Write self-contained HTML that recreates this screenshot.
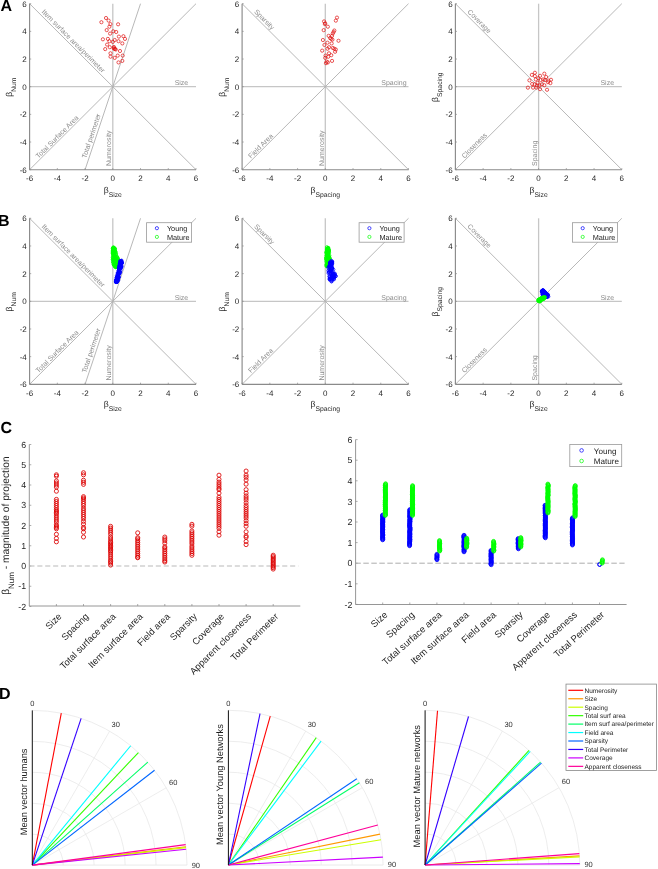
<!DOCTYPE html>
<html><head><meta charset="utf-8"><style>
html,body{margin:0;padding:0;background:#fff;overflow:hidden;width:658px;height:869px;}
svg{display:block;will-change:transform;text-rendering:geometricPrecision;font-family:"Liberation Sans", sans-serif;}
</style></head><body>
<svg width="658" height="869" viewBox="0 0 658 869">
<rect width="658" height="869" fill="#fff"/>
<line x1="29.60" y1="86.70" x2="196.00" y2="86.70" stroke="#c6c6c6" stroke-width="1.3"/>
<line x1="112.80" y1="169.70" x2="112.80" y2="3.70" stroke="#c6c6c6" stroke-width="1.3"/>
<line x1="29.60" y1="169.70" x2="196.00" y2="3.70" stroke="#b0b0b0" stroke-width="0.9"/>
<line x1="29.60" y1="3.70" x2="196.00" y2="169.70" stroke="#b0b0b0" stroke-width="0.9"/>
<line x1="85.07" y1="169.70" x2="140.53" y2="3.70" stroke="#b0b0b0" stroke-width="0.9"/>
<line x1="29.60" y1="3.70" x2="29.60" y2="169.70" stroke="#8a8a8a" stroke-width="1.15"/>
<line x1="29.60" y1="169.70" x2="196.00" y2="169.70" stroke="#8a8a8a" stroke-width="1.15"/>
<line x1="29.60" y1="169.70" x2="29.60" y2="168.10" stroke="#8a8a8a" stroke-width="0.7"/>
<line x1="29.60" y1="169.70" x2="31.20" y2="169.70" stroke="#8a8a8a" stroke-width="0.7"/>
<text x="29.60" y="180.90" font-size="8.0" fill="#262626" text-anchor="middle">-6</text>
<text x="26.80" y="172.60" font-size="8.0" fill="#262626" text-anchor="end">-6</text>
<line x1="57.33" y1="169.70" x2="57.33" y2="168.10" stroke="#8a8a8a" stroke-width="0.7"/>
<line x1="29.60" y1="142.03" x2="31.20" y2="142.03" stroke="#8a8a8a" stroke-width="0.7"/>
<text x="57.33" y="180.90" font-size="8.0" fill="#262626" text-anchor="middle">-4</text>
<text x="26.80" y="144.93" font-size="8.0" fill="#262626" text-anchor="end">-4</text>
<line x1="85.07" y1="169.70" x2="85.07" y2="168.10" stroke="#8a8a8a" stroke-width="0.7"/>
<line x1="29.60" y1="114.37" x2="31.20" y2="114.37" stroke="#8a8a8a" stroke-width="0.7"/>
<text x="85.07" y="180.90" font-size="8.0" fill="#262626" text-anchor="middle">-2</text>
<text x="26.80" y="117.27" font-size="8.0" fill="#262626" text-anchor="end">-2</text>
<line x1="112.80" y1="169.70" x2="112.80" y2="168.10" stroke="#8a8a8a" stroke-width="0.7"/>
<line x1="29.60" y1="86.70" x2="31.20" y2="86.70" stroke="#8a8a8a" stroke-width="0.7"/>
<text x="112.80" y="180.90" font-size="8.0" fill="#262626" text-anchor="middle">0</text>
<text x="26.80" y="89.60" font-size="8.0" fill="#262626" text-anchor="end">0</text>
<line x1="140.53" y1="169.70" x2="140.53" y2="168.10" stroke="#8a8a8a" stroke-width="0.7"/>
<line x1="29.60" y1="59.03" x2="31.20" y2="59.03" stroke="#8a8a8a" stroke-width="0.7"/>
<text x="140.53" y="180.90" font-size="8.0" fill="#262626" text-anchor="middle">2</text>
<text x="26.80" y="61.93" font-size="8.0" fill="#262626" text-anchor="end">2</text>
<line x1="168.27" y1="169.70" x2="168.27" y2="168.10" stroke="#8a8a8a" stroke-width="0.7"/>
<line x1="29.60" y1="31.37" x2="31.20" y2="31.37" stroke="#8a8a8a" stroke-width="0.7"/>
<text x="168.27" y="180.90" font-size="8.0" fill="#262626" text-anchor="middle">4</text>
<text x="26.80" y="34.27" font-size="8.0" fill="#262626" text-anchor="end">4</text>
<line x1="196.00" y1="169.70" x2="196.00" y2="168.10" stroke="#8a8a8a" stroke-width="0.7"/>
<line x1="29.60" y1="3.70" x2="31.20" y2="3.70" stroke="#8a8a8a" stroke-width="0.7"/>
<text x="196.00" y="180.90" font-size="8.0" fill="#262626" text-anchor="middle">6</text>
<text x="26.80" y="6.60" font-size="8.0" fill="#262626" text-anchor="end">6</text>
<text x="112.80" y="192.80" font-size="8.6" fill="#262626" text-anchor="middle">β<tspan font-size="6.8" dy="4.0">Size</tspan></text>
<text transform="translate(12.00,87.15) rotate(-90)" font-size="8.6" fill="#262626" text-anchor="middle">β<tspan font-size="6.8" dy="4.3">Num</tspan></text>
<text x="41.25" y="12.28" font-size="7" fill="#8c8c8c" text-anchor="start" transform="rotate(45 41.25 12.28)">Item surface area/perimeter</text>
<text x="181.44" y="85.32" font-size="7" fill="#8c8c8c" text-anchor="middle">Size</text>
<text x="38.61" y="158.77" font-size="7" fill="#8c8c8c" text-anchor="start" transform="rotate(-45 38.61 158.77)">Total Surface Area</text>
<text x="86.18" y="158.63" font-size="7" fill="#8c8c8c" text-anchor="start" transform="rotate(-71.57 86.18 158.63)">Total perimeter</text>
<text x="111.14" y="165.97" font-size="7" fill="#8c8c8c" text-anchor="start" transform="rotate(-90 111.14 165.97)">Numerosity</text>
<line x1="242.10" y1="86.70" x2="408.50" y2="86.70" stroke="#c6c6c6" stroke-width="1.3"/>
<line x1="325.30" y1="169.70" x2="325.30" y2="3.70" stroke="#c6c6c6" stroke-width="1.3"/>
<line x1="242.10" y1="169.70" x2="408.50" y2="3.70" stroke="#b0b0b0" stroke-width="0.9"/>
<line x1="242.10" y1="3.70" x2="408.50" y2="169.70" stroke="#b0b0b0" stroke-width="0.9"/>
<line x1="242.10" y1="3.70" x2="242.10" y2="169.70" stroke="#8a8a8a" stroke-width="1.15"/>
<line x1="242.10" y1="169.70" x2="408.50" y2="169.70" stroke="#8a8a8a" stroke-width="1.15"/>
<line x1="242.10" y1="169.70" x2="242.10" y2="168.10" stroke="#8a8a8a" stroke-width="0.7"/>
<line x1="242.10" y1="169.70" x2="243.70" y2="169.70" stroke="#8a8a8a" stroke-width="0.7"/>
<text x="242.10" y="180.90" font-size="8.0" fill="#262626" text-anchor="middle">-6</text>
<text x="239.30" y="172.60" font-size="8.0" fill="#262626" text-anchor="end">-6</text>
<line x1="269.83" y1="169.70" x2="269.83" y2="168.10" stroke="#8a8a8a" stroke-width="0.7"/>
<line x1="242.10" y1="142.03" x2="243.70" y2="142.03" stroke="#8a8a8a" stroke-width="0.7"/>
<text x="269.83" y="180.90" font-size="8.0" fill="#262626" text-anchor="middle">-4</text>
<text x="239.30" y="144.93" font-size="8.0" fill="#262626" text-anchor="end">-4</text>
<line x1="297.57" y1="169.70" x2="297.57" y2="168.10" stroke="#8a8a8a" stroke-width="0.7"/>
<line x1="242.10" y1="114.37" x2="243.70" y2="114.37" stroke="#8a8a8a" stroke-width="0.7"/>
<text x="297.57" y="180.90" font-size="8.0" fill="#262626" text-anchor="middle">-2</text>
<text x="239.30" y="117.27" font-size="8.0" fill="#262626" text-anchor="end">-2</text>
<line x1="325.30" y1="169.70" x2="325.30" y2="168.10" stroke="#8a8a8a" stroke-width="0.7"/>
<line x1="242.10" y1="86.70" x2="243.70" y2="86.70" stroke="#8a8a8a" stroke-width="0.7"/>
<text x="325.30" y="180.90" font-size="8.0" fill="#262626" text-anchor="middle">0</text>
<text x="239.30" y="89.60" font-size="8.0" fill="#262626" text-anchor="end">0</text>
<line x1="353.03" y1="169.70" x2="353.03" y2="168.10" stroke="#8a8a8a" stroke-width="0.7"/>
<line x1="242.10" y1="59.03" x2="243.70" y2="59.03" stroke="#8a8a8a" stroke-width="0.7"/>
<text x="353.03" y="180.90" font-size="8.0" fill="#262626" text-anchor="middle">2</text>
<text x="239.30" y="61.93" font-size="8.0" fill="#262626" text-anchor="end">2</text>
<line x1="380.77" y1="169.70" x2="380.77" y2="168.10" stroke="#8a8a8a" stroke-width="0.7"/>
<line x1="242.10" y1="31.37" x2="243.70" y2="31.37" stroke="#8a8a8a" stroke-width="0.7"/>
<text x="380.77" y="180.90" font-size="8.0" fill="#262626" text-anchor="middle">4</text>
<text x="239.30" y="34.27" font-size="8.0" fill="#262626" text-anchor="end">4</text>
<line x1="408.50" y1="169.70" x2="408.50" y2="168.10" stroke="#8a8a8a" stroke-width="0.7"/>
<line x1="242.10" y1="3.70" x2="243.70" y2="3.70" stroke="#8a8a8a" stroke-width="0.7"/>
<text x="408.50" y="180.90" font-size="8.0" fill="#262626" text-anchor="middle">6</text>
<text x="239.30" y="6.60" font-size="8.0" fill="#262626" text-anchor="end">6</text>
<text x="325.30" y="192.80" font-size="8.6" fill="#262626" text-anchor="middle">β<tspan font-size="6.8" dy="4.0">Spacing</tspan></text>
<text transform="translate(224.50,87.15) rotate(-90)" font-size="8.6" fill="#262626" text-anchor="middle">β<tspan font-size="6.8" dy="4.3">Num</tspan></text>
<text x="253.75" y="12.28" font-size="7" fill="#8c8c8c" text-anchor="start" transform="rotate(45 253.75 12.28)">Sparsity</text>
<text x="393.94" y="85.32" font-size="7" fill="#8c8c8c" text-anchor="middle">Spacing</text>
<text x="251.11" y="158.77" font-size="7" fill="#8c8c8c" text-anchor="start" transform="rotate(-45 251.11 158.77)">Field Area</text>
<text x="323.64" y="165.97" font-size="7" fill="#8c8c8c" text-anchor="start" transform="rotate(-90 323.64 165.97)">Numerosity</text>
<line x1="455.40" y1="86.70" x2="621.80" y2="86.70" stroke="#c6c6c6" stroke-width="1.3"/>
<line x1="538.60" y1="169.70" x2="538.60" y2="3.70" stroke="#c6c6c6" stroke-width="1.3"/>
<line x1="455.40" y1="169.70" x2="621.80" y2="3.70" stroke="#b0b0b0" stroke-width="0.9"/>
<line x1="455.40" y1="3.70" x2="621.80" y2="169.70" stroke="#b0b0b0" stroke-width="0.9"/>
<line x1="455.40" y1="3.70" x2="455.40" y2="169.70" stroke="#8a8a8a" stroke-width="1.15"/>
<line x1="455.40" y1="169.70" x2="621.80" y2="169.70" stroke="#8a8a8a" stroke-width="1.15"/>
<line x1="455.40" y1="169.70" x2="455.40" y2="168.10" stroke="#8a8a8a" stroke-width="0.7"/>
<line x1="455.40" y1="169.70" x2="457.00" y2="169.70" stroke="#8a8a8a" stroke-width="0.7"/>
<text x="455.40" y="180.90" font-size="8.0" fill="#262626" text-anchor="middle">-6</text>
<text x="452.60" y="172.60" font-size="8.0" fill="#262626" text-anchor="end">-6</text>
<line x1="483.13" y1="169.70" x2="483.13" y2="168.10" stroke="#8a8a8a" stroke-width="0.7"/>
<line x1="455.40" y1="142.03" x2="457.00" y2="142.03" stroke="#8a8a8a" stroke-width="0.7"/>
<text x="483.13" y="180.90" font-size="8.0" fill="#262626" text-anchor="middle">-4</text>
<text x="452.60" y="144.93" font-size="8.0" fill="#262626" text-anchor="end">-4</text>
<line x1="510.87" y1="169.70" x2="510.87" y2="168.10" stroke="#8a8a8a" stroke-width="0.7"/>
<line x1="455.40" y1="114.37" x2="457.00" y2="114.37" stroke="#8a8a8a" stroke-width="0.7"/>
<text x="510.87" y="180.90" font-size="8.0" fill="#262626" text-anchor="middle">-2</text>
<text x="452.60" y="117.27" font-size="8.0" fill="#262626" text-anchor="end">-2</text>
<line x1="538.60" y1="169.70" x2="538.60" y2="168.10" stroke="#8a8a8a" stroke-width="0.7"/>
<line x1="455.40" y1="86.70" x2="457.00" y2="86.70" stroke="#8a8a8a" stroke-width="0.7"/>
<text x="538.60" y="180.90" font-size="8.0" fill="#262626" text-anchor="middle">0</text>
<text x="452.60" y="89.60" font-size="8.0" fill="#262626" text-anchor="end">0</text>
<line x1="566.33" y1="169.70" x2="566.33" y2="168.10" stroke="#8a8a8a" stroke-width="0.7"/>
<line x1="455.40" y1="59.03" x2="457.00" y2="59.03" stroke="#8a8a8a" stroke-width="0.7"/>
<text x="566.33" y="180.90" font-size="8.0" fill="#262626" text-anchor="middle">2</text>
<text x="452.60" y="61.93" font-size="8.0" fill="#262626" text-anchor="end">2</text>
<line x1="594.07" y1="169.70" x2="594.07" y2="168.10" stroke="#8a8a8a" stroke-width="0.7"/>
<line x1="455.40" y1="31.37" x2="457.00" y2="31.37" stroke="#8a8a8a" stroke-width="0.7"/>
<text x="594.07" y="180.90" font-size="8.0" fill="#262626" text-anchor="middle">4</text>
<text x="452.60" y="34.27" font-size="8.0" fill="#262626" text-anchor="end">4</text>
<line x1="621.80" y1="169.70" x2="621.80" y2="168.10" stroke="#8a8a8a" stroke-width="0.7"/>
<line x1="455.40" y1="3.70" x2="457.00" y2="3.70" stroke="#8a8a8a" stroke-width="0.7"/>
<text x="621.80" y="180.90" font-size="8.0" fill="#262626" text-anchor="middle">6</text>
<text x="452.60" y="6.60" font-size="8.0" fill="#262626" text-anchor="end">6</text>
<text x="538.60" y="192.80" font-size="8.6" fill="#262626" text-anchor="middle">β<tspan font-size="6.8" dy="4.0">Size</tspan></text>
<text transform="translate(437.80,87.15) rotate(-90)" font-size="8.6" fill="#262626" text-anchor="middle">β<tspan font-size="6.8" dy="4.3">Spacing</tspan></text>
<text x="467.05" y="12.28" font-size="7" fill="#8c8c8c" text-anchor="start" transform="rotate(45 467.05 12.28)">Coverage</text>
<text x="607.24" y="85.32" font-size="7" fill="#8c8c8c" text-anchor="middle">Size</text>
<text x="464.41" y="158.77" font-size="7" fill="#8c8c8c" text-anchor="start" transform="rotate(-45 464.41 158.77)">Closeness</text>
<text x="536.94" y="165.97" font-size="7" fill="#8c8c8c" text-anchor="start" transform="rotate(-90 536.94 165.97)">Spacing</text>
<line x1="29.60" y1="301.30" x2="196.00" y2="301.30" stroke="#c6c6c6" stroke-width="1.3"/>
<line x1="112.80" y1="384.30" x2="112.80" y2="218.30" stroke="#c6c6c6" stroke-width="1.3"/>
<line x1="29.60" y1="384.30" x2="196.00" y2="218.30" stroke="#b0b0b0" stroke-width="0.9"/>
<line x1="29.60" y1="218.30" x2="196.00" y2="384.30" stroke="#b0b0b0" stroke-width="0.9"/>
<line x1="85.07" y1="384.30" x2="140.53" y2="218.30" stroke="#b0b0b0" stroke-width="0.9"/>
<line x1="29.60" y1="218.30" x2="29.60" y2="384.30" stroke="#8a8a8a" stroke-width="1.15"/>
<line x1="29.60" y1="384.30" x2="196.00" y2="384.30" stroke="#8a8a8a" stroke-width="1.15"/>
<line x1="29.60" y1="384.30" x2="29.60" y2="382.70" stroke="#8a8a8a" stroke-width="0.7"/>
<line x1="29.60" y1="384.30" x2="31.20" y2="384.30" stroke="#8a8a8a" stroke-width="0.7"/>
<text x="29.60" y="395.50" font-size="8.0" fill="#262626" text-anchor="middle">-6</text>
<text x="26.80" y="387.20" font-size="8.0" fill="#262626" text-anchor="end">-6</text>
<line x1="57.33" y1="384.30" x2="57.33" y2="382.70" stroke="#8a8a8a" stroke-width="0.7"/>
<line x1="29.60" y1="356.63" x2="31.20" y2="356.63" stroke="#8a8a8a" stroke-width="0.7"/>
<text x="57.33" y="395.50" font-size="8.0" fill="#262626" text-anchor="middle">-4</text>
<text x="26.80" y="359.53" font-size="8.0" fill="#262626" text-anchor="end">-4</text>
<line x1="85.07" y1="384.30" x2="85.07" y2="382.70" stroke="#8a8a8a" stroke-width="0.7"/>
<line x1="29.60" y1="328.97" x2="31.20" y2="328.97" stroke="#8a8a8a" stroke-width="0.7"/>
<text x="85.07" y="395.50" font-size="8.0" fill="#262626" text-anchor="middle">-2</text>
<text x="26.80" y="331.87" font-size="8.0" fill="#262626" text-anchor="end">-2</text>
<line x1="112.80" y1="384.30" x2="112.80" y2="382.70" stroke="#8a8a8a" stroke-width="0.7"/>
<line x1="29.60" y1="301.30" x2="31.20" y2="301.30" stroke="#8a8a8a" stroke-width="0.7"/>
<text x="112.80" y="395.50" font-size="8.0" fill="#262626" text-anchor="middle">0</text>
<text x="26.80" y="304.20" font-size="8.0" fill="#262626" text-anchor="end">0</text>
<line x1="140.53" y1="384.30" x2="140.53" y2="382.70" stroke="#8a8a8a" stroke-width="0.7"/>
<line x1="29.60" y1="273.63" x2="31.20" y2="273.63" stroke="#8a8a8a" stroke-width="0.7"/>
<text x="140.53" y="395.50" font-size="8.0" fill="#262626" text-anchor="middle">2</text>
<text x="26.80" y="276.53" font-size="8.0" fill="#262626" text-anchor="end">2</text>
<line x1="168.27" y1="384.30" x2="168.27" y2="382.70" stroke="#8a8a8a" stroke-width="0.7"/>
<line x1="29.60" y1="245.97" x2="31.20" y2="245.97" stroke="#8a8a8a" stroke-width="0.7"/>
<text x="168.27" y="395.50" font-size="8.0" fill="#262626" text-anchor="middle">4</text>
<text x="26.80" y="248.87" font-size="8.0" fill="#262626" text-anchor="end">4</text>
<line x1="196.00" y1="384.30" x2="196.00" y2="382.70" stroke="#8a8a8a" stroke-width="0.7"/>
<line x1="29.60" y1="218.30" x2="31.20" y2="218.30" stroke="#8a8a8a" stroke-width="0.7"/>
<text x="196.00" y="395.50" font-size="8.0" fill="#262626" text-anchor="middle">6</text>
<text x="26.80" y="221.20" font-size="8.0" fill="#262626" text-anchor="end">6</text>
<text x="112.80" y="407.40" font-size="8.6" fill="#262626" text-anchor="middle">β<tspan font-size="6.8" dy="4.0">Size</tspan></text>
<text transform="translate(12.00,301.75) rotate(-90)" font-size="8.6" fill="#262626" text-anchor="middle">β<tspan font-size="6.8" dy="4.3">Num</tspan></text>
<text x="41.25" y="226.88" font-size="7" fill="#8c8c8c" text-anchor="start" transform="rotate(45 41.25 226.88)">Item surface area/perimeter</text>
<text x="181.44" y="299.92" font-size="7" fill="#8c8c8c" text-anchor="middle">Size</text>
<text x="38.61" y="373.37" font-size="7" fill="#8c8c8c" text-anchor="start" transform="rotate(-45 38.61 373.37)">Total Surface Area</text>
<text x="86.18" y="373.23" font-size="7" fill="#8c8c8c" text-anchor="start" transform="rotate(-71.57 86.18 373.23)">Total perimeter</text>
<text x="111.14" y="380.57" font-size="7" fill="#8c8c8c" text-anchor="start" transform="rotate(-90 111.14 380.57)">Numerosity</text>
<line x1="242.10" y1="301.30" x2="408.50" y2="301.30" stroke="#c6c6c6" stroke-width="1.3"/>
<line x1="325.30" y1="384.30" x2="325.30" y2="218.30" stroke="#c6c6c6" stroke-width="1.3"/>
<line x1="242.10" y1="384.30" x2="408.50" y2="218.30" stroke="#b0b0b0" stroke-width="0.9"/>
<line x1="242.10" y1="218.30" x2="408.50" y2="384.30" stroke="#b0b0b0" stroke-width="0.9"/>
<line x1="242.10" y1="218.30" x2="242.10" y2="384.30" stroke="#8a8a8a" stroke-width="1.15"/>
<line x1="242.10" y1="384.30" x2="408.50" y2="384.30" stroke="#8a8a8a" stroke-width="1.15"/>
<line x1="242.10" y1="384.30" x2="242.10" y2="382.70" stroke="#8a8a8a" stroke-width="0.7"/>
<line x1="242.10" y1="384.30" x2="243.70" y2="384.30" stroke="#8a8a8a" stroke-width="0.7"/>
<text x="242.10" y="395.50" font-size="8.0" fill="#262626" text-anchor="middle">-6</text>
<text x="239.30" y="387.20" font-size="8.0" fill="#262626" text-anchor="end">-6</text>
<line x1="269.83" y1="384.30" x2="269.83" y2="382.70" stroke="#8a8a8a" stroke-width="0.7"/>
<line x1="242.10" y1="356.63" x2="243.70" y2="356.63" stroke="#8a8a8a" stroke-width="0.7"/>
<text x="269.83" y="395.50" font-size="8.0" fill="#262626" text-anchor="middle">-4</text>
<text x="239.30" y="359.53" font-size="8.0" fill="#262626" text-anchor="end">-4</text>
<line x1="297.57" y1="384.30" x2="297.57" y2="382.70" stroke="#8a8a8a" stroke-width="0.7"/>
<line x1="242.10" y1="328.97" x2="243.70" y2="328.97" stroke="#8a8a8a" stroke-width="0.7"/>
<text x="297.57" y="395.50" font-size="8.0" fill="#262626" text-anchor="middle">-2</text>
<text x="239.30" y="331.87" font-size="8.0" fill="#262626" text-anchor="end">-2</text>
<line x1="325.30" y1="384.30" x2="325.30" y2="382.70" stroke="#8a8a8a" stroke-width="0.7"/>
<line x1="242.10" y1="301.30" x2="243.70" y2="301.30" stroke="#8a8a8a" stroke-width="0.7"/>
<text x="325.30" y="395.50" font-size="8.0" fill="#262626" text-anchor="middle">0</text>
<text x="239.30" y="304.20" font-size="8.0" fill="#262626" text-anchor="end">0</text>
<line x1="353.03" y1="384.30" x2="353.03" y2="382.70" stroke="#8a8a8a" stroke-width="0.7"/>
<line x1="242.10" y1="273.63" x2="243.70" y2="273.63" stroke="#8a8a8a" stroke-width="0.7"/>
<text x="353.03" y="395.50" font-size="8.0" fill="#262626" text-anchor="middle">2</text>
<text x="239.30" y="276.53" font-size="8.0" fill="#262626" text-anchor="end">2</text>
<line x1="380.77" y1="384.30" x2="380.77" y2="382.70" stroke="#8a8a8a" stroke-width="0.7"/>
<line x1="242.10" y1="245.97" x2="243.70" y2="245.97" stroke="#8a8a8a" stroke-width="0.7"/>
<text x="380.77" y="395.50" font-size="8.0" fill="#262626" text-anchor="middle">4</text>
<text x="239.30" y="248.87" font-size="8.0" fill="#262626" text-anchor="end">4</text>
<line x1="408.50" y1="384.30" x2="408.50" y2="382.70" stroke="#8a8a8a" stroke-width="0.7"/>
<line x1="242.10" y1="218.30" x2="243.70" y2="218.30" stroke="#8a8a8a" stroke-width="0.7"/>
<text x="408.50" y="395.50" font-size="8.0" fill="#262626" text-anchor="middle">6</text>
<text x="239.30" y="221.20" font-size="8.0" fill="#262626" text-anchor="end">6</text>
<text x="325.30" y="407.40" font-size="8.6" fill="#262626" text-anchor="middle">β<tspan font-size="6.8" dy="4.0">Spacing</tspan></text>
<text transform="translate(224.50,301.75) rotate(-90)" font-size="8.6" fill="#262626" text-anchor="middle">β<tspan font-size="6.8" dy="4.3">Num</tspan></text>
<text x="253.75" y="226.88" font-size="7" fill="#8c8c8c" text-anchor="start" transform="rotate(45 253.75 226.88)">Sparsity</text>
<text x="393.94" y="299.92" font-size="7" fill="#8c8c8c" text-anchor="middle">Spacing</text>
<text x="251.11" y="373.37" font-size="7" fill="#8c8c8c" text-anchor="start" transform="rotate(-45 251.11 373.37)">Field Area</text>
<text x="323.64" y="380.57" font-size="7" fill="#8c8c8c" text-anchor="start" transform="rotate(-90 323.64 380.57)">Numerosity</text>
<line x1="455.40" y1="301.30" x2="621.80" y2="301.30" stroke="#c6c6c6" stroke-width="1.3"/>
<line x1="538.60" y1="384.30" x2="538.60" y2="218.30" stroke="#c6c6c6" stroke-width="1.3"/>
<line x1="455.40" y1="384.30" x2="621.80" y2="218.30" stroke="#b0b0b0" stroke-width="0.9"/>
<line x1="455.40" y1="218.30" x2="621.80" y2="384.30" stroke="#b0b0b0" stroke-width="0.9"/>
<line x1="455.40" y1="218.30" x2="455.40" y2="384.30" stroke="#8a8a8a" stroke-width="1.15"/>
<line x1="455.40" y1="384.30" x2="621.80" y2="384.30" stroke="#8a8a8a" stroke-width="1.15"/>
<line x1="455.40" y1="384.30" x2="455.40" y2="382.70" stroke="#8a8a8a" stroke-width="0.7"/>
<line x1="455.40" y1="384.30" x2="457.00" y2="384.30" stroke="#8a8a8a" stroke-width="0.7"/>
<text x="455.40" y="395.50" font-size="8.0" fill="#262626" text-anchor="middle">-6</text>
<text x="452.60" y="387.20" font-size="8.0" fill="#262626" text-anchor="end">-6</text>
<line x1="483.13" y1="384.30" x2="483.13" y2="382.70" stroke="#8a8a8a" stroke-width="0.7"/>
<line x1="455.40" y1="356.63" x2="457.00" y2="356.63" stroke="#8a8a8a" stroke-width="0.7"/>
<text x="483.13" y="395.50" font-size="8.0" fill="#262626" text-anchor="middle">-4</text>
<text x="452.60" y="359.53" font-size="8.0" fill="#262626" text-anchor="end">-4</text>
<line x1="510.87" y1="384.30" x2="510.87" y2="382.70" stroke="#8a8a8a" stroke-width="0.7"/>
<line x1="455.40" y1="328.97" x2="457.00" y2="328.97" stroke="#8a8a8a" stroke-width="0.7"/>
<text x="510.87" y="395.50" font-size="8.0" fill="#262626" text-anchor="middle">-2</text>
<text x="452.60" y="331.87" font-size="8.0" fill="#262626" text-anchor="end">-2</text>
<line x1="538.60" y1="384.30" x2="538.60" y2="382.70" stroke="#8a8a8a" stroke-width="0.7"/>
<line x1="455.40" y1="301.30" x2="457.00" y2="301.30" stroke="#8a8a8a" stroke-width="0.7"/>
<text x="538.60" y="395.50" font-size="8.0" fill="#262626" text-anchor="middle">0</text>
<text x="452.60" y="304.20" font-size="8.0" fill="#262626" text-anchor="end">0</text>
<line x1="566.33" y1="384.30" x2="566.33" y2="382.70" stroke="#8a8a8a" stroke-width="0.7"/>
<line x1="455.40" y1="273.63" x2="457.00" y2="273.63" stroke="#8a8a8a" stroke-width="0.7"/>
<text x="566.33" y="395.50" font-size="8.0" fill="#262626" text-anchor="middle">2</text>
<text x="452.60" y="276.53" font-size="8.0" fill="#262626" text-anchor="end">2</text>
<line x1="594.07" y1="384.30" x2="594.07" y2="382.70" stroke="#8a8a8a" stroke-width="0.7"/>
<line x1="455.40" y1="245.97" x2="457.00" y2="245.97" stroke="#8a8a8a" stroke-width="0.7"/>
<text x="594.07" y="395.50" font-size="8.0" fill="#262626" text-anchor="middle">4</text>
<text x="452.60" y="248.87" font-size="8.0" fill="#262626" text-anchor="end">4</text>
<line x1="621.80" y1="384.30" x2="621.80" y2="382.70" stroke="#8a8a8a" stroke-width="0.7"/>
<line x1="455.40" y1="218.30" x2="457.00" y2="218.30" stroke="#8a8a8a" stroke-width="0.7"/>
<text x="621.80" y="395.50" font-size="8.0" fill="#262626" text-anchor="middle">6</text>
<text x="452.60" y="221.20" font-size="8.0" fill="#262626" text-anchor="end">6</text>
<text x="538.60" y="407.40" font-size="8.6" fill="#262626" text-anchor="middle">β<tspan font-size="6.8" dy="4.0">Size</tspan></text>
<text transform="translate(437.80,301.75) rotate(-90)" font-size="8.6" fill="#262626" text-anchor="middle">β<tspan font-size="6.8" dy="4.3">Spacing</tspan></text>
<text x="467.05" y="226.88" font-size="7" fill="#8c8c8c" text-anchor="start" transform="rotate(45 467.05 226.88)">Coverage</text>
<text x="607.24" y="299.92" font-size="7" fill="#8c8c8c" text-anchor="middle">Size</text>
<text x="464.41" y="373.37" font-size="7" fill="#8c8c8c" text-anchor="start" transform="rotate(-45 464.41 373.37)">Closeness</text>
<text x="536.94" y="380.57" font-size="7" fill="#8c8c8c" text-anchor="start" transform="rotate(-90 536.94 380.57)">Spacing</text>
<circle cx="106.00" cy="18.00" r="1.6" fill="none" stroke="#e01010" stroke-width="0.7"/>
<circle cx="101.40" cy="22.20" r="1.6" fill="none" stroke="#e01010" stroke-width="0.7"/>
<circle cx="108.60" cy="20.60" r="1.6" fill="none" stroke="#e01010" stroke-width="0.7"/>
<circle cx="110.40" cy="24.10" r="1.6" fill="none" stroke="#e01010" stroke-width="0.7"/>
<circle cx="118.10" cy="24.30" r="1.6" fill="none" stroke="#e01010" stroke-width="0.7"/>
<circle cx="109.40" cy="26.70" r="1.6" fill="none" stroke="#e01010" stroke-width="0.7"/>
<circle cx="106.70" cy="30.10" r="1.6" fill="none" stroke="#e01010" stroke-width="0.7"/>
<circle cx="110.10" cy="33.60" r="1.6" fill="none" stroke="#e01010" stroke-width="0.7"/>
<circle cx="113.20" cy="31.30" r="1.6" fill="none" stroke="#e01010" stroke-width="0.7"/>
<circle cx="116.20" cy="32.00" r="1.6" fill="none" stroke="#e01010" stroke-width="0.7"/>
<circle cx="118.90" cy="36.60" r="1.6" fill="none" stroke="#e01010" stroke-width="0.7"/>
<circle cx="123.40" cy="36.20" r="1.6" fill="none" stroke="#e01010" stroke-width="0.7"/>
<circle cx="125.00" cy="38.90" r="1.6" fill="none" stroke="#e01010" stroke-width="0.7"/>
<circle cx="102.90" cy="39.30" r="1.6" fill="none" stroke="#e01010" stroke-width="0.7"/>
<circle cx="107.90" cy="38.90" r="1.6" fill="none" stroke="#e01010" stroke-width="0.7"/>
<circle cx="109.40" cy="41.20" r="1.6" fill="none" stroke="#e01010" stroke-width="0.7"/>
<circle cx="114.70" cy="40.00" r="1.6" fill="none" stroke="#e01010" stroke-width="0.7"/>
<circle cx="118.50" cy="41.20" r="1.6" fill="none" stroke="#e01010" stroke-width="0.7"/>
<circle cx="122.30" cy="43.40" r="1.6" fill="none" stroke="#e01010" stroke-width="0.7"/>
<circle cx="107.10" cy="44.60" r="1.6" fill="none" stroke="#e01010" stroke-width="0.7"/>
<circle cx="105.20" cy="49.10" r="1.6" fill="none" stroke="#e01010" stroke-width="0.7"/>
<circle cx="109.80" cy="47.20" r="1.6" fill="none" stroke="#e01010" stroke-width="0.7"/>
<circle cx="114.30" cy="48.80" r="1.6" fill="none" stroke="#e01010" stroke-width="0.7"/>
<circle cx="115.80" cy="49.50" r="1.6" fill="none" stroke="#e01010" stroke-width="0.7"/>
<circle cx="120.00" cy="51.00" r="1.6" fill="none" stroke="#e01010" stroke-width="0.7"/>
<circle cx="110.50" cy="53.30" r="1.6" fill="none" stroke="#e01010" stroke-width="0.7"/>
<circle cx="110.50" cy="56.70" r="1.6" fill="none" stroke="#e01010" stroke-width="0.7"/>
<circle cx="114.70" cy="57.90" r="1.6" fill="none" stroke="#e01010" stroke-width="0.7"/>
<circle cx="117.70" cy="55.60" r="1.6" fill="none" stroke="#e01010" stroke-width="0.7"/>
<circle cx="122.70" cy="55.60" r="1.6" fill="none" stroke="#e01010" stroke-width="0.7"/>
<circle cx="118.50" cy="62.40" r="1.6" fill="none" stroke="#e01010" stroke-width="0.7"/>
<circle cx="122.30" cy="60.90" r="1.6" fill="none" stroke="#e01010" stroke-width="0.7"/>
<circle cx="113.60" cy="48.00" r="1.6" fill="none" stroke="#e01010" stroke-width="0.7"/>
<circle cx="112.80" cy="41.90" r="1.6" fill="none" stroke="#e01010" stroke-width="0.7"/>
<circle cx="114.00" cy="47.00" r="1.6" fill="none" stroke="#e01010" stroke-width="0.7"/>
<circle cx="115.00" cy="49.00" r="1.6" fill="none" stroke="#e01010" stroke-width="0.7"/>
<circle cx="336.98" cy="17.60" r="1.6" fill="none" stroke="#e01010" stroke-width="0.7"/>
<circle cx="335.84" cy="20.64" r="1.6" fill="none" stroke="#e01010" stroke-width="0.7"/>
<circle cx="324.06" cy="21.40" r="1.6" fill="none" stroke="#e01010" stroke-width="0.7"/>
<circle cx="325.20" cy="23.30" r="1.6" fill="none" stroke="#e01010" stroke-width="0.7"/>
<circle cx="324.82" cy="24.06" r="1.6" fill="none" stroke="#e01010" stroke-width="0.7"/>
<circle cx="327.86" cy="26.72" r="1.6" fill="none" stroke="#e01010" stroke-width="0.7"/>
<circle cx="323.68" cy="30.14" r="1.6" fill="none" stroke="#e01010" stroke-width="0.7"/>
<circle cx="334.32" cy="30.52" r="1.6" fill="none" stroke="#e01010" stroke-width="0.7"/>
<circle cx="333.56" cy="32.04" r="1.6" fill="none" stroke="#e01010" stroke-width="0.7"/>
<circle cx="332.80" cy="33.56" r="1.6" fill="none" stroke="#e01010" stroke-width="0.7"/>
<circle cx="328.62" cy="35.84" r="1.6" fill="none" stroke="#e01010" stroke-width="0.7"/>
<circle cx="332.04" cy="35.84" r="1.6" fill="none" stroke="#e01010" stroke-width="0.7"/>
<circle cx="330.14" cy="38.12" r="1.6" fill="none" stroke="#e01010" stroke-width="0.7"/>
<circle cx="331.28" cy="38.88" r="1.6" fill="none" stroke="#e01010" stroke-width="0.7"/>
<circle cx="332.42" cy="39.64" r="1.6" fill="none" stroke="#e01010" stroke-width="0.7"/>
<circle cx="322.92" cy="40.02" r="1.6" fill="none" stroke="#e01010" stroke-width="0.7"/>
<circle cx="338.50" cy="40.78" r="1.6" fill="none" stroke="#e01010" stroke-width="0.7"/>
<circle cx="327.48" cy="42.67" r="1.6" fill="none" stroke="#e01010" stroke-width="0.7"/>
<circle cx="331.66" cy="43.43" r="1.6" fill="none" stroke="#e01010" stroke-width="0.7"/>
<circle cx="324.44" cy="44.95" r="1.6" fill="none" stroke="#e01010" stroke-width="0.7"/>
<circle cx="329.00" cy="47.23" r="1.6" fill="none" stroke="#e01010" stroke-width="0.7"/>
<circle cx="327.48" cy="48.75" r="1.6" fill="none" stroke="#e01010" stroke-width="0.7"/>
<circle cx="332.80" cy="47.99" r="1.6" fill="none" stroke="#e01010" stroke-width="0.7"/>
<circle cx="334.32" cy="48.75" r="1.6" fill="none" stroke="#e01010" stroke-width="0.7"/>
<circle cx="335.84" cy="49.51" r="1.6" fill="none" stroke="#e01010" stroke-width="0.7"/>
<circle cx="322.16" cy="50.65" r="1.6" fill="none" stroke="#e01010" stroke-width="0.7"/>
<circle cx="335.08" cy="51.79" r="1.6" fill="none" stroke="#e01010" stroke-width="0.7"/>
<circle cx="329.00" cy="53.31" r="1.6" fill="none" stroke="#e01010" stroke-width="0.7"/>
<circle cx="331.28" cy="55.21" r="1.6" fill="none" stroke="#e01010" stroke-width="0.7"/>
<circle cx="325.58" cy="55.59" r="1.6" fill="none" stroke="#e01010" stroke-width="0.7"/>
<circle cx="325.20" cy="57.87" r="1.6" fill="none" stroke="#e01010" stroke-width="0.7"/>
<circle cx="328.24" cy="56.73" r="1.6" fill="none" stroke="#e01010" stroke-width="0.7"/>
<circle cx="332.04" cy="60.91" r="1.6" fill="none" stroke="#e01010" stroke-width="0.7"/>
<circle cx="326.72" cy="61.67" r="1.6" fill="none" stroke="#e01010" stroke-width="0.7"/>
<circle cx="325.96" cy="63.19" r="1.6" fill="none" stroke="#e01010" stroke-width="0.7"/>
<circle cx="327.86" cy="62.43" r="1.6" fill="none" stroke="#e01010" stroke-width="0.7"/>
<circle cx="531.85" cy="74.89" r="1.6" fill="none" stroke="#e01010" stroke-width="0.7"/>
<circle cx="534.89" cy="72.77" r="1.6" fill="none" stroke="#e01010" stroke-width="0.7"/>
<circle cx="544.32" cy="73.68" r="1.6" fill="none" stroke="#e01010" stroke-width="0.7"/>
<circle cx="534.89" cy="76.11" r="1.6" fill="none" stroke="#e01010" stroke-width="0.7"/>
<circle cx="529.42" cy="80.36" r="1.6" fill="none" stroke="#e01010" stroke-width="0.7"/>
<circle cx="535.81" cy="79.45" r="1.6" fill="none" stroke="#e01010" stroke-width="0.7"/>
<circle cx="540.06" cy="75.81" r="1.6" fill="none" stroke="#e01010" stroke-width="0.7"/>
<circle cx="546.14" cy="77.02" r="1.6" fill="none" stroke="#e01010" stroke-width="0.7"/>
<circle cx="548.57" cy="80.67" r="1.6" fill="none" stroke="#e01010" stroke-width="0.7"/>
<circle cx="551.00" cy="79.76" r="1.6" fill="none" stroke="#e01010" stroke-width="0.7"/>
<circle cx="532.16" cy="84.01" r="1.6" fill="none" stroke="#e01010" stroke-width="0.7"/>
<circle cx="534.59" cy="84.32" r="1.6" fill="none" stroke="#e01010" stroke-width="0.7"/>
<circle cx="537.63" cy="82.80" r="1.6" fill="none" stroke="#e01010" stroke-width="0.7"/>
<circle cx="540.67" cy="80.06" r="1.6" fill="none" stroke="#e01010" stroke-width="0.7"/>
<circle cx="543.10" cy="79.45" r="1.6" fill="none" stroke="#e01010" stroke-width="0.7"/>
<circle cx="544.92" cy="80.06" r="1.6" fill="none" stroke="#e01010" stroke-width="0.7"/>
<circle cx="541.88" cy="84.32" r="1.6" fill="none" stroke="#e01010" stroke-width="0.7"/>
<circle cx="544.32" cy="85.23" r="1.6" fill="none" stroke="#e01010" stroke-width="0.7"/>
<circle cx="527.90" cy="87.66" r="1.6" fill="none" stroke="#e01010" stroke-width="0.7"/>
<circle cx="533.07" cy="87.66" r="1.6" fill="none" stroke="#e01010" stroke-width="0.7"/>
<circle cx="536.41" cy="87.66" r="1.6" fill="none" stroke="#e01010" stroke-width="0.7"/>
<circle cx="540.06" cy="89.18" r="1.6" fill="none" stroke="#e01010" stroke-width="0.7"/>
<circle cx="547.05" cy="89.79" r="1.6" fill="none" stroke="#e01010" stroke-width="0.7"/>
<circle cx="550.40" cy="83.10" r="1.6" fill="none" stroke="#e01010" stroke-width="0.7"/>
<circle cx="538.24" cy="78.24" r="1.6" fill="none" stroke="#e01010" stroke-width="0.7"/>
<circle cx="547.96" cy="82.19" r="1.6" fill="none" stroke="#e01010" stroke-width="0.7"/>
<circle cx="539.45" cy="85.53" r="1.6" fill="none" stroke="#e01010" stroke-width="0.7"/>
<circle cx="537.02" cy="85.53" r="1.6" fill="none" stroke="#e01010" stroke-width="0.7"/>
<circle cx="113.23" cy="254.95" r="1.5" fill="none" stroke="#00ff00" stroke-width="0.75"/>
<circle cx="114.06" cy="248.93" r="1.5" fill="none" stroke="#00ff00" stroke-width="0.75"/>
<circle cx="113.96" cy="248.22" r="1.5" fill="none" stroke="#00ff00" stroke-width="0.75"/>
<circle cx="112.95" cy="256.92" r="1.5" fill="none" stroke="#00ff00" stroke-width="0.75"/>
<circle cx="116.73" cy="256.74" r="1.5" fill="none" stroke="#00ff00" stroke-width="0.75"/>
<circle cx="114.77" cy="252.95" r="1.5" fill="none" stroke="#00ff00" stroke-width="0.75"/>
<circle cx="114.90" cy="260.81" r="1.5" fill="none" stroke="#00ff00" stroke-width="0.75"/>
<circle cx="114.74" cy="248.27" r="1.5" fill="none" stroke="#00ff00" stroke-width="0.75"/>
<circle cx="113.03" cy="250.44" r="1.5" fill="none" stroke="#00ff00" stroke-width="0.75"/>
<circle cx="114.06" cy="264.16" r="1.5" fill="none" stroke="#00ff00" stroke-width="0.75"/>
<circle cx="114.84" cy="261.28" r="1.5" fill="none" stroke="#00ff00" stroke-width="0.75"/>
<circle cx="112.89" cy="248.53" r="1.5" fill="none" stroke="#00ff00" stroke-width="0.75"/>
<circle cx="115.17" cy="261.66" r="1.5" fill="none" stroke="#00ff00" stroke-width="0.75"/>
<circle cx="115.22" cy="260.13" r="1.5" fill="none" stroke="#00ff00" stroke-width="0.75"/>
<circle cx="116.40" cy="263.40" r="1.5" fill="none" stroke="#00ff00" stroke-width="0.75"/>
<circle cx="115.60" cy="260.64" r="1.5" fill="none" stroke="#00ff00" stroke-width="0.75"/>
<circle cx="114.51" cy="263.25" r="1.5" fill="none" stroke="#00ff00" stroke-width="0.75"/>
<circle cx="113.86" cy="250.41" r="1.5" fill="none" stroke="#00ff00" stroke-width="0.75"/>
<circle cx="114.13" cy="250.29" r="1.5" fill="none" stroke="#00ff00" stroke-width="0.75"/>
<circle cx="116.91" cy="261.78" r="1.5" fill="none" stroke="#00ff00" stroke-width="0.75"/>
<circle cx="114.61" cy="265.24" r="1.5" fill="none" stroke="#00ff00" stroke-width="0.75"/>
<circle cx="115.90" cy="260.46" r="1.5" fill="none" stroke="#00ff00" stroke-width="0.75"/>
<circle cx="117.19" cy="264.41" r="1.5" fill="none" stroke="#00ff00" stroke-width="0.75"/>
<circle cx="113.24" cy="261.87" r="1.5" fill="none" stroke="#00ff00" stroke-width="0.75"/>
<circle cx="118.10" cy="261.74" r="1.5" fill="none" stroke="#00ff00" stroke-width="0.75"/>
<circle cx="114.10" cy="254.03" r="1.5" fill="none" stroke="#00ff00" stroke-width="0.75"/>
<circle cx="113.77" cy="247.60" r="1.5" fill="none" stroke="#00ff00" stroke-width="0.75"/>
<circle cx="112.87" cy="250.40" r="1.5" fill="none" stroke="#00ff00" stroke-width="0.75"/>
<circle cx="113.40" cy="250.21" r="1.5" fill="none" stroke="#00ff00" stroke-width="0.75"/>
<circle cx="113.74" cy="264.88" r="1.5" fill="none" stroke="#00ff00" stroke-width="0.75"/>
<circle cx="117.54" cy="260.17" r="1.5" fill="none" stroke="#00ff00" stroke-width="0.75"/>
<circle cx="114.48" cy="264.72" r="1.5" fill="none" stroke="#00ff00" stroke-width="0.75"/>
<circle cx="116.55" cy="256.16" r="1.5" fill="none" stroke="#00ff00" stroke-width="0.75"/>
<circle cx="113.20" cy="250.50" r="1.5" fill="none" stroke="#00ff00" stroke-width="0.75"/>
<circle cx="114.31" cy="252.74" r="1.5" fill="none" stroke="#00ff00" stroke-width="0.75"/>
<circle cx="112.62" cy="253.21" r="1.5" fill="none" stroke="#00ff00" stroke-width="0.75"/>
<circle cx="115.18" cy="256.41" r="1.5" fill="none" stroke="#00ff00" stroke-width="0.75"/>
<circle cx="115.63" cy="262.19" r="1.5" fill="none" stroke="#00ff00" stroke-width="0.75"/>
<circle cx="113.23" cy="262.30" r="1.5" fill="none" stroke="#00ff00" stroke-width="0.75"/>
<circle cx="117.28" cy="263.84" r="1.5" fill="none" stroke="#00ff00" stroke-width="0.75"/>
<circle cx="114.49" cy="255.94" r="1.5" fill="none" stroke="#00ff00" stroke-width="0.75"/>
<circle cx="113.20" cy="260.63" r="1.5" fill="none" stroke="#00ff00" stroke-width="0.75"/>
<circle cx="113.17" cy="251.90" r="1.5" fill="none" stroke="#00ff00" stroke-width="0.75"/>
<circle cx="112.76" cy="248.24" r="1.5" fill="none" stroke="#00ff00" stroke-width="0.75"/>
<circle cx="113.68" cy="249.16" r="1.5" fill="none" stroke="#00ff00" stroke-width="0.75"/>
<circle cx="115.72" cy="264.57" r="1.5" fill="none" stroke="#00ff00" stroke-width="0.75"/>
<circle cx="113.86" cy="252.89" r="1.5" fill="none" stroke="#00ff00" stroke-width="0.75"/>
<circle cx="115.07" cy="250.79" r="1.5" fill="none" stroke="#00ff00" stroke-width="0.75"/>
<circle cx="115.18" cy="257.69" r="1.5" fill="none" stroke="#00ff00" stroke-width="0.75"/>
<circle cx="113.63" cy="249.47" r="1.5" fill="none" stroke="#00ff00" stroke-width="0.75"/>
<circle cx="114.00" cy="263.69" r="1.5" fill="none" stroke="#00ff00" stroke-width="0.75"/>
<circle cx="115.20" cy="265.79" r="1.5" fill="none" stroke="#00ff00" stroke-width="0.75"/>
<circle cx="112.83" cy="259.72" r="1.5" fill="none" stroke="#00ff00" stroke-width="0.75"/>
<circle cx="116.00" cy="266.89" r="1.5" fill="none" stroke="#00ff00" stroke-width="0.75"/>
<circle cx="113.95" cy="252.87" r="1.5" fill="none" stroke="#00ff00" stroke-width="0.75"/>
<circle cx="115.70" cy="263.69" r="1.5" fill="none" stroke="#00ff00" stroke-width="0.75"/>
<circle cx="113.55" cy="255.29" r="1.5" fill="none" stroke="#00ff00" stroke-width="0.75"/>
<circle cx="115.94" cy="267.13" r="1.5" fill="none" stroke="#00ff00" stroke-width="0.75"/>
<circle cx="116.46" cy="263.77" r="1.5" fill="none" stroke="#00ff00" stroke-width="0.75"/>
<circle cx="114.61" cy="258.72" r="1.5" fill="none" stroke="#00ff00" stroke-width="0.75"/>
<circle cx="113.39" cy="247.83" r="1.5" fill="none" stroke="#00ff00" stroke-width="0.75"/>
<circle cx="117.90" cy="262.02" r="1.5" fill="none" stroke="#00ff00" stroke-width="0.75"/>
<circle cx="116.64" cy="266.54" r="1.5" fill="none" stroke="#00ff00" stroke-width="0.75"/>
<circle cx="113.60" cy="255.42" r="1.5" fill="none" stroke="#00ff00" stroke-width="0.75"/>
<circle cx="113.31" cy="251.98" r="1.5" fill="none" stroke="#00ff00" stroke-width="0.75"/>
<circle cx="116.41" cy="265.38" r="1.5" fill="none" stroke="#00ff00" stroke-width="0.75"/>
<circle cx="117.09" cy="260.95" r="1.5" fill="none" stroke="#00ff00" stroke-width="0.75"/>
<circle cx="117.67" cy="261.91" r="1.5" fill="none" stroke="#00ff00" stroke-width="0.75"/>
<circle cx="115.49" cy="262.62" r="1.5" fill="none" stroke="#00ff00" stroke-width="0.75"/>
<circle cx="114.74" cy="263.99" r="1.5" fill="none" stroke="#00ff00" stroke-width="0.75"/>
<circle cx="114.79" cy="266.43" r="1.5" fill="none" stroke="#00ff00" stroke-width="0.75"/>
<circle cx="115.79" cy="265.75" r="1.5" fill="none" stroke="#00ff00" stroke-width="0.75"/>
<circle cx="113.12" cy="250.78" r="1.5" fill="none" stroke="#00ff00" stroke-width="0.75"/>
<circle cx="113.90" cy="264.30" r="1.5" fill="none" stroke="#00ff00" stroke-width="0.75"/>
<circle cx="115.46" cy="266.51" r="1.5" fill="none" stroke="#00ff00" stroke-width="0.75"/>
<circle cx="113.42" cy="259.20" r="1.5" fill="none" stroke="#00ff00" stroke-width="0.75"/>
<circle cx="115.47" cy="266.57" r="1.5" fill="none" stroke="#00ff00" stroke-width="0.75"/>
<circle cx="114.95" cy="266.38" r="1.5" fill="none" stroke="#00ff00" stroke-width="0.75"/>
<circle cx="114.20" cy="263.92" r="1.5" fill="none" stroke="#00ff00" stroke-width="0.75"/>
<circle cx="113.55" cy="254.13" r="1.5" fill="none" stroke="#00ff00" stroke-width="0.75"/>
<circle cx="114.14" cy="252.78" r="1.5" fill="none" stroke="#00ff00" stroke-width="0.75"/>
<circle cx="114.73" cy="265.51" r="1.5" fill="none" stroke="#00ff00" stroke-width="0.75"/>
<circle cx="117.65" cy="260.24" r="1.5" fill="none" stroke="#00ff00" stroke-width="0.75"/>
<circle cx="115.20" cy="265.72" r="1.5" fill="none" stroke="#00ff00" stroke-width="0.75"/>
<circle cx="112.75" cy="259.30" r="1.5" fill="none" stroke="#00ff00" stroke-width="0.75"/>
<circle cx="112.67" cy="251.89" r="1.5" fill="none" stroke="#00ff00" stroke-width="0.75"/>
<circle cx="114.13" cy="251.56" r="1.5" fill="none" stroke="#00ff00" stroke-width="0.75"/>
<circle cx="114.49" cy="259.93" r="1.5" fill="none" stroke="#00ff00" stroke-width="0.75"/>
<circle cx="117.00" cy="259.41" r="1.5" fill="none" stroke="#00ff00" stroke-width="0.75"/>
<circle cx="114.08" cy="259.70" r="1.5" fill="none" stroke="#00ff00" stroke-width="0.75"/>
<circle cx="115.58" cy="263.43" r="1.5" fill="none" stroke="#00ff00" stroke-width="0.75"/>
<circle cx="117.60" cy="263.09" r="1.5" fill="none" stroke="#00ff00" stroke-width="0.75"/>
<circle cx="115.52" cy="260.82" r="1.5" fill="none" stroke="#00ff00" stroke-width="0.75"/>
<circle cx="115.31" cy="262.12" r="1.5" fill="none" stroke="#00ff00" stroke-width="0.75"/>
<circle cx="117.71" cy="258.71" r="1.5" fill="none" stroke="#00ff00" stroke-width="0.75"/>
<circle cx="116.93" cy="264.74" r="1.5" fill="none" stroke="#00ff00" stroke-width="0.75"/>
<circle cx="117.87" cy="260.36" r="1.5" fill="none" stroke="#00ff00" stroke-width="0.75"/>
<circle cx="113.04" cy="250.45" r="1.5" fill="none" stroke="#00ff00" stroke-width="0.75"/>
<circle cx="113.33" cy="248.58" r="1.5" fill="none" stroke="#00ff00" stroke-width="0.75"/>
<circle cx="117.01" cy="262.19" r="1.5" fill="none" stroke="#00ff00" stroke-width="0.75"/>
<circle cx="114.82" cy="251.09" r="1.5" fill="none" stroke="#00ff00" stroke-width="0.75"/>
<circle cx="115.26" cy="251.21" r="1.5" fill="none" stroke="#00ff00" stroke-width="0.75"/>
<circle cx="115.87" cy="252.21" r="1.5" fill="none" stroke="#00ff00" stroke-width="0.75"/>
<circle cx="118.04" cy="259.09" r="1.5" fill="none" stroke="#00ff00" stroke-width="0.75"/>
<circle cx="113.98" cy="251.07" r="1.5" fill="none" stroke="#00ff00" stroke-width="0.75"/>
<circle cx="113.44" cy="254.92" r="1.5" fill="none" stroke="#00ff00" stroke-width="0.75"/>
<circle cx="113.14" cy="262.62" r="1.5" fill="none" stroke="#00ff00" stroke-width="0.75"/>
<circle cx="112.69" cy="257.37" r="1.5" fill="none" stroke="#00ff00" stroke-width="0.75"/>
<circle cx="115.56" cy="260.46" r="1.5" fill="none" stroke="#00ff00" stroke-width="0.75"/>
<circle cx="115.77" cy="267.33" r="1.5" fill="none" stroke="#00ff00" stroke-width="0.75"/>
<circle cx="113.43" cy="249.25" r="1.5" fill="none" stroke="#00ff00" stroke-width="0.75"/>
<circle cx="114.45" cy="263.02" r="1.5" fill="none" stroke="#00ff00" stroke-width="0.75"/>
<circle cx="117.14" cy="257.52" r="1.5" fill="none" stroke="#00ff00" stroke-width="0.75"/>
<circle cx="113.15" cy="253.71" r="1.5" fill="none" stroke="#00ff00" stroke-width="0.75"/>
<circle cx="116.54" cy="259.64" r="1.5" fill="none" stroke="#00ff00" stroke-width="0.75"/>
<circle cx="114.38" cy="248.68" r="1.5" fill="none" stroke="#00ff00" stroke-width="0.75"/>
<circle cx="115.05" cy="249.25" r="1.5" fill="none" stroke="#00ff00" stroke-width="0.75"/>
<circle cx="113.62" cy="264.25" r="1.5" fill="none" stroke="#00ff00" stroke-width="0.75"/>
<circle cx="114.84" cy="248.91" r="1.5" fill="none" stroke="#00ff00" stroke-width="0.75"/>
<circle cx="114.99" cy="255.65" r="1.5" fill="none" stroke="#00ff00" stroke-width="0.75"/>
<circle cx="113.08" cy="253.46" r="1.5" fill="none" stroke="#00ff00" stroke-width="0.75"/>
<circle cx="113.00" cy="252.34" r="1.5" fill="none" stroke="#00ff00" stroke-width="0.75"/>
<circle cx="113.23" cy="248.38" r="1.5" fill="none" stroke="#00ff00" stroke-width="0.75"/>
<circle cx="115.67" cy="254.07" r="1.5" fill="none" stroke="#00ff00" stroke-width="0.75"/>
<circle cx="113.60" cy="258.82" r="1.5" fill="none" stroke="#00ff00" stroke-width="0.75"/>
<circle cx="113.32" cy="247.32" r="1.5" fill="none" stroke="#00ff00" stroke-width="0.75"/>
<circle cx="115.84" cy="262.36" r="1.5" fill="none" stroke="#00ff00" stroke-width="0.75"/>
<circle cx="117.65" cy="257.92" r="1.5" fill="none" stroke="#00ff00" stroke-width="0.75"/>
<circle cx="115.14" cy="264.10" r="1.5" fill="none" stroke="#00ff00" stroke-width="0.75"/>
<circle cx="114.96" cy="264.36" r="1.5" fill="none" stroke="#00ff00" stroke-width="0.75"/>
<circle cx="118.03" cy="261.82" r="1.5" fill="none" stroke="#00ff00" stroke-width="0.75"/>
<circle cx="116.26" cy="264.48" r="1.5" fill="none" stroke="#00ff00" stroke-width="0.75"/>
<circle cx="114.28" cy="256.18" r="1.5" fill="none" stroke="#00ff00" stroke-width="0.75"/>
<circle cx="112.90" cy="250.65" r="1.5" fill="none" stroke="#00ff00" stroke-width="0.75"/>
<circle cx="113.19" cy="252.64" r="1.5" fill="none" stroke="#00ff00" stroke-width="0.75"/>
<circle cx="116.88" cy="264.66" r="1.5" fill="none" stroke="#00ff00" stroke-width="0.75"/>
<circle cx="113.53" cy="253.52" r="1.5" fill="none" stroke="#00ff00" stroke-width="0.75"/>
<circle cx="113.43" cy="257.96" r="1.5" fill="none" stroke="#00ff00" stroke-width="0.75"/>
<circle cx="116.16" cy="253.88" r="1.5" fill="none" stroke="#00ff00" stroke-width="0.75"/>
<circle cx="114.04" cy="260.31" r="1.5" fill="none" stroke="#00ff00" stroke-width="0.75"/>
<circle cx="119.72" cy="267.07" r="1.5" fill="none" stroke="#0000ff" stroke-width="0.75"/>
<circle cx="119.54" cy="269.69" r="1.5" fill="none" stroke="#0000ff" stroke-width="0.75"/>
<circle cx="120.73" cy="264.33" r="1.5" fill="none" stroke="#0000ff" stroke-width="0.75"/>
<circle cx="119.34" cy="266.28" r="1.5" fill="none" stroke="#0000ff" stroke-width="0.75"/>
<circle cx="120.25" cy="261.18" r="1.5" fill="none" stroke="#0000ff" stroke-width="0.75"/>
<circle cx="120.80" cy="265.66" r="1.5" fill="none" stroke="#0000ff" stroke-width="0.75"/>
<circle cx="117.38" cy="280.26" r="1.5" fill="none" stroke="#0000ff" stroke-width="0.75"/>
<circle cx="116.44" cy="280.82" r="1.5" fill="none" stroke="#0000ff" stroke-width="0.75"/>
<circle cx="115.90" cy="282.15" r="1.5" fill="none" stroke="#0000ff" stroke-width="0.75"/>
<circle cx="116.63" cy="277.41" r="1.5" fill="none" stroke="#0000ff" stroke-width="0.75"/>
<circle cx="116.82" cy="281.42" r="1.5" fill="none" stroke="#0000ff" stroke-width="0.75"/>
<circle cx="116.07" cy="280.53" r="1.5" fill="none" stroke="#0000ff" stroke-width="0.75"/>
<circle cx="119.64" cy="273.49" r="1.5" fill="none" stroke="#0000ff" stroke-width="0.75"/>
<circle cx="116.96" cy="281.08" r="1.5" fill="none" stroke="#0000ff" stroke-width="0.75"/>
<circle cx="117.96" cy="277.80" r="1.5" fill="none" stroke="#0000ff" stroke-width="0.75"/>
<circle cx="120.57" cy="261.02" r="1.5" fill="none" stroke="#0000ff" stroke-width="0.75"/>
<circle cx="121.97" cy="262.88" r="1.5" fill="none" stroke="#0000ff" stroke-width="0.75"/>
<circle cx="118.20" cy="276.79" r="1.5" fill="none" stroke="#0000ff" stroke-width="0.75"/>
<circle cx="117.58" cy="273.06" r="1.5" fill="none" stroke="#0000ff" stroke-width="0.75"/>
<circle cx="117.02" cy="279.99" r="1.5" fill="none" stroke="#0000ff" stroke-width="0.75"/>
<circle cx="116.58" cy="277.74" r="1.5" fill="none" stroke="#0000ff" stroke-width="0.75"/>
<circle cx="119.38" cy="265.78" r="1.5" fill="none" stroke="#0000ff" stroke-width="0.75"/>
<circle cx="116.44" cy="279.71" r="1.5" fill="none" stroke="#0000ff" stroke-width="0.75"/>
<circle cx="116.36" cy="281.66" r="1.5" fill="none" stroke="#0000ff" stroke-width="0.75"/>
<circle cx="119.42" cy="272.73" r="1.5" fill="none" stroke="#0000ff" stroke-width="0.75"/>
<circle cx="118.32" cy="275.77" r="1.5" fill="none" stroke="#0000ff" stroke-width="0.75"/>
<circle cx="120.33" cy="264.04" r="1.5" fill="none" stroke="#0000ff" stroke-width="0.75"/>
<circle cx="120.31" cy="266.94" r="1.5" fill="none" stroke="#0000ff" stroke-width="0.75"/>
<circle cx="120.77" cy="262.04" r="1.5" fill="none" stroke="#0000ff" stroke-width="0.75"/>
<circle cx="117.85" cy="278.13" r="1.5" fill="none" stroke="#0000ff" stroke-width="0.75"/>
<circle cx="118.59" cy="273.42" r="1.5" fill="none" stroke="#0000ff" stroke-width="0.75"/>
<circle cx="122.06" cy="262.75" r="1.5" fill="none" stroke="#0000ff" stroke-width="0.75"/>
<circle cx="116.93" cy="281.25" r="1.5" fill="none" stroke="#0000ff" stroke-width="0.75"/>
<circle cx="119.91" cy="272.41" r="1.5" fill="none" stroke="#0000ff" stroke-width="0.75"/>
<circle cx="118.54" cy="271.24" r="1.5" fill="none" stroke="#0000ff" stroke-width="0.75"/>
<circle cx="116.03" cy="281.66" r="1.5" fill="none" stroke="#0000ff" stroke-width="0.75"/>
<circle cx="121.04" cy="264.16" r="1.5" fill="none" stroke="#0000ff" stroke-width="0.75"/>
<circle cx="121.82" cy="263.43" r="1.5" fill="none" stroke="#0000ff" stroke-width="0.75"/>
<circle cx="116.97" cy="280.77" r="1.5" fill="none" stroke="#0000ff" stroke-width="0.75"/>
<circle cx="116.56" cy="280.61" r="1.5" fill="none" stroke="#0000ff" stroke-width="0.75"/>
<circle cx="121.56" cy="260.52" r="1.5" fill="none" stroke="#0000ff" stroke-width="0.75"/>
<circle cx="119.21" cy="267.27" r="1.5" fill="none" stroke="#0000ff" stroke-width="0.75"/>
<circle cx="120.94" cy="267.25" r="1.5" fill="none" stroke="#0000ff" stroke-width="0.75"/>
<circle cx="117.81" cy="279.55" r="1.5" fill="none" stroke="#0000ff" stroke-width="0.75"/>
<circle cx="116.84" cy="281.89" r="1.5" fill="none" stroke="#0000ff" stroke-width="0.75"/>
<circle cx="119.90" cy="266.99" r="1.5" fill="none" stroke="#0000ff" stroke-width="0.75"/>
<circle cx="116.41" cy="281.82" r="1.5" fill="none" stroke="#0000ff" stroke-width="0.75"/>
<circle cx="118.70" cy="270.44" r="1.5" fill="none" stroke="#0000ff" stroke-width="0.75"/>
<circle cx="121.98" cy="262.48" r="1.5" fill="none" stroke="#0000ff" stroke-width="0.75"/>
<circle cx="116.10" cy="281.20" r="1.5" fill="none" stroke="#0000ff" stroke-width="0.75"/>
<circle cx="117.92" cy="273.15" r="1.5" fill="none" stroke="#0000ff" stroke-width="0.75"/>
<circle cx="116.96" cy="282.02" r="1.5" fill="none" stroke="#0000ff" stroke-width="0.75"/>
<circle cx="118.89" cy="277.19" r="1.5" fill="none" stroke="#0000ff" stroke-width="0.75"/>
<circle cx="119.01" cy="273.84" r="1.5" fill="none" stroke="#0000ff" stroke-width="0.75"/>
<circle cx="117.01" cy="279.81" r="1.5" fill="none" stroke="#0000ff" stroke-width="0.75"/>
<circle cx="117.23" cy="276.50" r="1.5" fill="none" stroke="#0000ff" stroke-width="0.75"/>
<circle cx="115.93" cy="281.38" r="1.5" fill="none" stroke="#0000ff" stroke-width="0.75"/>
<circle cx="119.34" cy="268.91" r="1.5" fill="none" stroke="#0000ff" stroke-width="0.75"/>
<circle cx="116.05" cy="282.00" r="1.5" fill="none" stroke="#0000ff" stroke-width="0.75"/>
<circle cx="120.30" cy="267.30" r="1.5" fill="none" stroke="#0000ff" stroke-width="0.75"/>
<circle cx="120.01" cy="263.83" r="1.5" fill="none" stroke="#0000ff" stroke-width="0.75"/>
<circle cx="116.56" cy="280.91" r="1.5" fill="none" stroke="#0000ff" stroke-width="0.75"/>
<circle cx="117.38" cy="281.19" r="1.5" fill="none" stroke="#0000ff" stroke-width="0.75"/>
<circle cx="120.21" cy="263.08" r="1.5" fill="none" stroke="#0000ff" stroke-width="0.75"/>
<circle cx="118.81" cy="268.26" r="1.5" fill="none" stroke="#0000ff" stroke-width="0.75"/>
<circle cx="120.62" cy="266.70" r="1.5" fill="none" stroke="#0000ff" stroke-width="0.75"/>
<circle cx="116.79" cy="279.89" r="1.5" fill="none" stroke="#0000ff" stroke-width="0.75"/>
<circle cx="118.31" cy="273.48" r="1.5" fill="none" stroke="#0000ff" stroke-width="0.75"/>
<circle cx="120.78" cy="262.43" r="1.5" fill="none" stroke="#0000ff" stroke-width="0.75"/>
<circle cx="121.05" cy="263.42" r="1.5" fill="none" stroke="#0000ff" stroke-width="0.75"/>
<circle cx="116.16" cy="280.63" r="1.5" fill="none" stroke="#0000ff" stroke-width="0.75"/>
<circle cx="120.25" cy="265.90" r="1.5" fill="none" stroke="#0000ff" stroke-width="0.75"/>
<circle cx="116.92" cy="282.08" r="1.5" fill="none" stroke="#0000ff" stroke-width="0.75"/>
<circle cx="120.37" cy="261.23" r="1.5" fill="none" stroke="#0000ff" stroke-width="0.75"/>
<circle cx="116.55" cy="281.27" r="1.5" fill="none" stroke="#0000ff" stroke-width="0.75"/>
<circle cx="121.34" cy="261.02" r="1.5" fill="none" stroke="#0000ff" stroke-width="0.75"/>
<circle cx="117.51" cy="281.17" r="1.5" fill="none" stroke="#0000ff" stroke-width="0.75"/>
<circle cx="119.49" cy="265.55" r="1.5" fill="none" stroke="#0000ff" stroke-width="0.75"/>
<circle cx="119.11" cy="274.16" r="1.5" fill="none" stroke="#0000ff" stroke-width="0.75"/>
<circle cx="117.56" cy="279.53" r="1.5" fill="none" stroke="#0000ff" stroke-width="0.75"/>
<circle cx="119.22" cy="271.25" r="1.5" fill="none" stroke="#0000ff" stroke-width="0.75"/>
<circle cx="116.31" cy="280.76" r="1.5" fill="none" stroke="#0000ff" stroke-width="0.75"/>
<circle cx="117.27" cy="276.63" r="1.5" fill="none" stroke="#0000ff" stroke-width="0.75"/>
<circle cx="120.84" cy="266.29" r="1.5" fill="none" stroke="#0000ff" stroke-width="0.75"/>
<circle cx="120.04" cy="263.00" r="1.5" fill="none" stroke="#0000ff" stroke-width="0.75"/>
<circle cx="117.92" cy="274.99" r="1.5" fill="none" stroke="#0000ff" stroke-width="0.75"/>
<circle cx="116.84" cy="275.59" r="1.5" fill="none" stroke="#0000ff" stroke-width="0.75"/>
<circle cx="120.26" cy="272.07" r="1.5" fill="none" stroke="#0000ff" stroke-width="0.75"/>
<circle cx="116.58" cy="280.75" r="1.5" fill="none" stroke="#0000ff" stroke-width="0.75"/>
<circle cx="121.71" cy="266.18" r="1.5" fill="none" stroke="#0000ff" stroke-width="0.75"/>
<circle cx="118.87" cy="267.61" r="1.5" fill="none" stroke="#0000ff" stroke-width="0.75"/>
<circle cx="117.35" cy="277.59" r="1.5" fill="none" stroke="#0000ff" stroke-width="0.75"/>
<circle cx="118.64" cy="277.36" r="1.5" fill="none" stroke="#0000ff" stroke-width="0.75"/>
<circle cx="121.06" cy="261.15" r="1.5" fill="none" stroke="#0000ff" stroke-width="0.75"/>
<circle cx="116.74" cy="278.47" r="1.5" fill="none" stroke="#0000ff" stroke-width="0.75"/>
<circle cx="117.09" cy="279.34" r="1.5" fill="none" stroke="#0000ff" stroke-width="0.75"/>
<circle cx="116.13" cy="282.14" r="1.5" fill="none" stroke="#0000ff" stroke-width="0.75"/>
<circle cx="119.86" cy="265.89" r="1.5" fill="none" stroke="#0000ff" stroke-width="0.75"/>
<circle cx="121.37" cy="267.25" r="1.5" fill="none" stroke="#0000ff" stroke-width="0.75"/>
<circle cx="120.07" cy="264.52" r="1.5" fill="none" stroke="#0000ff" stroke-width="0.75"/>
<circle cx="118.72" cy="277.20" r="1.5" fill="none" stroke="#0000ff" stroke-width="0.75"/>
<circle cx="118.78" cy="270.59" r="1.5" fill="none" stroke="#0000ff" stroke-width="0.75"/>
<circle cx="119.85" cy="263.09" r="1.5" fill="none" stroke="#0000ff" stroke-width="0.75"/>
<circle cx="120.56" cy="270.47" r="1.5" fill="none" stroke="#0000ff" stroke-width="0.75"/>
<circle cx="118.33" cy="280.03" r="1.5" fill="none" stroke="#0000ff" stroke-width="0.75"/>
<circle cx="119.14" cy="268.74" r="1.5" fill="none" stroke="#0000ff" stroke-width="0.75"/>
<circle cx="115.90" cy="280.09" r="1.5" fill="none" stroke="#0000ff" stroke-width="0.75"/>
<circle cx="119.30" cy="269.40" r="1.5" fill="none" stroke="#0000ff" stroke-width="0.75"/>
<circle cx="119.59" cy="263.96" r="1.5" fill="none" stroke="#0000ff" stroke-width="0.75"/>
<circle cx="120.99" cy="268.39" r="1.5" fill="none" stroke="#0000ff" stroke-width="0.75"/>
<circle cx="116.00" cy="281.54" r="1.5" fill="none" stroke="#0000ff" stroke-width="0.75"/>
<circle cx="117.46" cy="280.49" r="1.5" fill="none" stroke="#0000ff" stroke-width="0.75"/>
<circle cx="121.32" cy="261.43" r="1.5" fill="none" stroke="#0000ff" stroke-width="0.75"/>
<circle cx="116.04" cy="281.19" r="1.5" fill="none" stroke="#0000ff" stroke-width="0.75"/>
<circle cx="115.79" cy="281.07" r="1.5" fill="none" stroke="#0000ff" stroke-width="0.75"/>
<circle cx="117.39" cy="279.94" r="1.5" fill="none" stroke="#0000ff" stroke-width="0.75"/>
<circle cx="120.38" cy="261.77" r="1.5" fill="none" stroke="#0000ff" stroke-width="0.75"/>
<circle cx="121.10" cy="266.67" r="1.5" fill="none" stroke="#0000ff" stroke-width="0.75"/>
<circle cx="119.30" cy="269.04" r="1.5" fill="none" stroke="#0000ff" stroke-width="0.75"/>
<circle cx="117.36" cy="276.54" r="1.5" fill="none" stroke="#0000ff" stroke-width="0.75"/>
<circle cx="327.17" cy="254.00" r="1.5" fill="none" stroke="#00ff00" stroke-width="0.75"/>
<circle cx="329.39" cy="264.23" r="1.5" fill="none" stroke="#00ff00" stroke-width="0.75"/>
<circle cx="326.59" cy="266.00" r="1.5" fill="none" stroke="#00ff00" stroke-width="0.75"/>
<circle cx="329.68" cy="258.95" r="1.5" fill="none" stroke="#00ff00" stroke-width="0.75"/>
<circle cx="327.02" cy="256.19" r="1.5" fill="none" stroke="#00ff00" stroke-width="0.75"/>
<circle cx="329.60" cy="258.46" r="1.5" fill="none" stroke="#00ff00" stroke-width="0.75"/>
<circle cx="328.66" cy="265.02" r="1.5" fill="none" stroke="#00ff00" stroke-width="0.75"/>
<circle cx="328.31" cy="264.07" r="1.5" fill="none" stroke="#00ff00" stroke-width="0.75"/>
<circle cx="327.45" cy="255.01" r="1.5" fill="none" stroke="#00ff00" stroke-width="0.75"/>
<circle cx="327.08" cy="249.54" r="1.5" fill="none" stroke="#00ff00" stroke-width="0.75"/>
<circle cx="326.60" cy="252.38" r="1.5" fill="none" stroke="#00ff00" stroke-width="0.75"/>
<circle cx="327.25" cy="260.63" r="1.5" fill="none" stroke="#00ff00" stroke-width="0.75"/>
<circle cx="329.08" cy="265.32" r="1.5" fill="none" stroke="#00ff00" stroke-width="0.75"/>
<circle cx="326.87" cy="249.35" r="1.5" fill="none" stroke="#00ff00" stroke-width="0.75"/>
<circle cx="327.80" cy="262.88" r="1.5" fill="none" stroke="#00ff00" stroke-width="0.75"/>
<circle cx="328.34" cy="257.21" r="1.5" fill="none" stroke="#00ff00" stroke-width="0.75"/>
<circle cx="329.18" cy="264.16" r="1.5" fill="none" stroke="#00ff00" stroke-width="0.75"/>
<circle cx="328.52" cy="249.92" r="1.5" fill="none" stroke="#00ff00" stroke-width="0.75"/>
<circle cx="327.44" cy="260.62" r="1.5" fill="none" stroke="#00ff00" stroke-width="0.75"/>
<circle cx="327.15" cy="251.58" r="1.5" fill="none" stroke="#00ff00" stroke-width="0.75"/>
<circle cx="328.73" cy="250.97" r="1.5" fill="none" stroke="#00ff00" stroke-width="0.75"/>
<circle cx="327.56" cy="255.42" r="1.5" fill="none" stroke="#00ff00" stroke-width="0.75"/>
<circle cx="326.83" cy="259.52" r="1.5" fill="none" stroke="#00ff00" stroke-width="0.75"/>
<circle cx="329.74" cy="261.59" r="1.5" fill="none" stroke="#00ff00" stroke-width="0.75"/>
<circle cx="329.14" cy="258.80" r="1.5" fill="none" stroke="#00ff00" stroke-width="0.75"/>
<circle cx="326.60" cy="265.72" r="1.5" fill="none" stroke="#00ff00" stroke-width="0.75"/>
<circle cx="327.04" cy="250.69" r="1.5" fill="none" stroke="#00ff00" stroke-width="0.75"/>
<circle cx="329.57" cy="260.51" r="1.5" fill="none" stroke="#00ff00" stroke-width="0.75"/>
<circle cx="327.67" cy="265.11" r="1.5" fill="none" stroke="#00ff00" stroke-width="0.75"/>
<circle cx="329.40" cy="263.86" r="1.5" fill="none" stroke="#00ff00" stroke-width="0.75"/>
<circle cx="328.39" cy="260.58" r="1.5" fill="none" stroke="#00ff00" stroke-width="0.75"/>
<circle cx="326.65" cy="255.49" r="1.5" fill="none" stroke="#00ff00" stroke-width="0.75"/>
<circle cx="328.20" cy="253.30" r="1.5" fill="none" stroke="#00ff00" stroke-width="0.75"/>
<circle cx="326.51" cy="251.77" r="1.5" fill="none" stroke="#00ff00" stroke-width="0.75"/>
<circle cx="326.85" cy="262.34" r="1.5" fill="none" stroke="#00ff00" stroke-width="0.75"/>
<circle cx="328.65" cy="252.03" r="1.5" fill="none" stroke="#00ff00" stroke-width="0.75"/>
<circle cx="326.90" cy="248.77" r="1.5" fill="none" stroke="#00ff00" stroke-width="0.75"/>
<circle cx="328.46" cy="259.51" r="1.5" fill="none" stroke="#00ff00" stroke-width="0.75"/>
<circle cx="328.29" cy="250.99" r="1.5" fill="none" stroke="#00ff00" stroke-width="0.75"/>
<circle cx="327.30" cy="254.34" r="1.5" fill="none" stroke="#00ff00" stroke-width="0.75"/>
<circle cx="328.12" cy="254.33" r="1.5" fill="none" stroke="#00ff00" stroke-width="0.75"/>
<circle cx="329.24" cy="257.59" r="1.5" fill="none" stroke="#00ff00" stroke-width="0.75"/>
<circle cx="326.85" cy="256.00" r="1.5" fill="none" stroke="#00ff00" stroke-width="0.75"/>
<circle cx="326.49" cy="252.46" r="1.5" fill="none" stroke="#00ff00" stroke-width="0.75"/>
<circle cx="329.08" cy="257.06" r="1.5" fill="none" stroke="#00ff00" stroke-width="0.75"/>
<circle cx="327.68" cy="265.19" r="1.5" fill="none" stroke="#00ff00" stroke-width="0.75"/>
<circle cx="327.70" cy="248.00" r="1.5" fill="none" stroke="#00ff00" stroke-width="0.75"/>
<circle cx="326.71" cy="266.06" r="1.5" fill="none" stroke="#00ff00" stroke-width="0.75"/>
<circle cx="327.92" cy="255.48" r="1.5" fill="none" stroke="#00ff00" stroke-width="0.75"/>
<circle cx="327.97" cy="254.31" r="1.5" fill="none" stroke="#00ff00" stroke-width="0.75"/>
<circle cx="327.71" cy="250.26" r="1.5" fill="none" stroke="#00ff00" stroke-width="0.75"/>
<circle cx="326.99" cy="266.15" r="1.5" fill="none" stroke="#00ff00" stroke-width="0.75"/>
<circle cx="328.79" cy="266.30" r="1.5" fill="none" stroke="#00ff00" stroke-width="0.75"/>
<circle cx="328.47" cy="248.54" r="1.5" fill="none" stroke="#00ff00" stroke-width="0.75"/>
<circle cx="328.06" cy="266.24" r="1.5" fill="none" stroke="#00ff00" stroke-width="0.75"/>
<circle cx="328.51" cy="250.69" r="1.5" fill="none" stroke="#00ff00" stroke-width="0.75"/>
<circle cx="329.15" cy="257.10" r="1.5" fill="none" stroke="#00ff00" stroke-width="0.75"/>
<circle cx="327.08" cy="251.40" r="1.5" fill="none" stroke="#00ff00" stroke-width="0.75"/>
<circle cx="327.45" cy="258.91" r="1.5" fill="none" stroke="#00ff00" stroke-width="0.75"/>
<circle cx="328.57" cy="253.41" r="1.5" fill="none" stroke="#00ff00" stroke-width="0.75"/>
<circle cx="327.76" cy="248.71" r="1.5" fill="none" stroke="#00ff00" stroke-width="0.75"/>
<circle cx="328.26" cy="247.88" r="1.5" fill="none" stroke="#00ff00" stroke-width="0.75"/>
<circle cx="328.13" cy="261.14" r="1.5" fill="none" stroke="#00ff00" stroke-width="0.75"/>
<circle cx="327.64" cy="254.45" r="1.5" fill="none" stroke="#00ff00" stroke-width="0.75"/>
<circle cx="328.49" cy="257.15" r="1.5" fill="none" stroke="#00ff00" stroke-width="0.75"/>
<circle cx="326.11" cy="257.66" r="1.5" fill="none" stroke="#00ff00" stroke-width="0.75"/>
<circle cx="326.85" cy="259.06" r="1.5" fill="none" stroke="#00ff00" stroke-width="0.75"/>
<circle cx="327.82" cy="263.98" r="1.5" fill="none" stroke="#00ff00" stroke-width="0.75"/>
<circle cx="326.37" cy="257.91" r="1.5" fill="none" stroke="#00ff00" stroke-width="0.75"/>
<circle cx="326.38" cy="257.26" r="1.5" fill="none" stroke="#00ff00" stroke-width="0.75"/>
<circle cx="326.08" cy="259.37" r="1.5" fill="none" stroke="#00ff00" stroke-width="0.75"/>
<circle cx="328.18" cy="249.64" r="1.5" fill="none" stroke="#00ff00" stroke-width="0.75"/>
<circle cx="326.13" cy="259.23" r="1.5" fill="none" stroke="#00ff00" stroke-width="0.75"/>
<circle cx="329.48" cy="255.63" r="1.5" fill="none" stroke="#00ff00" stroke-width="0.75"/>
<circle cx="329.22" cy="265.56" r="1.5" fill="none" stroke="#00ff00" stroke-width="0.75"/>
<circle cx="326.97" cy="265.36" r="1.5" fill="none" stroke="#00ff00" stroke-width="0.75"/>
<circle cx="329.71" cy="259.30" r="1.5" fill="none" stroke="#00ff00" stroke-width="0.75"/>
<circle cx="328.53" cy="251.65" r="1.5" fill="none" stroke="#00ff00" stroke-width="0.75"/>
<circle cx="327.39" cy="249.25" r="1.5" fill="none" stroke="#00ff00" stroke-width="0.75"/>
<circle cx="328.78" cy="250.72" r="1.5" fill="none" stroke="#00ff00" stroke-width="0.75"/>
<circle cx="326.81" cy="264.79" r="1.5" fill="none" stroke="#00ff00" stroke-width="0.75"/>
<circle cx="327.01" cy="265.75" r="1.5" fill="none" stroke="#00ff00" stroke-width="0.75"/>
<circle cx="327.18" cy="258.56" r="1.5" fill="none" stroke="#00ff00" stroke-width="0.75"/>
<circle cx="326.93" cy="252.03" r="1.5" fill="none" stroke="#00ff00" stroke-width="0.75"/>
<circle cx="329.38" cy="262.20" r="1.5" fill="none" stroke="#00ff00" stroke-width="0.75"/>
<circle cx="326.71" cy="264.46" r="1.5" fill="none" stroke="#00ff00" stroke-width="0.75"/>
<circle cx="327.44" cy="262.17" r="1.5" fill="none" stroke="#00ff00" stroke-width="0.75"/>
<circle cx="328.23" cy="260.56" r="1.5" fill="none" stroke="#00ff00" stroke-width="0.75"/>
<circle cx="328.80" cy="249.96" r="1.5" fill="none" stroke="#00ff00" stroke-width="0.75"/>
<circle cx="328.96" cy="256.18" r="1.5" fill="none" stroke="#00ff00" stroke-width="0.75"/>
<circle cx="327.77" cy="266.72" r="1.5" fill="none" stroke="#00ff00" stroke-width="0.75"/>
<circle cx="327.79" cy="263.79" r="1.5" fill="none" stroke="#00ff00" stroke-width="0.75"/>
<circle cx="326.45" cy="264.26" r="1.5" fill="none" stroke="#00ff00" stroke-width="0.75"/>
<circle cx="328.32" cy="253.67" r="1.5" fill="none" stroke="#00ff00" stroke-width="0.75"/>
<circle cx="328.56" cy="260.49" r="1.5" fill="none" stroke="#00ff00" stroke-width="0.75"/>
<circle cx="326.85" cy="247.12" r="1.5" fill="none" stroke="#00ff00" stroke-width="0.75"/>
<circle cx="327.69" cy="261.34" r="1.5" fill="none" stroke="#00ff00" stroke-width="0.75"/>
<circle cx="326.82" cy="265.42" r="1.5" fill="none" stroke="#00ff00" stroke-width="0.75"/>
<circle cx="326.23" cy="261.47" r="1.5" fill="none" stroke="#00ff00" stroke-width="0.75"/>
<circle cx="326.55" cy="255.35" r="1.5" fill="none" stroke="#00ff00" stroke-width="0.75"/>
<circle cx="328.11" cy="252.54" r="1.5" fill="none" stroke="#00ff00" stroke-width="0.75"/>
<circle cx="328.19" cy="251.96" r="1.5" fill="none" stroke="#00ff00" stroke-width="0.75"/>
<circle cx="328.79" cy="250.16" r="1.5" fill="none" stroke="#00ff00" stroke-width="0.75"/>
<circle cx="326.79" cy="250.95" r="1.5" fill="none" stroke="#00ff00" stroke-width="0.75"/>
<circle cx="328.57" cy="265.34" r="1.5" fill="none" stroke="#00ff00" stroke-width="0.75"/>
<circle cx="326.41" cy="253.52" r="1.5" fill="none" stroke="#00ff00" stroke-width="0.75"/>
<circle cx="327.35" cy="260.42" r="1.5" fill="none" stroke="#00ff00" stroke-width="0.75"/>
<circle cx="329.55" cy="257.93" r="1.5" fill="none" stroke="#00ff00" stroke-width="0.75"/>
<circle cx="329.11" cy="252.42" r="1.5" fill="none" stroke="#00ff00" stroke-width="0.75"/>
<circle cx="327.54" cy="259.32" r="1.5" fill="none" stroke="#00ff00" stroke-width="0.75"/>
<circle cx="328.21" cy="248.20" r="1.5" fill="none" stroke="#00ff00" stroke-width="0.75"/>
<circle cx="329.63" cy="259.59" r="1.5" fill="none" stroke="#00ff00" stroke-width="0.75"/>
<circle cx="328.13" cy="251.90" r="1.5" fill="none" stroke="#00ff00" stroke-width="0.75"/>
<circle cx="329.10" cy="261.44" r="1.5" fill="none" stroke="#00ff00" stroke-width="0.75"/>
<circle cx="327.25" cy="253.88" r="1.5" fill="none" stroke="#00ff00" stroke-width="0.75"/>
<circle cx="328.52" cy="265.93" r="1.5" fill="none" stroke="#00ff00" stroke-width="0.75"/>
<circle cx="328.17" cy="247.93" r="1.5" fill="none" stroke="#00ff00" stroke-width="0.75"/>
<circle cx="328.83" cy="258.11" r="1.5" fill="none" stroke="#00ff00" stroke-width="0.75"/>
<circle cx="326.74" cy="252.15" r="1.5" fill="none" stroke="#00ff00" stroke-width="0.75"/>
<circle cx="327.35" cy="248.65" r="1.5" fill="none" stroke="#00ff00" stroke-width="0.75"/>
<circle cx="334.56" cy="275.41" r="1.5" fill="none" stroke="#0000ff" stroke-width="0.75"/>
<circle cx="330.97" cy="264.61" r="1.5" fill="none" stroke="#0000ff" stroke-width="0.75"/>
<circle cx="332.59" cy="276.99" r="1.5" fill="none" stroke="#0000ff" stroke-width="0.75"/>
<circle cx="334.84" cy="273.53" r="1.5" fill="none" stroke="#0000ff" stroke-width="0.75"/>
<circle cx="329.45" cy="278.81" r="1.5" fill="none" stroke="#0000ff" stroke-width="0.75"/>
<circle cx="331.61" cy="264.64" r="1.5" fill="none" stroke="#0000ff" stroke-width="0.75"/>
<circle cx="331.33" cy="276.86" r="1.5" fill="none" stroke="#0000ff" stroke-width="0.75"/>
<circle cx="329.67" cy="266.71" r="1.5" fill="none" stroke="#0000ff" stroke-width="0.75"/>
<circle cx="332.92" cy="273.79" r="1.5" fill="none" stroke="#0000ff" stroke-width="0.75"/>
<circle cx="331.47" cy="281.49" r="1.5" fill="none" stroke="#0000ff" stroke-width="0.75"/>
<circle cx="334.67" cy="275.15" r="1.5" fill="none" stroke="#0000ff" stroke-width="0.75"/>
<circle cx="332.89" cy="275.65" r="1.5" fill="none" stroke="#0000ff" stroke-width="0.75"/>
<circle cx="331.31" cy="263.26" r="1.5" fill="none" stroke="#0000ff" stroke-width="0.75"/>
<circle cx="330.16" cy="279.15" r="1.5" fill="none" stroke="#0000ff" stroke-width="0.75"/>
<circle cx="332.25" cy="262.11" r="1.5" fill="none" stroke="#0000ff" stroke-width="0.75"/>
<circle cx="330.13" cy="262.24" r="1.5" fill="none" stroke="#0000ff" stroke-width="0.75"/>
<circle cx="333.07" cy="275.34" r="1.5" fill="none" stroke="#0000ff" stroke-width="0.75"/>
<circle cx="329.40" cy="276.29" r="1.5" fill="none" stroke="#0000ff" stroke-width="0.75"/>
<circle cx="332.13" cy="267.45" r="1.5" fill="none" stroke="#0000ff" stroke-width="0.75"/>
<circle cx="329.74" cy="279.77" r="1.5" fill="none" stroke="#0000ff" stroke-width="0.75"/>
<circle cx="334.02" cy="279.32" r="1.5" fill="none" stroke="#0000ff" stroke-width="0.75"/>
<circle cx="329.87" cy="263.12" r="1.5" fill="none" stroke="#0000ff" stroke-width="0.75"/>
<circle cx="333.98" cy="278.62" r="1.5" fill="none" stroke="#0000ff" stroke-width="0.75"/>
<circle cx="333.07" cy="277.75" r="1.5" fill="none" stroke="#0000ff" stroke-width="0.75"/>
<circle cx="330.60" cy="262.51" r="1.5" fill="none" stroke="#0000ff" stroke-width="0.75"/>
<circle cx="330.47" cy="263.58" r="1.5" fill="none" stroke="#0000ff" stroke-width="0.75"/>
<circle cx="331.38" cy="260.83" r="1.5" fill="none" stroke="#0000ff" stroke-width="0.75"/>
<circle cx="331.40" cy="275.45" r="1.5" fill="none" stroke="#0000ff" stroke-width="0.75"/>
<circle cx="331.67" cy="281.20" r="1.5" fill="none" stroke="#0000ff" stroke-width="0.75"/>
<circle cx="328.47" cy="273.18" r="1.5" fill="none" stroke="#0000ff" stroke-width="0.75"/>
<circle cx="332.09" cy="268.67" r="1.5" fill="none" stroke="#0000ff" stroke-width="0.75"/>
<circle cx="332.50" cy="275.05" r="1.5" fill="none" stroke="#0000ff" stroke-width="0.75"/>
<circle cx="329.82" cy="279.13" r="1.5" fill="none" stroke="#0000ff" stroke-width="0.75"/>
<circle cx="329.84" cy="262.83" r="1.5" fill="none" stroke="#0000ff" stroke-width="0.75"/>
<circle cx="335.90" cy="276.15" r="1.5" fill="none" stroke="#0000ff" stroke-width="0.75"/>
<circle cx="330.56" cy="270.53" r="1.5" fill="none" stroke="#0000ff" stroke-width="0.75"/>
<circle cx="331.05" cy="263.20" r="1.5" fill="none" stroke="#0000ff" stroke-width="0.75"/>
<circle cx="330.80" cy="278.67" r="1.5" fill="none" stroke="#0000ff" stroke-width="0.75"/>
<circle cx="329.75" cy="265.36" r="1.5" fill="none" stroke="#0000ff" stroke-width="0.75"/>
<circle cx="328.27" cy="270.52" r="1.5" fill="none" stroke="#0000ff" stroke-width="0.75"/>
<circle cx="332.01" cy="262.17" r="1.5" fill="none" stroke="#0000ff" stroke-width="0.75"/>
<circle cx="333.29" cy="277.07" r="1.5" fill="none" stroke="#0000ff" stroke-width="0.75"/>
<circle cx="330.16" cy="268.46" r="1.5" fill="none" stroke="#0000ff" stroke-width="0.75"/>
<circle cx="332.19" cy="261.44" r="1.5" fill="none" stroke="#0000ff" stroke-width="0.75"/>
<circle cx="330.30" cy="264.17" r="1.5" fill="none" stroke="#0000ff" stroke-width="0.75"/>
<circle cx="329.88" cy="270.89" r="1.5" fill="none" stroke="#0000ff" stroke-width="0.75"/>
<circle cx="330.75" cy="264.11" r="1.5" fill="none" stroke="#0000ff" stroke-width="0.75"/>
<circle cx="334.39" cy="276.77" r="1.5" fill="none" stroke="#0000ff" stroke-width="0.75"/>
<circle cx="329.98" cy="266.29" r="1.5" fill="none" stroke="#0000ff" stroke-width="0.75"/>
<circle cx="333.14" cy="278.65" r="1.5" fill="none" stroke="#0000ff" stroke-width="0.75"/>
<circle cx="330.97" cy="263.50" r="1.5" fill="none" stroke="#0000ff" stroke-width="0.75"/>
<circle cx="328.85" cy="272.29" r="1.5" fill="none" stroke="#0000ff" stroke-width="0.75"/>
<circle cx="330.63" cy="278.83" r="1.5" fill="none" stroke="#0000ff" stroke-width="0.75"/>
<circle cx="331.53" cy="265.97" r="1.5" fill="none" stroke="#0000ff" stroke-width="0.75"/>
<circle cx="330.34" cy="262.66" r="1.5" fill="none" stroke="#0000ff" stroke-width="0.75"/>
<circle cx="330.83" cy="265.76" r="1.5" fill="none" stroke="#0000ff" stroke-width="0.75"/>
<circle cx="329.47" cy="266.78" r="1.5" fill="none" stroke="#0000ff" stroke-width="0.75"/>
<circle cx="329.60" cy="276.54" r="1.5" fill="none" stroke="#0000ff" stroke-width="0.75"/>
<circle cx="331.16" cy="262.80" r="1.5" fill="none" stroke="#0000ff" stroke-width="0.75"/>
<circle cx="333.93" cy="277.32" r="1.5" fill="none" stroke="#0000ff" stroke-width="0.75"/>
<circle cx="331.40" cy="263.07" r="1.5" fill="none" stroke="#0000ff" stroke-width="0.75"/>
<circle cx="330.66" cy="263.13" r="1.5" fill="none" stroke="#0000ff" stroke-width="0.75"/>
<circle cx="332.10" cy="268.17" r="1.5" fill="none" stroke="#0000ff" stroke-width="0.75"/>
<circle cx="331.40" cy="270.37" r="1.5" fill="none" stroke="#0000ff" stroke-width="0.75"/>
<circle cx="331.47" cy="262.67" r="1.5" fill="none" stroke="#0000ff" stroke-width="0.75"/>
<circle cx="335.45" cy="276.20" r="1.5" fill="none" stroke="#0000ff" stroke-width="0.75"/>
<circle cx="332.77" cy="272.11" r="1.5" fill="none" stroke="#0000ff" stroke-width="0.75"/>
<circle cx="331.56" cy="264.46" r="1.5" fill="none" stroke="#0000ff" stroke-width="0.75"/>
<circle cx="333.87" cy="277.40" r="1.5" fill="none" stroke="#0000ff" stroke-width="0.75"/>
<circle cx="333.01" cy="274.73" r="1.5" fill="none" stroke="#0000ff" stroke-width="0.75"/>
<circle cx="331.25" cy="265.35" r="1.5" fill="none" stroke="#0000ff" stroke-width="0.75"/>
<circle cx="332.10" cy="268.69" r="1.5" fill="none" stroke="#0000ff" stroke-width="0.75"/>
<circle cx="329.98" cy="273.47" r="1.5" fill="none" stroke="#0000ff" stroke-width="0.75"/>
<circle cx="331.30" cy="269.20" r="1.5" fill="none" stroke="#0000ff" stroke-width="0.75"/>
<circle cx="334.95" cy="274.30" r="1.5" fill="none" stroke="#0000ff" stroke-width="0.75"/>
<circle cx="333.71" cy="274.04" r="1.5" fill="none" stroke="#0000ff" stroke-width="0.75"/>
<circle cx="333.40" cy="269.60" r="1.5" fill="none" stroke="#0000ff" stroke-width="0.75"/>
<circle cx="328.84" cy="271.80" r="1.5" fill="none" stroke="#0000ff" stroke-width="0.75"/>
<circle cx="331.85" cy="279.83" r="1.5" fill="none" stroke="#0000ff" stroke-width="0.75"/>
<circle cx="331.46" cy="272.48" r="1.5" fill="none" stroke="#0000ff" stroke-width="0.75"/>
<circle cx="331.54" cy="271.09" r="1.5" fill="none" stroke="#0000ff" stroke-width="0.75"/>
<circle cx="330.23" cy="271.47" r="1.5" fill="none" stroke="#0000ff" stroke-width="0.75"/>
<circle cx="331.49" cy="263.61" r="1.5" fill="none" stroke="#0000ff" stroke-width="0.75"/>
<circle cx="329.89" cy="277.34" r="1.5" fill="none" stroke="#0000ff" stroke-width="0.75"/>
<circle cx="328.77" cy="266.60" r="1.5" fill="none" stroke="#0000ff" stroke-width="0.75"/>
<circle cx="328.31" cy="267.85" r="1.5" fill="none" stroke="#0000ff" stroke-width="0.75"/>
<circle cx="331.68" cy="268.28" r="1.5" fill="none" stroke="#0000ff" stroke-width="0.75"/>
<circle cx="329.86" cy="264.96" r="1.5" fill="none" stroke="#0000ff" stroke-width="0.75"/>
<circle cx="331.89" cy="279.96" r="1.5" fill="none" stroke="#0000ff" stroke-width="0.75"/>
<circle cx="331.68" cy="277.18" r="1.5" fill="none" stroke="#0000ff" stroke-width="0.75"/>
<circle cx="331.90" cy="262.98" r="1.5" fill="none" stroke="#0000ff" stroke-width="0.75"/>
<circle cx="331.47" cy="273.75" r="1.5" fill="none" stroke="#0000ff" stroke-width="0.75"/>
<circle cx="332.29" cy="263.79" r="1.5" fill="none" stroke="#0000ff" stroke-width="0.75"/>
<circle cx="333.84" cy="274.17" r="1.5" fill="none" stroke="#0000ff" stroke-width="0.75"/>
<circle cx="329.47" cy="269.68" r="1.5" fill="none" stroke="#0000ff" stroke-width="0.75"/>
<circle cx="544.04" cy="291.08" r="1.5" fill="none" stroke="#0000ff" stroke-width="0.75"/>
<circle cx="544.91" cy="295.96" r="1.5" fill="none" stroke="#0000ff" stroke-width="0.75"/>
<circle cx="543.40" cy="291.64" r="1.5" fill="none" stroke="#0000ff" stroke-width="0.75"/>
<circle cx="543.06" cy="290.25" r="1.5" fill="none" stroke="#0000ff" stroke-width="0.75"/>
<circle cx="542.94" cy="291.95" r="1.5" fill="none" stroke="#0000ff" stroke-width="0.75"/>
<circle cx="545.06" cy="293.40" r="1.5" fill="none" stroke="#0000ff" stroke-width="0.75"/>
<circle cx="545.92" cy="293.14" r="1.5" fill="none" stroke="#0000ff" stroke-width="0.75"/>
<circle cx="543.61" cy="291.33" r="1.5" fill="none" stroke="#0000ff" stroke-width="0.75"/>
<circle cx="543.95" cy="296.10" r="1.5" fill="none" stroke="#0000ff" stroke-width="0.75"/>
<circle cx="542.54" cy="294.16" r="1.5" fill="none" stroke="#0000ff" stroke-width="0.75"/>
<circle cx="547.02" cy="296.41" r="1.5" fill="none" stroke="#0000ff" stroke-width="0.75"/>
<circle cx="542.09" cy="290.79" r="1.5" fill="none" stroke="#0000ff" stroke-width="0.75"/>
<circle cx="545.01" cy="295.24" r="1.5" fill="none" stroke="#0000ff" stroke-width="0.75"/>
<circle cx="547.55" cy="296.03" r="1.5" fill="none" stroke="#0000ff" stroke-width="0.75"/>
<circle cx="546.68" cy="296.68" r="1.5" fill="none" stroke="#0000ff" stroke-width="0.75"/>
<circle cx="547.86" cy="295.36" r="1.5" fill="none" stroke="#0000ff" stroke-width="0.75"/>
<circle cx="544.51" cy="296.26" r="1.5" fill="none" stroke="#0000ff" stroke-width="0.75"/>
<circle cx="546.14" cy="293.91" r="1.5" fill="none" stroke="#0000ff" stroke-width="0.75"/>
<circle cx="546.41" cy="296.01" r="1.5" fill="none" stroke="#0000ff" stroke-width="0.75"/>
<circle cx="542.36" cy="291.90" r="1.5" fill="none" stroke="#0000ff" stroke-width="0.75"/>
<circle cx="542.77" cy="290.42" r="1.5" fill="none" stroke="#0000ff" stroke-width="0.75"/>
<circle cx="544.70" cy="293.73" r="1.5" fill="none" stroke="#0000ff" stroke-width="0.75"/>
<circle cx="543.71" cy="296.59" r="1.5" fill="none" stroke="#0000ff" stroke-width="0.75"/>
<circle cx="544.91" cy="293.71" r="1.5" fill="none" stroke="#0000ff" stroke-width="0.75"/>
<circle cx="545.40" cy="295.95" r="1.5" fill="none" stroke="#0000ff" stroke-width="0.75"/>
<circle cx="544.58" cy="296.93" r="1.5" fill="none" stroke="#0000ff" stroke-width="0.75"/>
<circle cx="542.62" cy="294.90" r="1.5" fill="none" stroke="#0000ff" stroke-width="0.75"/>
<circle cx="548.10" cy="294.89" r="1.5" fill="none" stroke="#0000ff" stroke-width="0.75"/>
<circle cx="546.49" cy="296.87" r="1.5" fill="none" stroke="#0000ff" stroke-width="0.75"/>
<circle cx="544.04" cy="296.65" r="1.5" fill="none" stroke="#0000ff" stroke-width="0.75"/>
<circle cx="544.39" cy="295.12" r="1.5" fill="none" stroke="#0000ff" stroke-width="0.75"/>
<circle cx="544.04" cy="292.78" r="1.5" fill="none" stroke="#0000ff" stroke-width="0.75"/>
<circle cx="544.26" cy="295.55" r="1.5" fill="none" stroke="#0000ff" stroke-width="0.75"/>
<circle cx="544.65" cy="293.56" r="1.5" fill="none" stroke="#0000ff" stroke-width="0.75"/>
<circle cx="545.06" cy="292.14" r="1.5" fill="none" stroke="#0000ff" stroke-width="0.75"/>
<circle cx="543.62" cy="293.79" r="1.5" fill="none" stroke="#0000ff" stroke-width="0.75"/>
<circle cx="547.07" cy="297.20" r="1.5" fill="none" stroke="#0000ff" stroke-width="0.75"/>
<circle cx="543.26" cy="292.24" r="1.5" fill="none" stroke="#0000ff" stroke-width="0.75"/>
<circle cx="545.88" cy="294.74" r="1.5" fill="none" stroke="#0000ff" stroke-width="0.75"/>
<circle cx="543.27" cy="291.20" r="1.5" fill="none" stroke="#0000ff" stroke-width="0.75"/>
<circle cx="542.58" cy="293.85" r="1.5" fill="none" stroke="#0000ff" stroke-width="0.75"/>
<circle cx="541.99" cy="291.04" r="1.5" fill="none" stroke="#0000ff" stroke-width="0.75"/>
<circle cx="546.13" cy="294.91" r="1.5" fill="none" stroke="#0000ff" stroke-width="0.75"/>
<circle cx="546.74" cy="296.60" r="1.5" fill="none" stroke="#0000ff" stroke-width="0.75"/>
<circle cx="546.45" cy="294.82" r="1.5" fill="none" stroke="#0000ff" stroke-width="0.75"/>
<circle cx="543.84" cy="295.29" r="1.5" fill="none" stroke="#0000ff" stroke-width="0.75"/>
<circle cx="545.81" cy="292.96" r="1.5" fill="none" stroke="#0000ff" stroke-width="0.75"/>
<circle cx="541.93" cy="291.92" r="1.5" fill="none" stroke="#0000ff" stroke-width="0.75"/>
<circle cx="546.95" cy="296.33" r="1.5" fill="none" stroke="#0000ff" stroke-width="0.75"/>
<circle cx="547.42" cy="296.01" r="1.5" fill="none" stroke="#0000ff" stroke-width="0.75"/>
<circle cx="542.98" cy="291.95" r="1.5" fill="none" stroke="#0000ff" stroke-width="0.75"/>
<circle cx="543.67" cy="292.58" r="1.5" fill="none" stroke="#0000ff" stroke-width="0.75"/>
<circle cx="544.34" cy="296.68" r="1.5" fill="none" stroke="#0000ff" stroke-width="0.75"/>
<circle cx="541.91" cy="291.11" r="1.5" fill="none" stroke="#0000ff" stroke-width="0.75"/>
<circle cx="547.37" cy="294.25" r="1.5" fill="none" stroke="#0000ff" stroke-width="0.75"/>
<circle cx="542.42" cy="290.70" r="1.5" fill="none" stroke="#0000ff" stroke-width="0.75"/>
<circle cx="548.42" cy="296.60" r="1.5" fill="none" stroke="#0000ff" stroke-width="0.75"/>
<circle cx="542.58" cy="293.27" r="1.5" fill="none" stroke="#0000ff" stroke-width="0.75"/>
<circle cx="542.35" cy="291.19" r="1.5" fill="none" stroke="#0000ff" stroke-width="0.75"/>
<circle cx="542.99" cy="290.07" r="1.5" fill="none" stroke="#0000ff" stroke-width="0.75"/>
<circle cx="544.67" cy="297.24" r="1.5" fill="none" stroke="#0000ff" stroke-width="0.75"/>
<circle cx="541.80" cy="291.54" r="1.5" fill="none" stroke="#0000ff" stroke-width="0.75"/>
<circle cx="544.42" cy="291.58" r="1.5" fill="none" stroke="#0000ff" stroke-width="0.75"/>
<circle cx="543.44" cy="291.06" r="1.5" fill="none" stroke="#0000ff" stroke-width="0.75"/>
<circle cx="547.18" cy="295.63" r="1.5" fill="none" stroke="#0000ff" stroke-width="0.75"/>
<circle cx="546.54" cy="294.67" r="1.5" fill="none" stroke="#0000ff" stroke-width="0.75"/>
<circle cx="545.21" cy="297.15" r="1.5" fill="none" stroke="#0000ff" stroke-width="0.75"/>
<circle cx="542.87" cy="294.72" r="1.5" fill="none" stroke="#0000ff" stroke-width="0.75"/>
<circle cx="547.30" cy="294.38" r="1.5" fill="none" stroke="#0000ff" stroke-width="0.75"/>
<circle cx="544.79" cy="291.97" r="1.5" fill="none" stroke="#0000ff" stroke-width="0.75"/>
<circle cx="543.38" cy="297.29" r="1.5" fill="none" stroke="#00ff00" stroke-width="0.75"/>
<circle cx="540.92" cy="299.40" r="1.5" fill="none" stroke="#00ff00" stroke-width="0.75"/>
<circle cx="541.24" cy="298.73" r="1.5" fill="none" stroke="#00ff00" stroke-width="0.75"/>
<circle cx="541.13" cy="299.65" r="1.5" fill="none" stroke="#00ff00" stroke-width="0.75"/>
<circle cx="540.59" cy="299.64" r="1.5" fill="none" stroke="#00ff00" stroke-width="0.75"/>
<circle cx="544.42" cy="297.65" r="1.5" fill="none" stroke="#00ff00" stroke-width="0.75"/>
<circle cx="538.95" cy="300.37" r="1.5" fill="none" stroke="#00ff00" stroke-width="0.75"/>
<circle cx="543.50" cy="298.09" r="1.5" fill="none" stroke="#00ff00" stroke-width="0.75"/>
<circle cx="543.50" cy="299.02" r="1.5" fill="none" stroke="#00ff00" stroke-width="0.75"/>
<circle cx="541.33" cy="298.55" r="1.5" fill="none" stroke="#00ff00" stroke-width="0.75"/>
<circle cx="543.30" cy="297.96" r="1.5" fill="none" stroke="#00ff00" stroke-width="0.75"/>
<circle cx="543.22" cy="299.00" r="1.5" fill="none" stroke="#00ff00" stroke-width="0.75"/>
<circle cx="538.74" cy="299.56" r="1.5" fill="none" stroke="#00ff00" stroke-width="0.75"/>
<circle cx="541.26" cy="299.66" r="1.5" fill="none" stroke="#00ff00" stroke-width="0.75"/>
<circle cx="542.58" cy="298.14" r="1.5" fill="none" stroke="#00ff00" stroke-width="0.75"/>
<circle cx="544.05" cy="298.05" r="1.5" fill="none" stroke="#00ff00" stroke-width="0.75"/>
<circle cx="541.18" cy="300.25" r="1.5" fill="none" stroke="#00ff00" stroke-width="0.75"/>
<circle cx="543.69" cy="298.16" r="1.5" fill="none" stroke="#00ff00" stroke-width="0.75"/>
<circle cx="539.19" cy="301.15" r="1.5" fill="none" stroke="#00ff00" stroke-width="0.75"/>
<circle cx="540.38" cy="300.76" r="1.5" fill="none" stroke="#00ff00" stroke-width="0.75"/>
<circle cx="540.23" cy="300.29" r="1.5" fill="none" stroke="#00ff00" stroke-width="0.75"/>
<circle cx="540.27" cy="298.83" r="1.5" fill="none" stroke="#00ff00" stroke-width="0.75"/>
<circle cx="543.60" cy="298.10" r="1.5" fill="none" stroke="#00ff00" stroke-width="0.75"/>
<circle cx="539.72" cy="301.11" r="1.5" fill="none" stroke="#00ff00" stroke-width="0.75"/>
<circle cx="540.14" cy="300.56" r="1.5" fill="none" stroke="#00ff00" stroke-width="0.75"/>
<circle cx="543.59" cy="297.72" r="1.5" fill="none" stroke="#00ff00" stroke-width="0.75"/>
<circle cx="540.89" cy="298.31" r="1.5" fill="none" stroke="#00ff00" stroke-width="0.75"/>
<circle cx="540.13" cy="300.17" r="1.5" fill="none" stroke="#00ff00" stroke-width="0.75"/>
<circle cx="541.44" cy="298.79" r="1.5" fill="none" stroke="#00ff00" stroke-width="0.75"/>
<circle cx="538.39" cy="301.08" r="1.5" fill="none" stroke="#00ff00" stroke-width="0.75"/>
<circle cx="539.46" cy="299.61" r="1.5" fill="none" stroke="#00ff00" stroke-width="0.75"/>
<circle cx="542.09" cy="298.15" r="1.5" fill="none" stroke="#00ff00" stroke-width="0.75"/>
<circle cx="540.62" cy="298.98" r="1.5" fill="none" stroke="#00ff00" stroke-width="0.75"/>
<circle cx="539.66" cy="301.48" r="1.5" fill="none" stroke="#00ff00" stroke-width="0.75"/>
<circle cx="541.54" cy="298.76" r="1.5" fill="none" stroke="#00ff00" stroke-width="0.75"/>
<circle cx="542.74" cy="298.60" r="1.5" fill="none" stroke="#00ff00" stroke-width="0.75"/>
<circle cx="543.74" cy="298.65" r="1.5" fill="none" stroke="#00ff00" stroke-width="0.75"/>
<circle cx="538.74" cy="299.62" r="1.5" fill="none" stroke="#00ff00" stroke-width="0.75"/>
<circle cx="538.60" cy="299.79" r="1.5" fill="none" stroke="#00ff00" stroke-width="0.75"/>
<circle cx="542.90" cy="298.74" r="1.5" fill="none" stroke="#00ff00" stroke-width="0.75"/>
<circle cx="544.66" cy="297.04" r="1.5" fill="none" stroke="#00ff00" stroke-width="0.75"/>
<circle cx="541.60" cy="298.19" r="1.5" fill="none" stroke="#00ff00" stroke-width="0.75"/>
<circle cx="543.53" cy="297.60" r="1.5" fill="none" stroke="#00ff00" stroke-width="0.75"/>
<circle cx="543.62" cy="298.70" r="1.5" fill="none" stroke="#00ff00" stroke-width="0.75"/>
<circle cx="540.66" cy="298.98" r="1.5" fill="none" stroke="#00ff00" stroke-width="0.75"/>
<circle cx="544.87" cy="297.17" r="1.5" fill="none" stroke="#00ff00" stroke-width="0.75"/>
<circle cx="538.38" cy="300.84" r="1.5" fill="none" stroke="#00ff00" stroke-width="0.75"/>
<circle cx="544.48" cy="298.10" r="1.5" fill="none" stroke="#00ff00" stroke-width="0.75"/>
<circle cx="539.39" cy="301.23" r="1.5" fill="none" stroke="#00ff00" stroke-width="0.75"/>
<circle cx="543.75" cy="297.94" r="1.5" fill="none" stroke="#00ff00" stroke-width="0.75"/>
<circle cx="540.01" cy="301.03" r="1.5" fill="none" stroke="#00ff00" stroke-width="0.75"/>
<circle cx="541.72" cy="298.48" r="1.5" fill="none" stroke="#00ff00" stroke-width="0.75"/>
<circle cx="541.73" cy="297.92" r="1.5" fill="none" stroke="#00ff00" stroke-width="0.75"/>
<circle cx="539.00" cy="299.94" r="1.5" fill="none" stroke="#00ff00" stroke-width="0.75"/>
<circle cx="538.93" cy="299.96" r="1.5" fill="none" stroke="#00ff00" stroke-width="0.75"/>
<circle cx="540.83" cy="298.63" r="1.5" fill="none" stroke="#00ff00" stroke-width="0.75"/>
<circle cx="538.54" cy="300.78" r="1.5" fill="none" stroke="#00ff00" stroke-width="0.75"/>
<circle cx="541.01" cy="300.58" r="1.5" fill="none" stroke="#00ff00" stroke-width="0.75"/>
<circle cx="542.80" cy="297.67" r="1.5" fill="none" stroke="#00ff00" stroke-width="0.75"/>
<circle cx="540.04" cy="301.15" r="1.5" fill="none" stroke="#00ff00" stroke-width="0.75"/>
<circle cx="541.94" cy="298.35" r="1.5" fill="none" stroke="#00ff00" stroke-width="0.75"/>
<circle cx="543.14" cy="298.08" r="1.5" fill="none" stroke="#00ff00" stroke-width="0.75"/>
<circle cx="538.78" cy="299.98" r="1.5" fill="none" stroke="#00ff00" stroke-width="0.75"/>
<circle cx="542.73" cy="297.83" r="1.5" fill="none" stroke="#00ff00" stroke-width="0.75"/>
<circle cx="542.94" cy="297.68" r="1.5" fill="none" stroke="#00ff00" stroke-width="0.75"/>
<circle cx="538.95" cy="300.86" r="1.5" fill="none" stroke="#00ff00" stroke-width="0.75"/>
<circle cx="539.44" cy="299.58" r="1.5" fill="none" stroke="#00ff00" stroke-width="0.75"/>
<circle cx="541.67" cy="299.21" r="1.5" fill="none" stroke="#00ff00" stroke-width="0.75"/>
<circle cx="543.32" cy="297.94" r="1.5" fill="none" stroke="#00ff00" stroke-width="0.75"/>
<circle cx="541.39" cy="298.37" r="1.5" fill="none" stroke="#00ff00" stroke-width="0.75"/>
<rect x="146.60" y="222.7" width="45" height="19.5" fill="#fff" stroke="#999" stroke-width="0.8"/>
<circle cx="156.90" cy="228.20" r="1.6" fill="none" stroke="#0000ff" stroke-width="0.7"/>
<circle cx="156.90" cy="236.90" r="1.6" fill="none" stroke="#00ff00" stroke-width="0.7"/>
<text x="166.90" y="230.90" font-size="7.3" fill="#222" text-anchor="start">Young</text>
<text x="166.90" y="239.60" font-size="7.3" fill="#222" text-anchor="start">Mature</text>
<rect x="359.10" y="222.7" width="45" height="19.5" fill="#fff" stroke="#999" stroke-width="0.8"/>
<circle cx="369.40" cy="228.20" r="1.6" fill="none" stroke="#0000ff" stroke-width="0.7"/>
<circle cx="369.40" cy="236.90" r="1.6" fill="none" stroke="#00ff00" stroke-width="0.7"/>
<text x="379.40" y="230.90" font-size="7.3" fill="#222" text-anchor="start">Young</text>
<text x="379.40" y="239.60" font-size="7.3" fill="#222" text-anchor="start">Mature</text>
<rect x="572.40" y="222.7" width="45" height="19.5" fill="#fff" stroke="#999" stroke-width="0.8"/>
<circle cx="582.70" cy="228.20" r="1.6" fill="none" stroke="#0000ff" stroke-width="0.7"/>
<circle cx="582.70" cy="236.90" r="1.6" fill="none" stroke="#00ff00" stroke-width="0.7"/>
<text x="592.70" y="230.90" font-size="7.3" fill="#222" text-anchor="start">Young</text>
<text x="592.70" y="239.60" font-size="7.3" fill="#222" text-anchor="start">Mature</text>
<text x="0.60" y="11.30" font-size="16" fill="#000" text-anchor="start" font-weight="bold">A</text>
<text x="-1.90" y="226.30" font-size="16" fill="#000" text-anchor="start" font-weight="bold">B</text>
<text x="0.40" y="433.10" font-size="16" fill="#000" text-anchor="start" font-weight="bold">C</text>
<text x="-0.95" y="699.20" font-size="16" fill="#000" text-anchor="start" font-weight="bold">D</text>
<line x1="29.30" y1="444.50" x2="29.30" y2="606.00" stroke="#8a8a8a" stroke-width="0.9"/>
<line x1="29.30" y1="606.00" x2="300.30" y2="606.00" stroke="#8a8a8a" stroke-width="0.9"/>
<line x1="29.30" y1="606.50" x2="31.30" y2="606.50" stroke="#8a8a8a" stroke-width="0.7"/>
<text x="26.10" y="609.70" font-size="8.8" fill="#262626" text-anchor="end">-2</text>
<line x1="29.30" y1="586.25" x2="31.30" y2="586.25" stroke="#8a8a8a" stroke-width="0.7"/>
<text x="26.10" y="589.45" font-size="8.8" fill="#262626" text-anchor="end">-1</text>
<line x1="29.30" y1="566.00" x2="31.30" y2="566.00" stroke="#8a8a8a" stroke-width="0.7"/>
<text x="26.10" y="569.20" font-size="8.8" fill="#262626" text-anchor="end">0</text>
<line x1="29.30" y1="545.75" x2="31.30" y2="545.75" stroke="#8a8a8a" stroke-width="0.7"/>
<text x="26.10" y="548.95" font-size="8.8" fill="#262626" text-anchor="end">1</text>
<line x1="29.30" y1="525.50" x2="31.30" y2="525.50" stroke="#8a8a8a" stroke-width="0.7"/>
<text x="26.10" y="528.70" font-size="8.8" fill="#262626" text-anchor="end">2</text>
<line x1="29.30" y1="505.25" x2="31.30" y2="505.25" stroke="#8a8a8a" stroke-width="0.7"/>
<text x="26.10" y="508.45" font-size="8.8" fill="#262626" text-anchor="end">3</text>
<line x1="29.30" y1="485.00" x2="31.30" y2="485.00" stroke="#8a8a8a" stroke-width="0.7"/>
<text x="26.10" y="488.20" font-size="8.8" fill="#262626" text-anchor="end">4</text>
<line x1="29.30" y1="464.75" x2="31.30" y2="464.75" stroke="#8a8a8a" stroke-width="0.7"/>
<text x="26.10" y="467.95" font-size="8.8" fill="#262626" text-anchor="end">5</text>
<line x1="29.30" y1="444.50" x2="31.30" y2="444.50" stroke="#8a8a8a" stroke-width="0.7"/>
<text x="26.10" y="447.70" font-size="8.8" fill="#262626" text-anchor="end">6</text>
<line x1="56.40" y1="606.00" x2="56.40" y2="604.00" stroke="#8a8a8a" stroke-width="0.7"/>
<text x="62.20" y="617.00" font-size="9.4" fill="#262626" text-anchor="end" transform="rotate(-45 62.20 617.00)">Size</text>
<line x1="83.50" y1="606.00" x2="83.50" y2="604.00" stroke="#8a8a8a" stroke-width="0.7"/>
<text x="89.30" y="617.00" font-size="9.4" fill="#262626" text-anchor="end" transform="rotate(-45 89.30 617.00)">Spacing</text>
<line x1="110.60" y1="606.00" x2="110.60" y2="604.00" stroke="#8a8a8a" stroke-width="0.7"/>
<text x="116.40" y="617.00" font-size="9.4" fill="#262626" text-anchor="end" transform="rotate(-45 116.40 617.00)">Total surface area</text>
<line x1="137.70" y1="606.00" x2="137.70" y2="604.00" stroke="#8a8a8a" stroke-width="0.7"/>
<text x="143.50" y="617.00" font-size="9.4" fill="#262626" text-anchor="end" transform="rotate(-45 143.50 617.00)">Item surface area</text>
<line x1="164.80" y1="606.00" x2="164.80" y2="604.00" stroke="#8a8a8a" stroke-width="0.7"/>
<text x="170.60" y="617.00" font-size="9.4" fill="#262626" text-anchor="end" transform="rotate(-45 170.60 617.00)">Field area</text>
<line x1="191.90" y1="606.00" x2="191.90" y2="604.00" stroke="#8a8a8a" stroke-width="0.7"/>
<text x="197.70" y="617.00" font-size="9.4" fill="#262626" text-anchor="end" transform="rotate(-45 197.70 617.00)">Sparsity</text>
<line x1="219.00" y1="606.00" x2="219.00" y2="604.00" stroke="#8a8a8a" stroke-width="0.7"/>
<text x="224.80" y="617.00" font-size="9.4" fill="#262626" text-anchor="end" transform="rotate(-45 224.80 617.00)">Coverage</text>
<line x1="246.10" y1="606.00" x2="246.10" y2="604.00" stroke="#8a8a8a" stroke-width="0.7"/>
<text x="251.90" y="617.00" font-size="9.4" fill="#262626" text-anchor="end" transform="rotate(-45 251.90 617.00)">Apparent closeness</text>
<line x1="273.20" y1="606.00" x2="273.20" y2="604.00" stroke="#8a8a8a" stroke-width="0.7"/>
<text x="279.00" y="617.00" font-size="9.4" fill="#262626" text-anchor="end" transform="rotate(-45 279.00 617.00)">Total Perimeter</text>
<line x1="29.40" y1="566.00" x2="298.30" y2="566.00" stroke="#bababa" stroke-width="1.1" stroke-dasharray="5.1 2.8"/>
<text transform="translate(8.6,456.4) rotate(-90)" font-size="10.25" fill="#262626" text-anchor="end">β<tspan font-size="8.0" dy="5.0">Num</tspan><tspan dy="-5.0"> - magnitude of projection</tspan></text>
<circle cx="56.40" cy="474.79" r="2.05" fill="none" stroke="#dc0000" stroke-width="0.85"/>
<circle cx="56.40" cy="476.16" r="2.05" fill="none" stroke="#dc0000" stroke-width="0.85"/>
<circle cx="56.40" cy="480.94" r="2.05" fill="none" stroke="#dc0000" stroke-width="0.85"/>
<circle cx="56.40" cy="482.99" r="2.05" fill="none" stroke="#dc0000" stroke-width="0.85"/>
<circle cx="56.40" cy="485.05" r="2.05" fill="none" stroke="#dc0000" stroke-width="0.85"/>
<circle cx="56.40" cy="487.10" r="2.05" fill="none" stroke="#dc0000" stroke-width="0.85"/>
<circle cx="56.40" cy="491.20" r="2.05" fill="none" stroke="#dc0000" stroke-width="0.85"/>
<circle cx="56.40" cy="499.41" r="2.05" fill="none" stroke="#dc0000" stroke-width="0.85"/>
<circle cx="56.40" cy="501.46" r="2.05" fill="none" stroke="#dc0000" stroke-width="0.85"/>
<circle cx="56.40" cy="503.51" r="2.05" fill="none" stroke="#dc0000" stroke-width="0.85"/>
<circle cx="56.40" cy="505.56" r="2.05" fill="none" stroke="#dc0000" stroke-width="0.85"/>
<circle cx="56.40" cy="507.61" r="2.05" fill="none" stroke="#dc0000" stroke-width="0.85"/>
<circle cx="56.40" cy="509.67" r="2.05" fill="none" stroke="#dc0000" stroke-width="0.85"/>
<circle cx="56.40" cy="511.03" r="2.05" fill="none" stroke="#dc0000" stroke-width="0.85"/>
<circle cx="56.40" cy="512.40" r="2.05" fill="none" stroke="#dc0000" stroke-width="0.85"/>
<circle cx="56.40" cy="513.77" r="2.05" fill="none" stroke="#dc0000" stroke-width="0.85"/>
<circle cx="56.40" cy="515.82" r="2.05" fill="none" stroke="#dc0000" stroke-width="0.85"/>
<circle cx="56.40" cy="517.87" r="2.05" fill="none" stroke="#dc0000" stroke-width="0.85"/>
<circle cx="56.40" cy="519.92" r="2.05" fill="none" stroke="#dc0000" stroke-width="0.85"/>
<circle cx="56.40" cy="521.98" r="2.05" fill="none" stroke="#dc0000" stroke-width="0.85"/>
<circle cx="56.40" cy="524.71" r="2.05" fill="none" stroke="#dc0000" stroke-width="0.85"/>
<circle cx="56.40" cy="526.08" r="2.05" fill="none" stroke="#dc0000" stroke-width="0.85"/>
<circle cx="56.40" cy="527.45" r="2.05" fill="none" stroke="#dc0000" stroke-width="0.85"/>
<circle cx="56.40" cy="528.82" r="2.05" fill="none" stroke="#dc0000" stroke-width="0.85"/>
<circle cx="56.40" cy="534.29" r="2.05" fill="none" stroke="#dc0000" stroke-width="0.85"/>
<circle cx="56.40" cy="538.39" r="2.05" fill="none" stroke="#dc0000" stroke-width="0.85"/>
<circle cx="56.40" cy="541.81" r="2.05" fill="none" stroke="#dc0000" stroke-width="0.85"/>
<circle cx="83.50" cy="472.74" r="2.05" fill="none" stroke="#dc0000" stroke-width="0.85"/>
<circle cx="83.50" cy="474.79" r="2.05" fill="none" stroke="#dc0000" stroke-width="0.85"/>
<circle cx="83.50" cy="480.26" r="2.05" fill="none" stroke="#dc0000" stroke-width="0.85"/>
<circle cx="83.50" cy="482.31" r="2.05" fill="none" stroke="#dc0000" stroke-width="0.85"/>
<circle cx="83.50" cy="484.36" r="2.05" fill="none" stroke="#dc0000" stroke-width="0.85"/>
<circle cx="83.50" cy="496.67" r="2.05" fill="none" stroke="#dc0000" stroke-width="0.85"/>
<circle cx="83.50" cy="498.04" r="2.05" fill="none" stroke="#dc0000" stroke-width="0.85"/>
<circle cx="83.50" cy="499.41" r="2.05" fill="none" stroke="#dc0000" stroke-width="0.85"/>
<circle cx="83.50" cy="501.46" r="2.05" fill="none" stroke="#dc0000" stroke-width="0.85"/>
<circle cx="83.50" cy="503.51" r="2.05" fill="none" stroke="#dc0000" stroke-width="0.85"/>
<circle cx="83.50" cy="505.56" r="2.05" fill="none" stroke="#dc0000" stroke-width="0.85"/>
<circle cx="83.50" cy="508.30" r="2.05" fill="none" stroke="#dc0000" stroke-width="0.85"/>
<circle cx="83.50" cy="510.35" r="2.05" fill="none" stroke="#dc0000" stroke-width="0.85"/>
<circle cx="83.50" cy="512.40" r="2.05" fill="none" stroke="#dc0000" stroke-width="0.85"/>
<circle cx="83.50" cy="514.45" r="2.05" fill="none" stroke="#dc0000" stroke-width="0.85"/>
<circle cx="83.50" cy="516.51" r="2.05" fill="none" stroke="#dc0000" stroke-width="0.85"/>
<circle cx="83.50" cy="518.56" r="2.05" fill="none" stroke="#dc0000" stroke-width="0.85"/>
<circle cx="83.50" cy="521.29" r="2.05" fill="none" stroke="#dc0000" stroke-width="0.85"/>
<circle cx="83.50" cy="524.03" r="2.05" fill="none" stroke="#dc0000" stroke-width="0.85"/>
<circle cx="83.50" cy="527.45" r="2.05" fill="none" stroke="#dc0000" stroke-width="0.85"/>
<circle cx="83.50" cy="528.82" r="2.05" fill="none" stroke="#dc0000" stroke-width="0.85"/>
<circle cx="83.50" cy="532.23" r="2.05" fill="none" stroke="#dc0000" stroke-width="0.85"/>
<circle cx="83.50" cy="537.02" r="2.05" fill="none" stroke="#dc0000" stroke-width="0.85"/>
<circle cx="110.60" cy="526.35" r="2.05" fill="none" stroke="#dc0000" stroke-width="0.85"/>
<circle cx="110.60" cy="528.13" r="2.05" fill="none" stroke="#dc0000" stroke-width="0.85"/>
<circle cx="110.60" cy="530.18" r="2.05" fill="none" stroke="#dc0000" stroke-width="0.85"/>
<circle cx="110.60" cy="532.23" r="2.05" fill="none" stroke="#dc0000" stroke-width="0.85"/>
<circle cx="110.60" cy="534.29" r="2.05" fill="none" stroke="#dc0000" stroke-width="0.85"/>
<circle cx="110.60" cy="537.02" r="2.05" fill="none" stroke="#dc0000" stroke-width="0.85"/>
<circle cx="110.60" cy="539.07" r="2.05" fill="none" stroke="#dc0000" stroke-width="0.85"/>
<circle cx="110.60" cy="541.13" r="2.05" fill="none" stroke="#dc0000" stroke-width="0.85"/>
<circle cx="110.60" cy="542.49" r="2.05" fill="none" stroke="#dc0000" stroke-width="0.85"/>
<circle cx="110.60" cy="543.86" r="2.05" fill="none" stroke="#dc0000" stroke-width="0.85"/>
<circle cx="110.60" cy="545.23" r="2.05" fill="none" stroke="#dc0000" stroke-width="0.85"/>
<circle cx="110.60" cy="546.60" r="2.05" fill="none" stroke="#dc0000" stroke-width="0.85"/>
<circle cx="110.60" cy="547.96" r="2.05" fill="none" stroke="#dc0000" stroke-width="0.85"/>
<circle cx="110.60" cy="549.33" r="2.05" fill="none" stroke="#dc0000" stroke-width="0.85"/>
<circle cx="110.60" cy="550.70" r="2.05" fill="none" stroke="#dc0000" stroke-width="0.85"/>
<circle cx="110.60" cy="552.07" r="2.05" fill="none" stroke="#dc0000" stroke-width="0.85"/>
<circle cx="110.60" cy="554.12" r="2.05" fill="none" stroke="#dc0000" stroke-width="0.85"/>
<circle cx="110.60" cy="556.17" r="2.05" fill="none" stroke="#dc0000" stroke-width="0.85"/>
<circle cx="110.60" cy="558.22" r="2.05" fill="none" stroke="#dc0000" stroke-width="0.85"/>
<circle cx="110.60" cy="560.27" r="2.05" fill="none" stroke="#dc0000" stroke-width="0.85"/>
<circle cx="110.60" cy="561.64" r="2.05" fill="none" stroke="#dc0000" stroke-width="0.85"/>
<circle cx="110.60" cy="563.01" r="2.05" fill="none" stroke="#dc0000" stroke-width="0.85"/>
<circle cx="110.60" cy="565.06" r="2.05" fill="none" stroke="#dc0000" stroke-width="0.85"/>
<circle cx="137.70" cy="532.83" r="2.05" fill="none" stroke="#dc0000" stroke-width="0.85"/>
<circle cx="137.70" cy="537.69" r="2.05" fill="none" stroke="#dc0000" stroke-width="0.85"/>
<circle cx="137.70" cy="538.91" r="2.05" fill="none" stroke="#dc0000" stroke-width="0.85"/>
<circle cx="137.70" cy="540.73" r="2.05" fill="none" stroke="#dc0000" stroke-width="0.85"/>
<circle cx="137.70" cy="542.55" r="2.05" fill="none" stroke="#dc0000" stroke-width="0.85"/>
<circle cx="137.70" cy="544.38" r="2.05" fill="none" stroke="#dc0000" stroke-width="0.85"/>
<circle cx="137.70" cy="546.20" r="2.05" fill="none" stroke="#dc0000" stroke-width="0.85"/>
<circle cx="137.70" cy="548.02" r="2.05" fill="none" stroke="#dc0000" stroke-width="0.85"/>
<circle cx="137.70" cy="549.85" r="2.05" fill="none" stroke="#dc0000" stroke-width="0.85"/>
<circle cx="137.70" cy="551.67" r="2.05" fill="none" stroke="#dc0000" stroke-width="0.85"/>
<circle cx="137.70" cy="553.50" r="2.05" fill="none" stroke="#dc0000" stroke-width="0.85"/>
<circle cx="137.70" cy="555.32" r="2.05" fill="none" stroke="#dc0000" stroke-width="0.85"/>
<circle cx="137.70" cy="557.14" r="2.05" fill="none" stroke="#dc0000" stroke-width="0.85"/>
<circle cx="137.70" cy="557.75" r="2.05" fill="none" stroke="#dc0000" stroke-width="0.85"/>
<circle cx="164.80" cy="537.08" r="2.05" fill="none" stroke="#dc0000" stroke-width="0.85"/>
<circle cx="164.80" cy="538.91" r="2.05" fill="none" stroke="#dc0000" stroke-width="0.85"/>
<circle cx="164.80" cy="540.73" r="2.05" fill="none" stroke="#dc0000" stroke-width="0.85"/>
<circle cx="164.80" cy="543.16" r="2.05" fill="none" stroke="#dc0000" stroke-width="0.85"/>
<circle cx="164.80" cy="546.81" r="2.05" fill="none" stroke="#dc0000" stroke-width="0.85"/>
<circle cx="164.80" cy="548.02" r="2.05" fill="none" stroke="#dc0000" stroke-width="0.85"/>
<circle cx="164.80" cy="549.85" r="2.05" fill="none" stroke="#dc0000" stroke-width="0.85"/>
<circle cx="164.80" cy="551.67" r="2.05" fill="none" stroke="#dc0000" stroke-width="0.85"/>
<circle cx="164.80" cy="553.50" r="2.05" fill="none" stroke="#dc0000" stroke-width="0.85"/>
<circle cx="164.80" cy="555.32" r="2.05" fill="none" stroke="#dc0000" stroke-width="0.85"/>
<circle cx="164.80" cy="557.14" r="2.05" fill="none" stroke="#dc0000" stroke-width="0.85"/>
<circle cx="164.80" cy="558.97" r="2.05" fill="none" stroke="#dc0000" stroke-width="0.85"/>
<circle cx="164.80" cy="560.79" r="2.05" fill="none" stroke="#dc0000" stroke-width="0.85"/>
<circle cx="164.80" cy="562.01" r="2.05" fill="none" stroke="#dc0000" stroke-width="0.85"/>
<circle cx="191.90" cy="524.32" r="2.05" fill="none" stroke="#dc0000" stroke-width="0.85"/>
<circle cx="191.90" cy="526.14" r="2.05" fill="none" stroke="#dc0000" stroke-width="0.85"/>
<circle cx="191.90" cy="531.00" r="2.05" fill="none" stroke="#dc0000" stroke-width="0.85"/>
<circle cx="191.90" cy="532.83" r="2.05" fill="none" stroke="#dc0000" stroke-width="0.85"/>
<circle cx="191.90" cy="534.65" r="2.05" fill="none" stroke="#dc0000" stroke-width="0.85"/>
<circle cx="191.90" cy="536.47" r="2.05" fill="none" stroke="#dc0000" stroke-width="0.85"/>
<circle cx="191.90" cy="538.30" r="2.05" fill="none" stroke="#dc0000" stroke-width="0.85"/>
<circle cx="191.90" cy="540.12" r="2.05" fill="none" stroke="#dc0000" stroke-width="0.85"/>
<circle cx="191.90" cy="541.95" r="2.05" fill="none" stroke="#dc0000" stroke-width="0.85"/>
<circle cx="191.90" cy="543.77" r="2.05" fill="none" stroke="#dc0000" stroke-width="0.85"/>
<circle cx="191.90" cy="546.20" r="2.05" fill="none" stroke="#dc0000" stroke-width="0.85"/>
<circle cx="191.90" cy="548.02" r="2.05" fill="none" stroke="#dc0000" stroke-width="0.85"/>
<circle cx="191.90" cy="549.85" r="2.05" fill="none" stroke="#dc0000" stroke-width="0.85"/>
<circle cx="191.90" cy="551.67" r="2.05" fill="none" stroke="#dc0000" stroke-width="0.85"/>
<circle cx="191.90" cy="553.50" r="2.05" fill="none" stroke="#dc0000" stroke-width="0.85"/>
<circle cx="191.90" cy="555.32" r="2.05" fill="none" stroke="#dc0000" stroke-width="0.85"/>
<circle cx="219.00" cy="475.18" r="2.05" fill="none" stroke="#dc0000" stroke-width="0.85"/>
<circle cx="219.00" cy="479.33" r="2.05" fill="none" stroke="#dc0000" stroke-width="0.85"/>
<circle cx="219.00" cy="482.09" r="2.05" fill="none" stroke="#dc0000" stroke-width="0.85"/>
<circle cx="219.00" cy="484.16" r="2.05" fill="none" stroke="#dc0000" stroke-width="0.85"/>
<circle cx="219.00" cy="486.23" r="2.05" fill="none" stroke="#dc0000" stroke-width="0.85"/>
<circle cx="219.00" cy="488.30" r="2.05" fill="none" stroke="#dc0000" stroke-width="0.85"/>
<circle cx="219.00" cy="489.68" r="2.05" fill="none" stroke="#dc0000" stroke-width="0.85"/>
<circle cx="219.00" cy="493.13" r="2.05" fill="none" stroke="#dc0000" stroke-width="0.85"/>
<circle cx="219.00" cy="497.27" r="2.05" fill="none" stroke="#dc0000" stroke-width="0.85"/>
<circle cx="219.00" cy="499.34" r="2.05" fill="none" stroke="#dc0000" stroke-width="0.85"/>
<circle cx="219.00" cy="501.41" r="2.05" fill="none" stroke="#dc0000" stroke-width="0.85"/>
<circle cx="219.00" cy="503.48" r="2.05" fill="none" stroke="#dc0000" stroke-width="0.85"/>
<circle cx="219.00" cy="505.55" r="2.05" fill="none" stroke="#dc0000" stroke-width="0.85"/>
<circle cx="219.00" cy="507.63" r="2.05" fill="none" stroke="#dc0000" stroke-width="0.85"/>
<circle cx="219.00" cy="509.70" r="2.05" fill="none" stroke="#dc0000" stroke-width="0.85"/>
<circle cx="219.00" cy="511.77" r="2.05" fill="none" stroke="#dc0000" stroke-width="0.85"/>
<circle cx="219.00" cy="513.84" r="2.05" fill="none" stroke="#dc0000" stroke-width="0.85"/>
<circle cx="219.00" cy="515.91" r="2.05" fill="none" stroke="#dc0000" stroke-width="0.85"/>
<circle cx="219.00" cy="517.98" r="2.05" fill="none" stroke="#dc0000" stroke-width="0.85"/>
<circle cx="219.00" cy="520.05" r="2.05" fill="none" stroke="#dc0000" stroke-width="0.85"/>
<circle cx="219.00" cy="522.12" r="2.05" fill="none" stroke="#dc0000" stroke-width="0.85"/>
<circle cx="219.00" cy="524.19" r="2.05" fill="none" stroke="#dc0000" stroke-width="0.85"/>
<circle cx="219.00" cy="526.26" r="2.05" fill="none" stroke="#dc0000" stroke-width="0.85"/>
<circle cx="219.00" cy="528.33" r="2.05" fill="none" stroke="#dc0000" stroke-width="0.85"/>
<circle cx="219.00" cy="531.78" r="2.05" fill="none" stroke="#dc0000" stroke-width="0.85"/>
<circle cx="219.00" cy="535.23" r="2.05" fill="none" stroke="#dc0000" stroke-width="0.85"/>
<circle cx="246.10" cy="471.04" r="2.05" fill="none" stroke="#dc0000" stroke-width="0.85"/>
<circle cx="246.10" cy="475.18" r="2.05" fill="none" stroke="#dc0000" stroke-width="0.85"/>
<circle cx="246.10" cy="477.26" r="2.05" fill="none" stroke="#dc0000" stroke-width="0.85"/>
<circle cx="246.10" cy="480.02" r="2.05" fill="none" stroke="#dc0000" stroke-width="0.85"/>
<circle cx="246.10" cy="484.16" r="2.05" fill="none" stroke="#dc0000" stroke-width="0.85"/>
<circle cx="246.10" cy="489.68" r="2.05" fill="none" stroke="#dc0000" stroke-width="0.85"/>
<circle cx="246.10" cy="493.13" r="2.05" fill="none" stroke="#dc0000" stroke-width="0.85"/>
<circle cx="246.10" cy="495.89" r="2.05" fill="none" stroke="#dc0000" stroke-width="0.85"/>
<circle cx="246.10" cy="497.96" r="2.05" fill="none" stroke="#dc0000" stroke-width="0.85"/>
<circle cx="246.10" cy="500.03" r="2.05" fill="none" stroke="#dc0000" stroke-width="0.85"/>
<circle cx="246.10" cy="502.79" r="2.05" fill="none" stroke="#dc0000" stroke-width="0.85"/>
<circle cx="246.10" cy="505.55" r="2.05" fill="none" stroke="#dc0000" stroke-width="0.85"/>
<circle cx="246.10" cy="507.63" r="2.05" fill="none" stroke="#dc0000" stroke-width="0.85"/>
<circle cx="246.10" cy="509.70" r="2.05" fill="none" stroke="#dc0000" stroke-width="0.85"/>
<circle cx="246.10" cy="511.77" r="2.05" fill="none" stroke="#dc0000" stroke-width="0.85"/>
<circle cx="246.10" cy="513.84" r="2.05" fill="none" stroke="#dc0000" stroke-width="0.85"/>
<circle cx="246.10" cy="515.91" r="2.05" fill="none" stroke="#dc0000" stroke-width="0.85"/>
<circle cx="246.10" cy="517.98" r="2.05" fill="none" stroke="#dc0000" stroke-width="0.85"/>
<circle cx="246.10" cy="520.74" r="2.05" fill="none" stroke="#dc0000" stroke-width="0.85"/>
<circle cx="246.10" cy="523.50" r="2.05" fill="none" stroke="#dc0000" stroke-width="0.85"/>
<circle cx="246.10" cy="526.26" r="2.05" fill="none" stroke="#dc0000" stroke-width="0.85"/>
<circle cx="246.10" cy="531.78" r="2.05" fill="none" stroke="#dc0000" stroke-width="0.85"/>
<circle cx="246.10" cy="535.92" r="2.05" fill="none" stroke="#dc0000" stroke-width="0.85"/>
<circle cx="246.10" cy="537.31" r="2.05" fill="none" stroke="#dc0000" stroke-width="0.85"/>
<circle cx="246.10" cy="541.45" r="2.05" fill="none" stroke="#dc0000" stroke-width="0.85"/>
<circle cx="246.10" cy="544.62" r="2.05" fill="none" stroke="#dc0000" stroke-width="0.85"/>
<circle cx="273.20" cy="555.25" r="2.05" fill="none" stroke="#dc0000" stroke-width="0.85"/>
<circle cx="273.20" cy="556.63" r="2.05" fill="none" stroke="#dc0000" stroke-width="0.85"/>
<circle cx="273.20" cy="558.01" r="2.05" fill="none" stroke="#dc0000" stroke-width="0.85"/>
<circle cx="273.20" cy="559.39" r="2.05" fill="none" stroke="#dc0000" stroke-width="0.85"/>
<circle cx="273.20" cy="560.77" r="2.05" fill="none" stroke="#dc0000" stroke-width="0.85"/>
<circle cx="273.20" cy="562.15" r="2.05" fill="none" stroke="#dc0000" stroke-width="0.85"/>
<circle cx="273.20" cy="563.53" r="2.05" fill="none" stroke="#dc0000" stroke-width="0.85"/>
<circle cx="273.20" cy="564.91" r="2.05" fill="none" stroke="#dc0000" stroke-width="0.85"/>
<circle cx="273.20" cy="566.29" r="2.05" fill="none" stroke="#dc0000" stroke-width="0.85"/>
<circle cx="273.20" cy="567.68" r="2.05" fill="none" stroke="#dc0000" stroke-width="0.85"/>
<circle cx="273.20" cy="569.06" r="2.05" fill="none" stroke="#dc0000" stroke-width="0.85"/>
<line x1="355.60" y1="439.60" x2="355.60" y2="604.50" stroke="#8a8a8a" stroke-width="0.9"/>
<line x1="355.60" y1="604.50" x2="626.60" y2="604.50" stroke="#8a8a8a" stroke-width="0.9"/>
<line x1="355.60" y1="604.40" x2="357.60" y2="604.40" stroke="#8a8a8a" stroke-width="0.7"/>
<text x="352.40" y="607.60" font-size="8.8" fill="#262626" text-anchor="end">-2</text>
<line x1="355.60" y1="583.80" x2="357.60" y2="583.80" stroke="#8a8a8a" stroke-width="0.7"/>
<text x="352.40" y="587.00" font-size="8.8" fill="#262626" text-anchor="end">-1</text>
<line x1="355.60" y1="563.20" x2="357.60" y2="563.20" stroke="#8a8a8a" stroke-width="0.7"/>
<text x="352.40" y="566.40" font-size="8.8" fill="#262626" text-anchor="end">0</text>
<line x1="355.60" y1="542.60" x2="357.60" y2="542.60" stroke="#8a8a8a" stroke-width="0.7"/>
<text x="352.40" y="545.80" font-size="8.8" fill="#262626" text-anchor="end">1</text>
<line x1="355.60" y1="522.00" x2="357.60" y2="522.00" stroke="#8a8a8a" stroke-width="0.7"/>
<text x="352.40" y="525.20" font-size="8.8" fill="#262626" text-anchor="end">2</text>
<line x1="355.60" y1="501.40" x2="357.60" y2="501.40" stroke="#8a8a8a" stroke-width="0.7"/>
<text x="352.40" y="504.60" font-size="8.8" fill="#262626" text-anchor="end">3</text>
<line x1="355.60" y1="480.80" x2="357.60" y2="480.80" stroke="#8a8a8a" stroke-width="0.7"/>
<text x="352.40" y="484.00" font-size="8.8" fill="#262626" text-anchor="end">4</text>
<line x1="355.60" y1="460.20" x2="357.60" y2="460.20" stroke="#8a8a8a" stroke-width="0.7"/>
<text x="352.40" y="463.40" font-size="8.8" fill="#262626" text-anchor="end">5</text>
<line x1="355.60" y1="439.60" x2="357.60" y2="439.60" stroke="#8a8a8a" stroke-width="0.7"/>
<text x="352.40" y="442.80" font-size="8.8" fill="#262626" text-anchor="end">6</text>
<line x1="382.70" y1="604.50" x2="382.70" y2="602.50" stroke="#8a8a8a" stroke-width="0.7"/>
<text x="388.20" y="615.70" font-size="9.5" fill="#262626" text-anchor="end" transform="rotate(-41.5 388.20 615.70)">Size</text>
<line x1="409.80" y1="604.50" x2="409.80" y2="602.50" stroke="#8a8a8a" stroke-width="0.7"/>
<text x="415.30" y="615.70" font-size="9.5" fill="#262626" text-anchor="end" transform="rotate(-41.5 415.30 615.70)">Spacing</text>
<line x1="436.90" y1="604.50" x2="436.90" y2="602.50" stroke="#8a8a8a" stroke-width="0.7"/>
<text x="442.40" y="615.70" font-size="9.5" fill="#262626" text-anchor="end" transform="rotate(-41.5 442.40 615.70)">Total surface area</text>
<line x1="464.00" y1="604.50" x2="464.00" y2="602.50" stroke="#8a8a8a" stroke-width="0.7"/>
<text x="469.50" y="615.70" font-size="9.5" fill="#262626" text-anchor="end" transform="rotate(-41.5 469.50 615.70)">Item surface area</text>
<line x1="491.10" y1="604.50" x2="491.10" y2="602.50" stroke="#8a8a8a" stroke-width="0.7"/>
<text x="496.60" y="615.70" font-size="9.5" fill="#262626" text-anchor="end" transform="rotate(-41.5 496.60 615.70)">Field area</text>
<line x1="518.20" y1="604.50" x2="518.20" y2="602.50" stroke="#8a8a8a" stroke-width="0.7"/>
<text x="523.70" y="615.70" font-size="9.5" fill="#262626" text-anchor="end" transform="rotate(-41.5 523.70 615.70)">Sparsity</text>
<line x1="545.30" y1="604.50" x2="545.30" y2="602.50" stroke="#8a8a8a" stroke-width="0.7"/>
<text x="550.80" y="615.70" font-size="9.5" fill="#262626" text-anchor="end" transform="rotate(-41.5 550.80 615.70)">Coverage</text>
<line x1="572.40" y1="604.50" x2="572.40" y2="602.50" stroke="#8a8a8a" stroke-width="0.7"/>
<text x="577.90" y="615.70" font-size="9.5" fill="#262626" text-anchor="end" transform="rotate(-41.5 577.90 615.70)">Apparent closeness</text>
<line x1="599.50" y1="604.50" x2="599.50" y2="602.50" stroke="#8a8a8a" stroke-width="0.7"/>
<text x="605.00" y="615.70" font-size="9.5" fill="#262626" text-anchor="end" transform="rotate(-41.5 605.00 615.70)">Total Perimeter</text>
<line x1="355.30" y1="563.20" x2="624.60" y2="563.20" stroke="#a4a4a4" stroke-width="0.9" stroke-dasharray="5.5 2.5"/>
<circle cx="382.57" cy="515.00" r="1.9" fill="none" stroke="#0000ff" stroke-width="0.8"/>
<circle cx="382.55" cy="515.52" r="1.9" fill="none" stroke="#0000ff" stroke-width="0.8"/>
<circle cx="382.52" cy="516.04" r="1.9" fill="none" stroke="#0000ff" stroke-width="0.8"/>
<circle cx="382.62" cy="516.56" r="1.9" fill="none" stroke="#0000ff" stroke-width="0.8"/>
<circle cx="382.99" cy="517.08" r="1.9" fill="none" stroke="#0000ff" stroke-width="0.8"/>
<circle cx="383.00" cy="517.59" r="1.9" fill="none" stroke="#0000ff" stroke-width="0.8"/>
<circle cx="382.96" cy="518.11" r="1.9" fill="none" stroke="#0000ff" stroke-width="0.8"/>
<circle cx="382.46" cy="518.63" r="1.9" fill="none" stroke="#0000ff" stroke-width="0.8"/>
<circle cx="382.57" cy="519.15" r="1.9" fill="none" stroke="#0000ff" stroke-width="0.8"/>
<circle cx="382.94" cy="519.67" r="1.9" fill="none" stroke="#0000ff" stroke-width="0.8"/>
<circle cx="382.43" cy="520.19" r="1.9" fill="none" stroke="#0000ff" stroke-width="0.8"/>
<circle cx="382.84" cy="520.71" r="1.9" fill="none" stroke="#0000ff" stroke-width="0.8"/>
<circle cx="382.58" cy="521.23" r="1.9" fill="none" stroke="#0000ff" stroke-width="0.8"/>
<circle cx="382.99" cy="521.74" r="1.9" fill="none" stroke="#0000ff" stroke-width="0.8"/>
<circle cx="382.41" cy="522.26" r="1.9" fill="none" stroke="#0000ff" stroke-width="0.8"/>
<circle cx="382.88" cy="522.78" r="1.9" fill="none" stroke="#0000ff" stroke-width="0.8"/>
<circle cx="382.60" cy="523.30" r="1.9" fill="none" stroke="#0000ff" stroke-width="0.8"/>
<circle cx="382.48" cy="523.82" r="1.9" fill="none" stroke="#0000ff" stroke-width="0.8"/>
<circle cx="382.40" cy="524.34" r="1.9" fill="none" stroke="#0000ff" stroke-width="0.8"/>
<circle cx="382.90" cy="524.86" r="1.9" fill="none" stroke="#0000ff" stroke-width="0.8"/>
<circle cx="382.72" cy="525.38" r="1.9" fill="none" stroke="#0000ff" stroke-width="0.8"/>
<circle cx="382.51" cy="525.89" r="1.9" fill="none" stroke="#0000ff" stroke-width="0.8"/>
<circle cx="382.66" cy="526.41" r="1.9" fill="none" stroke="#0000ff" stroke-width="0.8"/>
<circle cx="382.95" cy="526.93" r="1.9" fill="none" stroke="#0000ff" stroke-width="0.8"/>
<circle cx="382.53" cy="527.45" r="1.9" fill="none" stroke="#0000ff" stroke-width="0.8"/>
<circle cx="382.74" cy="527.97" r="1.9" fill="none" stroke="#0000ff" stroke-width="0.8"/>
<circle cx="382.48" cy="528.49" r="1.9" fill="none" stroke="#0000ff" stroke-width="0.8"/>
<circle cx="382.51" cy="529.01" r="1.9" fill="none" stroke="#0000ff" stroke-width="0.8"/>
<circle cx="382.86" cy="529.52" r="1.9" fill="none" stroke="#0000ff" stroke-width="0.8"/>
<circle cx="382.83" cy="530.04" r="1.9" fill="none" stroke="#0000ff" stroke-width="0.8"/>
<circle cx="382.52" cy="530.56" r="1.9" fill="none" stroke="#0000ff" stroke-width="0.8"/>
<circle cx="382.45" cy="531.08" r="1.9" fill="none" stroke="#0000ff" stroke-width="0.8"/>
<circle cx="382.45" cy="531.60" r="1.9" fill="none" stroke="#0000ff" stroke-width="0.8"/>
<circle cx="382.77" cy="532.12" r="1.9" fill="none" stroke="#0000ff" stroke-width="0.8"/>
<circle cx="382.70" cy="532.64" r="1.9" fill="none" stroke="#0000ff" stroke-width="0.8"/>
<circle cx="382.56" cy="533.16" r="1.9" fill="none" stroke="#0000ff" stroke-width="0.8"/>
<circle cx="382.52" cy="533.67" r="1.9" fill="none" stroke="#0000ff" stroke-width="0.8"/>
<circle cx="382.77" cy="534.19" r="1.9" fill="none" stroke="#0000ff" stroke-width="0.8"/>
<circle cx="382.82" cy="534.71" r="1.9" fill="none" stroke="#0000ff" stroke-width="0.8"/>
<circle cx="382.89" cy="535.23" r="1.9" fill="none" stroke="#0000ff" stroke-width="0.8"/>
<circle cx="382.75" cy="535.75" r="1.9" fill="none" stroke="#0000ff" stroke-width="0.8"/>
<circle cx="382.52" cy="536.27" r="1.9" fill="none" stroke="#0000ff" stroke-width="0.8"/>
<circle cx="382.44" cy="536.79" r="1.9" fill="none" stroke="#0000ff" stroke-width="0.8"/>
<circle cx="382.84" cy="537.31" r="1.9" fill="none" stroke="#0000ff" stroke-width="0.8"/>
<circle cx="382.64" cy="537.82" r="1.9" fill="none" stroke="#0000ff" stroke-width="0.8"/>
<circle cx="382.83" cy="538.34" r="1.9" fill="none" stroke="#0000ff" stroke-width="0.8"/>
<circle cx="382.43" cy="538.86" r="1.9" fill="none" stroke="#0000ff" stroke-width="0.8"/>
<circle cx="382.89" cy="539.38" r="1.9" fill="none" stroke="#0000ff" stroke-width="0.8"/>
<circle cx="382.60" cy="539.90" r="1.9" fill="none" stroke="#0000ff" stroke-width="0.8"/>
<circle cx="385.61" cy="483.70" r="1.9" fill="none" stroke="#00ff00" stroke-width="0.8"/>
<circle cx="385.62" cy="484.21" r="1.9" fill="none" stroke="#00ff00" stroke-width="0.8"/>
<circle cx="385.40" cy="484.73" r="1.9" fill="none" stroke="#00ff00" stroke-width="0.8"/>
<circle cx="385.11" cy="485.24" r="1.9" fill="none" stroke="#00ff00" stroke-width="0.8"/>
<circle cx="385.65" cy="485.75" r="1.9" fill="none" stroke="#00ff00" stroke-width="0.8"/>
<circle cx="385.39" cy="486.26" r="1.9" fill="none" stroke="#00ff00" stroke-width="0.8"/>
<circle cx="385.62" cy="486.78" r="1.9" fill="none" stroke="#00ff00" stroke-width="0.8"/>
<circle cx="385.26" cy="487.29" r="1.9" fill="none" stroke="#00ff00" stroke-width="0.8"/>
<circle cx="385.21" cy="487.80" r="1.9" fill="none" stroke="#00ff00" stroke-width="0.8"/>
<circle cx="385.60" cy="488.32" r="1.9" fill="none" stroke="#00ff00" stroke-width="0.8"/>
<circle cx="385.32" cy="488.83" r="1.9" fill="none" stroke="#00ff00" stroke-width="0.8"/>
<circle cx="385.20" cy="489.34" r="1.9" fill="none" stroke="#00ff00" stroke-width="0.8"/>
<circle cx="385.32" cy="489.85" r="1.9" fill="none" stroke="#00ff00" stroke-width="0.8"/>
<circle cx="385.46" cy="490.37" r="1.9" fill="none" stroke="#00ff00" stroke-width="0.8"/>
<circle cx="385.10" cy="490.88" r="1.9" fill="none" stroke="#00ff00" stroke-width="0.8"/>
<circle cx="385.41" cy="491.39" r="1.9" fill="none" stroke="#00ff00" stroke-width="0.8"/>
<circle cx="385.37" cy="491.91" r="1.9" fill="none" stroke="#00ff00" stroke-width="0.8"/>
<circle cx="385.41" cy="492.42" r="1.9" fill="none" stroke="#00ff00" stroke-width="0.8"/>
<circle cx="385.17" cy="492.93" r="1.9" fill="none" stroke="#00ff00" stroke-width="0.8"/>
<circle cx="385.53" cy="493.45" r="1.9" fill="none" stroke="#00ff00" stroke-width="0.8"/>
<circle cx="385.59" cy="493.96" r="1.9" fill="none" stroke="#00ff00" stroke-width="0.8"/>
<circle cx="385.62" cy="494.47" r="1.9" fill="none" stroke="#00ff00" stroke-width="0.8"/>
<circle cx="385.29" cy="494.98" r="1.9" fill="none" stroke="#00ff00" stroke-width="0.8"/>
<circle cx="385.53" cy="495.50" r="1.9" fill="none" stroke="#00ff00" stroke-width="0.8"/>
<circle cx="385.33" cy="496.01" r="1.9" fill="none" stroke="#00ff00" stroke-width="0.8"/>
<circle cx="385.55" cy="496.52" r="1.9" fill="none" stroke="#00ff00" stroke-width="0.8"/>
<circle cx="385.14" cy="497.04" r="1.9" fill="none" stroke="#00ff00" stroke-width="0.8"/>
<circle cx="385.62" cy="497.55" r="1.9" fill="none" stroke="#00ff00" stroke-width="0.8"/>
<circle cx="385.67" cy="498.06" r="1.9" fill="none" stroke="#00ff00" stroke-width="0.8"/>
<circle cx="385.40" cy="498.57" r="1.9" fill="none" stroke="#00ff00" stroke-width="0.8"/>
<circle cx="385.41" cy="499.09" r="1.9" fill="none" stroke="#00ff00" stroke-width="0.8"/>
<circle cx="385.42" cy="499.60" r="1.9" fill="none" stroke="#00ff00" stroke-width="0.8"/>
<circle cx="385.42" cy="500.11" r="1.9" fill="none" stroke="#00ff00" stroke-width="0.8"/>
<circle cx="385.11" cy="500.63" r="1.9" fill="none" stroke="#00ff00" stroke-width="0.8"/>
<circle cx="385.68" cy="501.14" r="1.9" fill="none" stroke="#00ff00" stroke-width="0.8"/>
<circle cx="385.23" cy="501.65" r="1.9" fill="none" stroke="#00ff00" stroke-width="0.8"/>
<circle cx="385.21" cy="502.16" r="1.9" fill="none" stroke="#00ff00" stroke-width="0.8"/>
<circle cx="385.16" cy="502.68" r="1.9" fill="none" stroke="#00ff00" stroke-width="0.8"/>
<circle cx="385.25" cy="503.19" r="1.9" fill="none" stroke="#00ff00" stroke-width="0.8"/>
<circle cx="385.59" cy="503.70" r="1.9" fill="none" stroke="#00ff00" stroke-width="0.8"/>
<circle cx="385.12" cy="504.22" r="1.9" fill="none" stroke="#00ff00" stroke-width="0.8"/>
<circle cx="385.16" cy="504.73" r="1.9" fill="none" stroke="#00ff00" stroke-width="0.8"/>
<circle cx="385.52" cy="505.24" r="1.9" fill="none" stroke="#00ff00" stroke-width="0.8"/>
<circle cx="385.22" cy="505.75" r="1.9" fill="none" stroke="#00ff00" stroke-width="0.8"/>
<circle cx="385.11" cy="506.27" r="1.9" fill="none" stroke="#00ff00" stroke-width="0.8"/>
<circle cx="385.46" cy="506.78" r="1.9" fill="none" stroke="#00ff00" stroke-width="0.8"/>
<circle cx="385.45" cy="507.29" r="1.9" fill="none" stroke="#00ff00" stroke-width="0.8"/>
<circle cx="385.41" cy="507.81" r="1.9" fill="none" stroke="#00ff00" stroke-width="0.8"/>
<circle cx="385.52" cy="508.32" r="1.9" fill="none" stroke="#00ff00" stroke-width="0.8"/>
<circle cx="385.16" cy="508.83" r="1.9" fill="none" stroke="#00ff00" stroke-width="0.8"/>
<circle cx="385.62" cy="509.35" r="1.9" fill="none" stroke="#00ff00" stroke-width="0.8"/>
<circle cx="385.53" cy="509.86" r="1.9" fill="none" stroke="#00ff00" stroke-width="0.8"/>
<circle cx="385.13" cy="510.37" r="1.9" fill="none" stroke="#00ff00" stroke-width="0.8"/>
<circle cx="385.17" cy="510.88" r="1.9" fill="none" stroke="#00ff00" stroke-width="0.8"/>
<circle cx="385.40" cy="511.40" r="1.9" fill="none" stroke="#00ff00" stroke-width="0.8"/>
<circle cx="385.40" cy="511.91" r="1.9" fill="none" stroke="#00ff00" stroke-width="0.8"/>
<circle cx="385.27" cy="512.42" r="1.9" fill="none" stroke="#00ff00" stroke-width="0.8"/>
<circle cx="385.17" cy="512.94" r="1.9" fill="none" stroke="#00ff00" stroke-width="0.8"/>
<circle cx="385.34" cy="513.45" r="1.9" fill="none" stroke="#00ff00" stroke-width="0.8"/>
<circle cx="385.18" cy="513.96" r="1.9" fill="none" stroke="#00ff00" stroke-width="0.8"/>
<circle cx="385.46" cy="514.47" r="1.9" fill="none" stroke="#00ff00" stroke-width="0.8"/>
<circle cx="385.62" cy="514.99" r="1.9" fill="none" stroke="#00ff00" stroke-width="0.8"/>
<circle cx="385.19" cy="515.50" r="1.9" fill="none" stroke="#00ff00" stroke-width="0.8"/>
<circle cx="409.84" cy="509.50" r="1.9" fill="none" stroke="#0000ff" stroke-width="0.8"/>
<circle cx="409.95" cy="510.01" r="1.9" fill="none" stroke="#0000ff" stroke-width="0.8"/>
<circle cx="409.60" cy="510.52" r="1.9" fill="none" stroke="#0000ff" stroke-width="0.8"/>
<circle cx="410.00" cy="511.03" r="1.9" fill="none" stroke="#0000ff" stroke-width="0.8"/>
<circle cx="410.06" cy="511.55" r="1.9" fill="none" stroke="#0000ff" stroke-width="0.8"/>
<circle cx="409.73" cy="512.06" r="1.9" fill="none" stroke="#0000ff" stroke-width="0.8"/>
<circle cx="409.75" cy="512.57" r="1.9" fill="none" stroke="#0000ff" stroke-width="0.8"/>
<circle cx="410.00" cy="513.08" r="1.9" fill="none" stroke="#0000ff" stroke-width="0.8"/>
<circle cx="409.82" cy="513.59" r="1.9" fill="none" stroke="#0000ff" stroke-width="0.8"/>
<circle cx="409.74" cy="514.10" r="1.9" fill="none" stroke="#0000ff" stroke-width="0.8"/>
<circle cx="410.06" cy="514.61" r="1.9" fill="none" stroke="#0000ff" stroke-width="0.8"/>
<circle cx="409.97" cy="515.12" r="1.9" fill="none" stroke="#0000ff" stroke-width="0.8"/>
<circle cx="409.70" cy="515.64" r="1.9" fill="none" stroke="#0000ff" stroke-width="0.8"/>
<circle cx="409.64" cy="516.15" r="1.9" fill="none" stroke="#0000ff" stroke-width="0.8"/>
<circle cx="409.70" cy="516.66" r="1.9" fill="none" stroke="#0000ff" stroke-width="0.8"/>
<circle cx="409.76" cy="517.17" r="1.9" fill="none" stroke="#0000ff" stroke-width="0.8"/>
<circle cx="410.09" cy="517.68" r="1.9" fill="none" stroke="#0000ff" stroke-width="0.8"/>
<circle cx="409.98" cy="518.19" r="1.9" fill="none" stroke="#0000ff" stroke-width="0.8"/>
<circle cx="410.05" cy="518.70" r="1.9" fill="none" stroke="#0000ff" stroke-width="0.8"/>
<circle cx="409.99" cy="519.21" r="1.9" fill="none" stroke="#0000ff" stroke-width="0.8"/>
<circle cx="410.01" cy="519.73" r="1.9" fill="none" stroke="#0000ff" stroke-width="0.8"/>
<circle cx="409.53" cy="520.24" r="1.9" fill="none" stroke="#0000ff" stroke-width="0.8"/>
<circle cx="409.81" cy="520.75" r="1.9" fill="none" stroke="#0000ff" stroke-width="0.8"/>
<circle cx="410.07" cy="521.26" r="1.9" fill="none" stroke="#0000ff" stroke-width="0.8"/>
<circle cx="410.06" cy="521.77" r="1.9" fill="none" stroke="#0000ff" stroke-width="0.8"/>
<circle cx="409.65" cy="522.28" r="1.9" fill="none" stroke="#0000ff" stroke-width="0.8"/>
<circle cx="409.75" cy="522.79" r="1.9" fill="none" stroke="#0000ff" stroke-width="0.8"/>
<circle cx="409.88" cy="523.30" r="1.9" fill="none" stroke="#0000ff" stroke-width="0.8"/>
<circle cx="409.72" cy="523.82" r="1.9" fill="none" stroke="#0000ff" stroke-width="0.8"/>
<circle cx="409.82" cy="524.33" r="1.9" fill="none" stroke="#0000ff" stroke-width="0.8"/>
<circle cx="409.54" cy="524.84" r="1.9" fill="none" stroke="#0000ff" stroke-width="0.8"/>
<circle cx="409.76" cy="525.35" r="1.9" fill="none" stroke="#0000ff" stroke-width="0.8"/>
<circle cx="409.80" cy="525.86" r="1.9" fill="none" stroke="#0000ff" stroke-width="0.8"/>
<circle cx="409.51" cy="526.37" r="1.9" fill="none" stroke="#0000ff" stroke-width="0.8"/>
<circle cx="409.58" cy="526.88" r="1.9" fill="none" stroke="#0000ff" stroke-width="0.8"/>
<circle cx="410.08" cy="527.39" r="1.9" fill="none" stroke="#0000ff" stroke-width="0.8"/>
<circle cx="409.97" cy="527.91" r="1.9" fill="none" stroke="#0000ff" stroke-width="0.8"/>
<circle cx="410.06" cy="528.42" r="1.9" fill="none" stroke="#0000ff" stroke-width="0.8"/>
<circle cx="409.88" cy="528.93" r="1.9" fill="none" stroke="#0000ff" stroke-width="0.8"/>
<circle cx="409.99" cy="529.44" r="1.9" fill="none" stroke="#0000ff" stroke-width="0.8"/>
<circle cx="410.03" cy="529.95" r="1.9" fill="none" stroke="#0000ff" stroke-width="0.8"/>
<circle cx="410.03" cy="530.46" r="1.9" fill="none" stroke="#0000ff" stroke-width="0.8"/>
<circle cx="409.52" cy="530.97" r="1.9" fill="none" stroke="#0000ff" stroke-width="0.8"/>
<circle cx="409.88" cy="531.48" r="1.9" fill="none" stroke="#0000ff" stroke-width="0.8"/>
<circle cx="409.66" cy="532.00" r="1.9" fill="none" stroke="#0000ff" stroke-width="0.8"/>
<circle cx="409.91" cy="532.51" r="1.9" fill="none" stroke="#0000ff" stroke-width="0.8"/>
<circle cx="409.66" cy="533.02" r="1.9" fill="none" stroke="#0000ff" stroke-width="0.8"/>
<circle cx="409.83" cy="533.53" r="1.9" fill="none" stroke="#0000ff" stroke-width="0.8"/>
<circle cx="410.05" cy="534.04" r="1.9" fill="none" stroke="#0000ff" stroke-width="0.8"/>
<circle cx="409.87" cy="534.55" r="1.9" fill="none" stroke="#0000ff" stroke-width="0.8"/>
<circle cx="409.65" cy="535.06" r="1.9" fill="none" stroke="#0000ff" stroke-width="0.8"/>
<circle cx="409.81" cy="535.57" r="1.9" fill="none" stroke="#0000ff" stroke-width="0.8"/>
<circle cx="409.76" cy="536.09" r="1.9" fill="none" stroke="#0000ff" stroke-width="0.8"/>
<circle cx="410.07" cy="536.60" r="1.9" fill="none" stroke="#0000ff" stroke-width="0.8"/>
<circle cx="409.67" cy="537.11" r="1.9" fill="none" stroke="#0000ff" stroke-width="0.8"/>
<circle cx="409.68" cy="537.62" r="1.9" fill="none" stroke="#0000ff" stroke-width="0.8"/>
<circle cx="409.89" cy="538.13" r="1.9" fill="none" stroke="#0000ff" stroke-width="0.8"/>
<circle cx="409.57" cy="538.64" r="1.9" fill="none" stroke="#0000ff" stroke-width="0.8"/>
<circle cx="409.86" cy="539.15" r="1.9" fill="none" stroke="#0000ff" stroke-width="0.8"/>
<circle cx="410.07" cy="539.66" r="1.9" fill="none" stroke="#0000ff" stroke-width="0.8"/>
<circle cx="409.81" cy="540.18" r="1.9" fill="none" stroke="#0000ff" stroke-width="0.8"/>
<circle cx="409.66" cy="540.69" r="1.9" fill="none" stroke="#0000ff" stroke-width="0.8"/>
<circle cx="409.78" cy="541.20" r="1.9" fill="none" stroke="#0000ff" stroke-width="0.8"/>
<circle cx="409.82" cy="541.71" r="1.9" fill="none" stroke="#0000ff" stroke-width="0.8"/>
<circle cx="409.59" cy="542.22" r="1.9" fill="none" stroke="#0000ff" stroke-width="0.8"/>
<circle cx="409.57" cy="542.73" r="1.9" fill="none" stroke="#0000ff" stroke-width="0.8"/>
<circle cx="409.58" cy="543.24" r="1.9" fill="none" stroke="#0000ff" stroke-width="0.8"/>
<circle cx="409.68" cy="543.75" r="1.9" fill="none" stroke="#0000ff" stroke-width="0.8"/>
<circle cx="409.74" cy="544.27" r="1.9" fill="none" stroke="#0000ff" stroke-width="0.8"/>
<circle cx="409.67" cy="544.78" r="1.9" fill="none" stroke="#0000ff" stroke-width="0.8"/>
<circle cx="409.65" cy="545.29" r="1.9" fill="none" stroke="#0000ff" stroke-width="0.8"/>
<circle cx="409.55" cy="545.80" r="1.9" fill="none" stroke="#0000ff" stroke-width="0.8"/>
<circle cx="412.53" cy="485.60" r="1.9" fill="none" stroke="#00ff00" stroke-width="0.8"/>
<circle cx="412.70" cy="486.12" r="1.9" fill="none" stroke="#00ff00" stroke-width="0.8"/>
<circle cx="412.57" cy="486.63" r="1.9" fill="none" stroke="#00ff00" stroke-width="0.8"/>
<circle cx="412.54" cy="487.15" r="1.9" fill="none" stroke="#00ff00" stroke-width="0.8"/>
<circle cx="412.59" cy="487.66" r="1.9" fill="none" stroke="#00ff00" stroke-width="0.8"/>
<circle cx="412.32" cy="488.18" r="1.9" fill="none" stroke="#00ff00" stroke-width="0.8"/>
<circle cx="412.63" cy="488.69" r="1.9" fill="none" stroke="#00ff00" stroke-width="0.8"/>
<circle cx="412.48" cy="489.21" r="1.9" fill="none" stroke="#00ff00" stroke-width="0.8"/>
<circle cx="412.53" cy="489.72" r="1.9" fill="none" stroke="#00ff00" stroke-width="0.8"/>
<circle cx="412.57" cy="490.24" r="1.9" fill="none" stroke="#00ff00" stroke-width="0.8"/>
<circle cx="412.48" cy="490.76" r="1.9" fill="none" stroke="#00ff00" stroke-width="0.8"/>
<circle cx="412.39" cy="491.27" r="1.9" fill="none" stroke="#00ff00" stroke-width="0.8"/>
<circle cx="412.35" cy="491.79" r="1.9" fill="none" stroke="#00ff00" stroke-width="0.8"/>
<circle cx="412.33" cy="492.30" r="1.9" fill="none" stroke="#00ff00" stroke-width="0.8"/>
<circle cx="412.51" cy="492.82" r="1.9" fill="none" stroke="#00ff00" stroke-width="0.8"/>
<circle cx="412.43" cy="493.33" r="1.9" fill="none" stroke="#00ff00" stroke-width="0.8"/>
<circle cx="412.55" cy="493.85" r="1.9" fill="none" stroke="#00ff00" stroke-width="0.8"/>
<circle cx="412.21" cy="494.36" r="1.9" fill="none" stroke="#00ff00" stroke-width="0.8"/>
<circle cx="412.41" cy="494.88" r="1.9" fill="none" stroke="#00ff00" stroke-width="0.8"/>
<circle cx="412.72" cy="495.39" r="1.9" fill="none" stroke="#00ff00" stroke-width="0.8"/>
<circle cx="412.34" cy="495.91" r="1.9" fill="none" stroke="#00ff00" stroke-width="0.8"/>
<circle cx="412.53" cy="496.43" r="1.9" fill="none" stroke="#00ff00" stroke-width="0.8"/>
<circle cx="412.49" cy="496.94" r="1.9" fill="none" stroke="#00ff00" stroke-width="0.8"/>
<circle cx="412.37" cy="497.46" r="1.9" fill="none" stroke="#00ff00" stroke-width="0.8"/>
<circle cx="412.79" cy="497.97" r="1.9" fill="none" stroke="#00ff00" stroke-width="0.8"/>
<circle cx="412.38" cy="498.49" r="1.9" fill="none" stroke="#00ff00" stroke-width="0.8"/>
<circle cx="412.66" cy="499.00" r="1.9" fill="none" stroke="#00ff00" stroke-width="0.8"/>
<circle cx="412.30" cy="499.52" r="1.9" fill="none" stroke="#00ff00" stroke-width="0.8"/>
<circle cx="412.24" cy="500.03" r="1.9" fill="none" stroke="#00ff00" stroke-width="0.8"/>
<circle cx="412.72" cy="500.55" r="1.9" fill="none" stroke="#00ff00" stroke-width="0.8"/>
<circle cx="412.46" cy="501.07" r="1.9" fill="none" stroke="#00ff00" stroke-width="0.8"/>
<circle cx="412.24" cy="501.58" r="1.9" fill="none" stroke="#00ff00" stroke-width="0.8"/>
<circle cx="412.43" cy="502.10" r="1.9" fill="none" stroke="#00ff00" stroke-width="0.8"/>
<circle cx="412.46" cy="502.61" r="1.9" fill="none" stroke="#00ff00" stroke-width="0.8"/>
<circle cx="412.64" cy="503.13" r="1.9" fill="none" stroke="#00ff00" stroke-width="0.8"/>
<circle cx="412.27" cy="503.64" r="1.9" fill="none" stroke="#00ff00" stroke-width="0.8"/>
<circle cx="412.34" cy="504.16" r="1.9" fill="none" stroke="#00ff00" stroke-width="0.8"/>
<circle cx="412.78" cy="504.67" r="1.9" fill="none" stroke="#00ff00" stroke-width="0.8"/>
<circle cx="412.64" cy="505.19" r="1.9" fill="none" stroke="#00ff00" stroke-width="0.8"/>
<circle cx="412.29" cy="505.71" r="1.9" fill="none" stroke="#00ff00" stroke-width="0.8"/>
<circle cx="412.40" cy="506.22" r="1.9" fill="none" stroke="#00ff00" stroke-width="0.8"/>
<circle cx="412.41" cy="506.74" r="1.9" fill="none" stroke="#00ff00" stroke-width="0.8"/>
<circle cx="412.61" cy="507.25" r="1.9" fill="none" stroke="#00ff00" stroke-width="0.8"/>
<circle cx="412.57" cy="507.77" r="1.9" fill="none" stroke="#00ff00" stroke-width="0.8"/>
<circle cx="412.71" cy="508.28" r="1.9" fill="none" stroke="#00ff00" stroke-width="0.8"/>
<circle cx="412.69" cy="508.80" r="1.9" fill="none" stroke="#00ff00" stroke-width="0.8"/>
<circle cx="412.51" cy="509.31" r="1.9" fill="none" stroke="#00ff00" stroke-width="0.8"/>
<circle cx="412.64" cy="509.83" r="1.9" fill="none" stroke="#00ff00" stroke-width="0.8"/>
<circle cx="412.65" cy="510.34" r="1.9" fill="none" stroke="#00ff00" stroke-width="0.8"/>
<circle cx="412.66" cy="510.86" r="1.9" fill="none" stroke="#00ff00" stroke-width="0.8"/>
<circle cx="412.49" cy="511.38" r="1.9" fill="none" stroke="#00ff00" stroke-width="0.8"/>
<circle cx="412.67" cy="511.89" r="1.9" fill="none" stroke="#00ff00" stroke-width="0.8"/>
<circle cx="412.63" cy="512.41" r="1.9" fill="none" stroke="#00ff00" stroke-width="0.8"/>
<circle cx="412.75" cy="512.92" r="1.9" fill="none" stroke="#00ff00" stroke-width="0.8"/>
<circle cx="412.28" cy="513.44" r="1.9" fill="none" stroke="#00ff00" stroke-width="0.8"/>
<circle cx="412.72" cy="513.95" r="1.9" fill="none" stroke="#00ff00" stroke-width="0.8"/>
<circle cx="412.20" cy="514.47" r="1.9" fill="none" stroke="#00ff00" stroke-width="0.8"/>
<circle cx="412.66" cy="514.98" r="1.9" fill="none" stroke="#00ff00" stroke-width="0.8"/>
<circle cx="412.55" cy="515.50" r="1.9" fill="none" stroke="#00ff00" stroke-width="0.8"/>
<circle cx="436.90" cy="554.20" r="1.9" fill="none" stroke="#0000ff" stroke-width="0.8"/>
<circle cx="437.18" cy="554.76" r="1.9" fill="none" stroke="#0000ff" stroke-width="0.8"/>
<circle cx="436.94" cy="555.32" r="1.9" fill="none" stroke="#0000ff" stroke-width="0.8"/>
<circle cx="436.85" cy="555.88" r="1.9" fill="none" stroke="#0000ff" stroke-width="0.8"/>
<circle cx="437.07" cy="556.44" r="1.9" fill="none" stroke="#0000ff" stroke-width="0.8"/>
<circle cx="437.12" cy="557.00" r="1.9" fill="none" stroke="#0000ff" stroke-width="0.8"/>
<circle cx="436.96" cy="557.56" r="1.9" fill="none" stroke="#0000ff" stroke-width="0.8"/>
<circle cx="436.83" cy="558.12" r="1.9" fill="none" stroke="#0000ff" stroke-width="0.8"/>
<circle cx="436.87" cy="558.68" r="1.9" fill="none" stroke="#0000ff" stroke-width="0.8"/>
<circle cx="436.87" cy="559.24" r="1.9" fill="none" stroke="#0000ff" stroke-width="0.8"/>
<circle cx="437.03" cy="559.80" r="1.9" fill="none" stroke="#0000ff" stroke-width="0.8"/>
<circle cx="439.48" cy="540.50" r="1.9" fill="none" stroke="#00ff00" stroke-width="0.8"/>
<circle cx="439.53" cy="541.03" r="1.9" fill="none" stroke="#00ff00" stroke-width="0.8"/>
<circle cx="439.63" cy="541.57" r="1.9" fill="none" stroke="#00ff00" stroke-width="0.8"/>
<circle cx="439.53" cy="542.11" r="1.9" fill="none" stroke="#00ff00" stroke-width="0.8"/>
<circle cx="439.49" cy="542.64" r="1.9" fill="none" stroke="#00ff00" stroke-width="0.8"/>
<circle cx="439.77" cy="543.17" r="1.9" fill="none" stroke="#00ff00" stroke-width="0.8"/>
<circle cx="439.81" cy="543.71" r="1.9" fill="none" stroke="#00ff00" stroke-width="0.8"/>
<circle cx="439.60" cy="544.25" r="1.9" fill="none" stroke="#00ff00" stroke-width="0.8"/>
<circle cx="439.57" cy="544.78" r="1.9" fill="none" stroke="#00ff00" stroke-width="0.8"/>
<circle cx="439.41" cy="545.32" r="1.9" fill="none" stroke="#00ff00" stroke-width="0.8"/>
<circle cx="439.48" cy="545.85" r="1.9" fill="none" stroke="#00ff00" stroke-width="0.8"/>
<circle cx="439.39" cy="546.38" r="1.9" fill="none" stroke="#00ff00" stroke-width="0.8"/>
<circle cx="439.65" cy="546.92" r="1.9" fill="none" stroke="#00ff00" stroke-width="0.8"/>
<circle cx="439.65" cy="547.46" r="1.9" fill="none" stroke="#00ff00" stroke-width="0.8"/>
<circle cx="439.35" cy="547.99" r="1.9" fill="none" stroke="#00ff00" stroke-width="0.8"/>
<circle cx="439.85" cy="548.53" r="1.9" fill="none" stroke="#00ff00" stroke-width="0.8"/>
<circle cx="439.49" cy="549.06" r="1.9" fill="none" stroke="#00ff00" stroke-width="0.8"/>
<circle cx="439.81" cy="549.60" r="1.9" fill="none" stroke="#00ff00" stroke-width="0.8"/>
<circle cx="439.80" cy="550.13" r="1.9" fill="none" stroke="#00ff00" stroke-width="0.8"/>
<circle cx="439.88" cy="550.67" r="1.9" fill="none" stroke="#00ff00" stroke-width="0.8"/>
<circle cx="439.42" cy="551.20" r="1.9" fill="none" stroke="#00ff00" stroke-width="0.8"/>
<circle cx="463.96" cy="535.20" r="1.9" fill="none" stroke="#0000ff" stroke-width="0.8"/>
<circle cx="464.25" cy="535.72" r="1.9" fill="none" stroke="#0000ff" stroke-width="0.8"/>
<circle cx="463.71" cy="536.24" r="1.9" fill="none" stroke="#0000ff" stroke-width="0.8"/>
<circle cx="463.73" cy="536.77" r="1.9" fill="none" stroke="#0000ff" stroke-width="0.8"/>
<circle cx="464.04" cy="537.29" r="1.9" fill="none" stroke="#0000ff" stroke-width="0.8"/>
<circle cx="464.00" cy="537.81" r="1.9" fill="none" stroke="#0000ff" stroke-width="0.8"/>
<circle cx="464.25" cy="538.33" r="1.9" fill="none" stroke="#0000ff" stroke-width="0.8"/>
<circle cx="464.16" cy="538.85" r="1.9" fill="none" stroke="#0000ff" stroke-width="0.8"/>
<circle cx="464.02" cy="539.38" r="1.9" fill="none" stroke="#0000ff" stroke-width="0.8"/>
<circle cx="464.30" cy="539.90" r="1.9" fill="none" stroke="#0000ff" stroke-width="0.8"/>
<circle cx="464.01" cy="540.42" r="1.9" fill="none" stroke="#0000ff" stroke-width="0.8"/>
<circle cx="464.01" cy="540.94" r="1.9" fill="none" stroke="#0000ff" stroke-width="0.8"/>
<circle cx="464.11" cy="541.46" r="1.9" fill="none" stroke="#0000ff" stroke-width="0.8"/>
<circle cx="463.93" cy="541.98" r="1.9" fill="none" stroke="#0000ff" stroke-width="0.8"/>
<circle cx="463.91" cy="542.51" r="1.9" fill="none" stroke="#0000ff" stroke-width="0.8"/>
<circle cx="464.06" cy="543.03" r="1.9" fill="none" stroke="#0000ff" stroke-width="0.8"/>
<circle cx="463.91" cy="543.55" r="1.9" fill="none" stroke="#0000ff" stroke-width="0.8"/>
<circle cx="464.27" cy="544.07" r="1.9" fill="none" stroke="#0000ff" stroke-width="0.8"/>
<circle cx="464.11" cy="544.59" r="1.9" fill="none" stroke="#0000ff" stroke-width="0.8"/>
<circle cx="464.02" cy="545.12" r="1.9" fill="none" stroke="#0000ff" stroke-width="0.8"/>
<circle cx="463.76" cy="545.64" r="1.9" fill="none" stroke="#0000ff" stroke-width="0.8"/>
<circle cx="463.92" cy="546.16" r="1.9" fill="none" stroke="#0000ff" stroke-width="0.8"/>
<circle cx="463.94" cy="546.68" r="1.9" fill="none" stroke="#0000ff" stroke-width="0.8"/>
<circle cx="464.04" cy="547.20" r="1.9" fill="none" stroke="#0000ff" stroke-width="0.8"/>
<circle cx="464.04" cy="547.73" r="1.9" fill="none" stroke="#0000ff" stroke-width="0.8"/>
<circle cx="464.23" cy="548.25" r="1.9" fill="none" stroke="#0000ff" stroke-width="0.8"/>
<circle cx="464.28" cy="548.77" r="1.9" fill="none" stroke="#0000ff" stroke-width="0.8"/>
<circle cx="463.99" cy="549.29" r="1.9" fill="none" stroke="#0000ff" stroke-width="0.8"/>
<circle cx="463.96" cy="549.81" r="1.9" fill="none" stroke="#0000ff" stroke-width="0.8"/>
<circle cx="464.07" cy="550.33" r="1.9" fill="none" stroke="#0000ff" stroke-width="0.8"/>
<circle cx="464.30" cy="550.86" r="1.9" fill="none" stroke="#0000ff" stroke-width="0.8"/>
<circle cx="463.91" cy="551.38" r="1.9" fill="none" stroke="#0000ff" stroke-width="0.8"/>
<circle cx="464.02" cy="551.90" r="1.9" fill="none" stroke="#0000ff" stroke-width="0.8"/>
<circle cx="466.89" cy="538.20" r="1.9" fill="none" stroke="#00ff00" stroke-width="0.8"/>
<circle cx="466.50" cy="538.74" r="1.9" fill="none" stroke="#00ff00" stroke-width="0.8"/>
<circle cx="466.59" cy="539.28" r="1.9" fill="none" stroke="#00ff00" stroke-width="0.8"/>
<circle cx="466.99" cy="539.82" r="1.9" fill="none" stroke="#00ff00" stroke-width="0.8"/>
<circle cx="466.90" cy="540.36" r="1.9" fill="none" stroke="#00ff00" stroke-width="0.8"/>
<circle cx="466.71" cy="540.91" r="1.9" fill="none" stroke="#00ff00" stroke-width="0.8"/>
<circle cx="466.47" cy="541.45" r="1.9" fill="none" stroke="#00ff00" stroke-width="0.8"/>
<circle cx="466.94" cy="541.99" r="1.9" fill="none" stroke="#00ff00" stroke-width="0.8"/>
<circle cx="466.81" cy="542.53" r="1.9" fill="none" stroke="#00ff00" stroke-width="0.8"/>
<circle cx="466.89" cy="543.07" r="1.9" fill="none" stroke="#00ff00" stroke-width="0.8"/>
<circle cx="466.99" cy="543.61" r="1.9" fill="none" stroke="#00ff00" stroke-width="0.8"/>
<circle cx="466.93" cy="544.15" r="1.9" fill="none" stroke="#00ff00" stroke-width="0.8"/>
<circle cx="466.65" cy="544.69" r="1.9" fill="none" stroke="#00ff00" stroke-width="0.8"/>
<circle cx="466.49" cy="545.24" r="1.9" fill="none" stroke="#00ff00" stroke-width="0.8"/>
<circle cx="466.57" cy="545.78" r="1.9" fill="none" stroke="#00ff00" stroke-width="0.8"/>
<circle cx="466.71" cy="546.32" r="1.9" fill="none" stroke="#00ff00" stroke-width="0.8"/>
<circle cx="466.70" cy="546.86" r="1.9" fill="none" stroke="#00ff00" stroke-width="0.8"/>
<circle cx="466.51" cy="547.40" r="1.9" fill="none" stroke="#00ff00" stroke-width="0.8"/>
<circle cx="490.91" cy="550.40" r="1.9" fill="none" stroke="#0000ff" stroke-width="0.8"/>
<circle cx="491.18" cy="550.93" r="1.9" fill="none" stroke="#0000ff" stroke-width="0.8"/>
<circle cx="491.16" cy="551.47" r="1.9" fill="none" stroke="#0000ff" stroke-width="0.8"/>
<circle cx="491.01" cy="552.00" r="1.9" fill="none" stroke="#0000ff" stroke-width="0.8"/>
<circle cx="491.40" cy="552.53" r="1.9" fill="none" stroke="#0000ff" stroke-width="0.8"/>
<circle cx="491.18" cy="553.07" r="1.9" fill="none" stroke="#0000ff" stroke-width="0.8"/>
<circle cx="490.83" cy="553.60" r="1.9" fill="none" stroke="#0000ff" stroke-width="0.8"/>
<circle cx="491.05" cy="554.13" r="1.9" fill="none" stroke="#0000ff" stroke-width="0.8"/>
<circle cx="491.27" cy="554.67" r="1.9" fill="none" stroke="#0000ff" stroke-width="0.8"/>
<circle cx="490.98" cy="555.20" r="1.9" fill="none" stroke="#0000ff" stroke-width="0.8"/>
<circle cx="491.21" cy="555.73" r="1.9" fill="none" stroke="#0000ff" stroke-width="0.8"/>
<circle cx="490.80" cy="556.27" r="1.9" fill="none" stroke="#0000ff" stroke-width="0.8"/>
<circle cx="490.98" cy="556.80" r="1.9" fill="none" stroke="#0000ff" stroke-width="0.8"/>
<circle cx="491.31" cy="557.33" r="1.9" fill="none" stroke="#0000ff" stroke-width="0.8"/>
<circle cx="491.15" cy="557.87" r="1.9" fill="none" stroke="#0000ff" stroke-width="0.8"/>
<circle cx="491.20" cy="558.40" r="1.9" fill="none" stroke="#0000ff" stroke-width="0.8"/>
<circle cx="490.92" cy="558.93" r="1.9" fill="none" stroke="#0000ff" stroke-width="0.8"/>
<circle cx="491.10" cy="559.47" r="1.9" fill="none" stroke="#0000ff" stroke-width="0.8"/>
<circle cx="491.13" cy="560.00" r="1.9" fill="none" stroke="#0000ff" stroke-width="0.8"/>
<circle cx="490.96" cy="560.53" r="1.9" fill="none" stroke="#0000ff" stroke-width="0.8"/>
<circle cx="491.19" cy="561.07" r="1.9" fill="none" stroke="#0000ff" stroke-width="0.8"/>
<circle cx="491.12" cy="561.60" r="1.9" fill="none" stroke="#0000ff" stroke-width="0.8"/>
<circle cx="491.40" cy="562.13" r="1.9" fill="none" stroke="#0000ff" stroke-width="0.8"/>
<circle cx="491.14" cy="562.67" r="1.9" fill="none" stroke="#0000ff" stroke-width="0.8"/>
<circle cx="491.05" cy="563.20" r="1.9" fill="none" stroke="#0000ff" stroke-width="0.8"/>
<circle cx="490.87" cy="563.73" r="1.9" fill="none" stroke="#0000ff" stroke-width="0.8"/>
<circle cx="490.89" cy="564.27" r="1.9" fill="none" stroke="#0000ff" stroke-width="0.8"/>
<circle cx="491.26" cy="564.80" r="1.9" fill="none" stroke="#0000ff" stroke-width="0.8"/>
<circle cx="493.56" cy="541.30" r="1.9" fill="none" stroke="#00ff00" stroke-width="0.8"/>
<circle cx="493.56" cy="541.85" r="1.9" fill="none" stroke="#00ff00" stroke-width="0.8"/>
<circle cx="493.60" cy="542.40" r="1.9" fill="none" stroke="#00ff00" stroke-width="0.8"/>
<circle cx="493.81" cy="542.95" r="1.9" fill="none" stroke="#00ff00" stroke-width="0.8"/>
<circle cx="493.99" cy="543.50" r="1.9" fill="none" stroke="#00ff00" stroke-width="0.8"/>
<circle cx="493.87" cy="544.05" r="1.9" fill="none" stroke="#00ff00" stroke-width="0.8"/>
<circle cx="493.98" cy="544.60" r="1.9" fill="none" stroke="#00ff00" stroke-width="0.8"/>
<circle cx="493.54" cy="545.15" r="1.9" fill="none" stroke="#00ff00" stroke-width="0.8"/>
<circle cx="493.51" cy="545.70" r="1.9" fill="none" stroke="#00ff00" stroke-width="0.8"/>
<circle cx="493.96" cy="546.25" r="1.9" fill="none" stroke="#00ff00" stroke-width="0.8"/>
<circle cx="493.69" cy="546.80" r="1.9" fill="none" stroke="#00ff00" stroke-width="0.8"/>
<circle cx="493.93" cy="547.35" r="1.9" fill="none" stroke="#00ff00" stroke-width="0.8"/>
<circle cx="493.71" cy="547.90" r="1.9" fill="none" stroke="#00ff00" stroke-width="0.8"/>
<circle cx="493.60" cy="548.45" r="1.9" fill="none" stroke="#00ff00" stroke-width="0.8"/>
<circle cx="493.66" cy="549.00" r="1.9" fill="none" stroke="#00ff00" stroke-width="0.8"/>
<circle cx="493.56" cy="549.55" r="1.9" fill="none" stroke="#00ff00" stroke-width="0.8"/>
<circle cx="494.04" cy="550.10" r="1.9" fill="none" stroke="#00ff00" stroke-width="0.8"/>
<circle cx="493.85" cy="550.65" r="1.9" fill="none" stroke="#00ff00" stroke-width="0.8"/>
<circle cx="493.71" cy="551.20" r="1.9" fill="none" stroke="#00ff00" stroke-width="0.8"/>
<circle cx="518.17" cy="538.50" r="1.9" fill="none" stroke="#0000ff" stroke-width="0.8"/>
<circle cx="518.13" cy="539.05" r="1.9" fill="none" stroke="#0000ff" stroke-width="0.8"/>
<circle cx="517.93" cy="539.59" r="1.9" fill="none" stroke="#0000ff" stroke-width="0.8"/>
<circle cx="518.43" cy="540.14" r="1.9" fill="none" stroke="#0000ff" stroke-width="0.8"/>
<circle cx="518.25" cy="540.69" r="1.9" fill="none" stroke="#0000ff" stroke-width="0.8"/>
<circle cx="518.48" cy="541.24" r="1.9" fill="none" stroke="#0000ff" stroke-width="0.8"/>
<circle cx="518.16" cy="541.78" r="1.9" fill="none" stroke="#0000ff" stroke-width="0.8"/>
<circle cx="518.27" cy="542.33" r="1.9" fill="none" stroke="#0000ff" stroke-width="0.8"/>
<circle cx="518.05" cy="542.88" r="1.9" fill="none" stroke="#0000ff" stroke-width="0.8"/>
<circle cx="517.93" cy="543.43" r="1.9" fill="none" stroke="#0000ff" stroke-width="0.8"/>
<circle cx="518.46" cy="543.97" r="1.9" fill="none" stroke="#0000ff" stroke-width="0.8"/>
<circle cx="518.41" cy="544.52" r="1.9" fill="none" stroke="#0000ff" stroke-width="0.8"/>
<circle cx="518.09" cy="545.07" r="1.9" fill="none" stroke="#0000ff" stroke-width="0.8"/>
<circle cx="518.44" cy="545.62" r="1.9" fill="none" stroke="#0000ff" stroke-width="0.8"/>
<circle cx="518.39" cy="546.16" r="1.9" fill="none" stroke="#0000ff" stroke-width="0.8"/>
<circle cx="518.08" cy="546.71" r="1.9" fill="none" stroke="#0000ff" stroke-width="0.8"/>
<circle cx="518.26" cy="547.26" r="1.9" fill="none" stroke="#0000ff" stroke-width="0.8"/>
<circle cx="518.48" cy="547.81" r="1.9" fill="none" stroke="#0000ff" stroke-width="0.8"/>
<circle cx="518.20" cy="548.35" r="1.9" fill="none" stroke="#0000ff" stroke-width="0.8"/>
<circle cx="518.47" cy="548.90" r="1.9" fill="none" stroke="#0000ff" stroke-width="0.8"/>
<circle cx="520.75" cy="537.50" r="1.9" fill="none" stroke="#00ff00" stroke-width="0.8"/>
<circle cx="520.83" cy="538.03" r="1.9" fill="none" stroke="#00ff00" stroke-width="0.8"/>
<circle cx="521.03" cy="538.56" r="1.9" fill="none" stroke="#00ff00" stroke-width="0.8"/>
<circle cx="520.73" cy="539.08" r="1.9" fill="none" stroke="#00ff00" stroke-width="0.8"/>
<circle cx="520.79" cy="539.61" r="1.9" fill="none" stroke="#00ff00" stroke-width="0.8"/>
<circle cx="521.13" cy="540.14" r="1.9" fill="none" stroke="#00ff00" stroke-width="0.8"/>
<circle cx="520.89" cy="540.67" r="1.9" fill="none" stroke="#00ff00" stroke-width="0.8"/>
<circle cx="521.08" cy="541.19" r="1.9" fill="none" stroke="#00ff00" stroke-width="0.8"/>
<circle cx="520.75" cy="541.72" r="1.9" fill="none" stroke="#00ff00" stroke-width="0.8"/>
<circle cx="520.70" cy="542.25" r="1.9" fill="none" stroke="#00ff00" stroke-width="0.8"/>
<circle cx="520.82" cy="542.78" r="1.9" fill="none" stroke="#00ff00" stroke-width="0.8"/>
<circle cx="520.71" cy="543.31" r="1.9" fill="none" stroke="#00ff00" stroke-width="0.8"/>
<circle cx="521.18" cy="543.83" r="1.9" fill="none" stroke="#00ff00" stroke-width="0.8"/>
<circle cx="520.77" cy="544.36" r="1.9" fill="none" stroke="#00ff00" stroke-width="0.8"/>
<circle cx="520.94" cy="544.89" r="1.9" fill="none" stroke="#00ff00" stroke-width="0.8"/>
<circle cx="520.67" cy="545.42" r="1.9" fill="none" stroke="#00ff00" stroke-width="0.8"/>
<circle cx="520.92" cy="545.94" r="1.9" fill="none" stroke="#00ff00" stroke-width="0.8"/>
<circle cx="520.83" cy="546.47" r="1.9" fill="none" stroke="#00ff00" stroke-width="0.8"/>
<circle cx="520.84" cy="547.00" r="1.9" fill="none" stroke="#00ff00" stroke-width="0.8"/>
<circle cx="545.04" cy="505.20" r="1.9" fill="none" stroke="#0000ff" stroke-width="0.8"/>
<circle cx="545.07" cy="505.71" r="1.9" fill="none" stroke="#0000ff" stroke-width="0.8"/>
<circle cx="545.50" cy="506.22" r="1.9" fill="none" stroke="#0000ff" stroke-width="0.8"/>
<circle cx="545.21" cy="506.73" r="1.9" fill="none" stroke="#0000ff" stroke-width="0.8"/>
<circle cx="545.15" cy="507.24" r="1.9" fill="none" stroke="#0000ff" stroke-width="0.8"/>
<circle cx="545.11" cy="507.75" r="1.9" fill="none" stroke="#0000ff" stroke-width="0.8"/>
<circle cx="545.17" cy="508.27" r="1.9" fill="none" stroke="#0000ff" stroke-width="0.8"/>
<circle cx="545.14" cy="508.78" r="1.9" fill="none" stroke="#0000ff" stroke-width="0.8"/>
<circle cx="545.02" cy="509.29" r="1.9" fill="none" stroke="#0000ff" stroke-width="0.8"/>
<circle cx="545.40" cy="509.80" r="1.9" fill="none" stroke="#0000ff" stroke-width="0.8"/>
<circle cx="545.20" cy="510.31" r="1.9" fill="none" stroke="#0000ff" stroke-width="0.8"/>
<circle cx="545.09" cy="510.82" r="1.9" fill="none" stroke="#0000ff" stroke-width="0.8"/>
<circle cx="545.42" cy="511.33" r="1.9" fill="none" stroke="#0000ff" stroke-width="0.8"/>
<circle cx="545.06" cy="511.84" r="1.9" fill="none" stroke="#0000ff" stroke-width="0.8"/>
<circle cx="545.16" cy="512.35" r="1.9" fill="none" stroke="#0000ff" stroke-width="0.8"/>
<circle cx="545.50" cy="512.86" r="1.9" fill="none" stroke="#0000ff" stroke-width="0.8"/>
<circle cx="545.08" cy="513.38" r="1.9" fill="none" stroke="#0000ff" stroke-width="0.8"/>
<circle cx="545.27" cy="513.89" r="1.9" fill="none" stroke="#0000ff" stroke-width="0.8"/>
<circle cx="545.50" cy="514.40" r="1.9" fill="none" stroke="#0000ff" stroke-width="0.8"/>
<circle cx="545.48" cy="514.91" r="1.9" fill="none" stroke="#0000ff" stroke-width="0.8"/>
<circle cx="545.10" cy="515.42" r="1.9" fill="none" stroke="#0000ff" stroke-width="0.8"/>
<circle cx="545.21" cy="515.93" r="1.9" fill="none" stroke="#0000ff" stroke-width="0.8"/>
<circle cx="545.43" cy="516.44" r="1.9" fill="none" stroke="#0000ff" stroke-width="0.8"/>
<circle cx="545.23" cy="516.95" r="1.9" fill="none" stroke="#0000ff" stroke-width="0.8"/>
<circle cx="545.58" cy="517.46" r="1.9" fill="none" stroke="#0000ff" stroke-width="0.8"/>
<circle cx="545.12" cy="517.97" r="1.9" fill="none" stroke="#0000ff" stroke-width="0.8"/>
<circle cx="545.57" cy="518.48" r="1.9" fill="none" stroke="#0000ff" stroke-width="0.8"/>
<circle cx="545.30" cy="519.00" r="1.9" fill="none" stroke="#0000ff" stroke-width="0.8"/>
<circle cx="545.14" cy="519.51" r="1.9" fill="none" stroke="#0000ff" stroke-width="0.8"/>
<circle cx="545.27" cy="520.02" r="1.9" fill="none" stroke="#0000ff" stroke-width="0.8"/>
<circle cx="545.08" cy="520.53" r="1.9" fill="none" stroke="#0000ff" stroke-width="0.8"/>
<circle cx="545.42" cy="521.04" r="1.9" fill="none" stroke="#0000ff" stroke-width="0.8"/>
<circle cx="545.16" cy="521.55" r="1.9" fill="none" stroke="#0000ff" stroke-width="0.8"/>
<circle cx="545.54" cy="522.06" r="1.9" fill="none" stroke="#0000ff" stroke-width="0.8"/>
<circle cx="545.35" cy="522.57" r="1.9" fill="none" stroke="#0000ff" stroke-width="0.8"/>
<circle cx="545.22" cy="523.08" r="1.9" fill="none" stroke="#0000ff" stroke-width="0.8"/>
<circle cx="545.15" cy="523.59" r="1.9" fill="none" stroke="#0000ff" stroke-width="0.8"/>
<circle cx="545.36" cy="524.10" r="1.9" fill="none" stroke="#0000ff" stroke-width="0.8"/>
<circle cx="545.13" cy="524.62" r="1.9" fill="none" stroke="#0000ff" stroke-width="0.8"/>
<circle cx="545.52" cy="525.13" r="1.9" fill="none" stroke="#0000ff" stroke-width="0.8"/>
<circle cx="545.07" cy="525.64" r="1.9" fill="none" stroke="#0000ff" stroke-width="0.8"/>
<circle cx="545.31" cy="526.15" r="1.9" fill="none" stroke="#0000ff" stroke-width="0.8"/>
<circle cx="545.33" cy="526.66" r="1.9" fill="none" stroke="#0000ff" stroke-width="0.8"/>
<circle cx="545.16" cy="527.17" r="1.9" fill="none" stroke="#0000ff" stroke-width="0.8"/>
<circle cx="545.46" cy="527.68" r="1.9" fill="none" stroke="#0000ff" stroke-width="0.8"/>
<circle cx="545.23" cy="528.19" r="1.9" fill="none" stroke="#0000ff" stroke-width="0.8"/>
<circle cx="545.39" cy="528.70" r="1.9" fill="none" stroke="#0000ff" stroke-width="0.8"/>
<circle cx="545.34" cy="529.21" r="1.9" fill="none" stroke="#0000ff" stroke-width="0.8"/>
<circle cx="545.19" cy="529.73" r="1.9" fill="none" stroke="#0000ff" stroke-width="0.8"/>
<circle cx="545.23" cy="530.24" r="1.9" fill="none" stroke="#0000ff" stroke-width="0.8"/>
<circle cx="545.05" cy="530.75" r="1.9" fill="none" stroke="#0000ff" stroke-width="0.8"/>
<circle cx="545.11" cy="531.26" r="1.9" fill="none" stroke="#0000ff" stroke-width="0.8"/>
<circle cx="545.51" cy="531.77" r="1.9" fill="none" stroke="#0000ff" stroke-width="0.8"/>
<circle cx="545.19" cy="532.28" r="1.9" fill="none" stroke="#0000ff" stroke-width="0.8"/>
<circle cx="545.40" cy="532.79" r="1.9" fill="none" stroke="#0000ff" stroke-width="0.8"/>
<circle cx="545.07" cy="533.30" r="1.9" fill="none" stroke="#0000ff" stroke-width="0.8"/>
<circle cx="545.34" cy="533.81" r="1.9" fill="none" stroke="#0000ff" stroke-width="0.8"/>
<circle cx="545.22" cy="534.32" r="1.9" fill="none" stroke="#0000ff" stroke-width="0.8"/>
<circle cx="545.30" cy="534.83" r="1.9" fill="none" stroke="#0000ff" stroke-width="0.8"/>
<circle cx="545.18" cy="535.35" r="1.9" fill="none" stroke="#0000ff" stroke-width="0.8"/>
<circle cx="545.04" cy="535.86" r="1.9" fill="none" stroke="#0000ff" stroke-width="0.8"/>
<circle cx="545.19" cy="536.37" r="1.9" fill="none" stroke="#0000ff" stroke-width="0.8"/>
<circle cx="545.14" cy="536.88" r="1.9" fill="none" stroke="#0000ff" stroke-width="0.8"/>
<circle cx="545.08" cy="537.39" r="1.9" fill="none" stroke="#0000ff" stroke-width="0.8"/>
<circle cx="545.43" cy="537.90" r="1.9" fill="none" stroke="#0000ff" stroke-width="0.8"/>
<circle cx="547.87" cy="484.00" r="1.9" fill="none" stroke="#00ff00" stroke-width="0.8"/>
<circle cx="547.94" cy="484.51" r="1.9" fill="none" stroke="#00ff00" stroke-width="0.8"/>
<circle cx="548.25" cy="485.02" r="1.9" fill="none" stroke="#00ff00" stroke-width="0.8"/>
<circle cx="548.16" cy="485.53" r="1.9" fill="none" stroke="#00ff00" stroke-width="0.8"/>
<circle cx="548.23" cy="486.04" r="1.9" fill="none" stroke="#00ff00" stroke-width="0.8"/>
<circle cx="548.22" cy="486.54" r="1.9" fill="none" stroke="#00ff00" stroke-width="0.8"/>
<circle cx="547.78" cy="487.05" r="1.9" fill="none" stroke="#00ff00" stroke-width="0.8"/>
<circle cx="547.87" cy="487.56" r="1.9" fill="none" stroke="#00ff00" stroke-width="0.8"/>
<circle cx="547.72" cy="488.07" r="1.9" fill="none" stroke="#00ff00" stroke-width="0.8"/>
<circle cx="548.11" cy="488.58" r="1.9" fill="none" stroke="#00ff00" stroke-width="0.8"/>
<circle cx="548.10" cy="489.09" r="1.9" fill="none" stroke="#00ff00" stroke-width="0.8"/>
<circle cx="547.91" cy="489.60" r="1.9" fill="none" stroke="#00ff00" stroke-width="0.8"/>
<circle cx="547.95" cy="490.11" r="1.9" fill="none" stroke="#00ff00" stroke-width="0.8"/>
<circle cx="548.10" cy="490.61" r="1.9" fill="none" stroke="#00ff00" stroke-width="0.8"/>
<circle cx="548.12" cy="491.12" r="1.9" fill="none" stroke="#00ff00" stroke-width="0.8"/>
<circle cx="547.85" cy="491.63" r="1.9" fill="none" stroke="#00ff00" stroke-width="0.8"/>
<circle cx="548.21" cy="492.14" r="1.9" fill="none" stroke="#00ff00" stroke-width="0.8"/>
<circle cx="547.91" cy="492.65" r="1.9" fill="none" stroke="#00ff00" stroke-width="0.8"/>
<circle cx="548.08" cy="493.16" r="1.9" fill="none" stroke="#00ff00" stroke-width="0.8"/>
<circle cx="547.81" cy="493.67" r="1.9" fill="none" stroke="#00ff00" stroke-width="0.8"/>
<circle cx="547.77" cy="494.18" r="1.9" fill="none" stroke="#00ff00" stroke-width="0.8"/>
<circle cx="548.25" cy="494.68" r="1.9" fill="none" stroke="#00ff00" stroke-width="0.8"/>
<circle cx="548.14" cy="495.19" r="1.9" fill="none" stroke="#00ff00" stroke-width="0.8"/>
<circle cx="548.13" cy="495.70" r="1.9" fill="none" stroke="#00ff00" stroke-width="0.8"/>
<circle cx="547.72" cy="496.21" r="1.9" fill="none" stroke="#00ff00" stroke-width="0.8"/>
<circle cx="547.72" cy="496.72" r="1.9" fill="none" stroke="#00ff00" stroke-width="0.8"/>
<circle cx="547.80" cy="497.23" r="1.9" fill="none" stroke="#00ff00" stroke-width="0.8"/>
<circle cx="547.82" cy="497.74" r="1.9" fill="none" stroke="#00ff00" stroke-width="0.8"/>
<circle cx="547.88" cy="498.25" r="1.9" fill="none" stroke="#00ff00" stroke-width="0.8"/>
<circle cx="547.93" cy="498.75" r="1.9" fill="none" stroke="#00ff00" stroke-width="0.8"/>
<circle cx="547.72" cy="499.26" r="1.9" fill="none" stroke="#00ff00" stroke-width="0.8"/>
<circle cx="547.89" cy="499.77" r="1.9" fill="none" stroke="#00ff00" stroke-width="0.8"/>
<circle cx="548.08" cy="500.28" r="1.9" fill="none" stroke="#00ff00" stroke-width="0.8"/>
<circle cx="547.81" cy="500.79" r="1.9" fill="none" stroke="#00ff00" stroke-width="0.8"/>
<circle cx="548.20" cy="501.30" r="1.9" fill="none" stroke="#00ff00" stroke-width="0.8"/>
<circle cx="548.04" cy="501.81" r="1.9" fill="none" stroke="#00ff00" stroke-width="0.8"/>
<circle cx="548.13" cy="502.32" r="1.9" fill="none" stroke="#00ff00" stroke-width="0.8"/>
<circle cx="547.85" cy="502.82" r="1.9" fill="none" stroke="#00ff00" stroke-width="0.8"/>
<circle cx="547.96" cy="503.33" r="1.9" fill="none" stroke="#00ff00" stroke-width="0.8"/>
<circle cx="548.11" cy="503.84" r="1.9" fill="none" stroke="#00ff00" stroke-width="0.8"/>
<circle cx="547.91" cy="504.35" r="1.9" fill="none" stroke="#00ff00" stroke-width="0.8"/>
<circle cx="547.70" cy="504.86" r="1.9" fill="none" stroke="#00ff00" stroke-width="0.8"/>
<circle cx="548.20" cy="505.37" r="1.9" fill="none" stroke="#00ff00" stroke-width="0.8"/>
<circle cx="548.17" cy="505.88" r="1.9" fill="none" stroke="#00ff00" stroke-width="0.8"/>
<circle cx="547.87" cy="506.39" r="1.9" fill="none" stroke="#00ff00" stroke-width="0.8"/>
<circle cx="547.73" cy="506.89" r="1.9" fill="none" stroke="#00ff00" stroke-width="0.8"/>
<circle cx="548.21" cy="507.40" r="1.9" fill="none" stroke="#00ff00" stroke-width="0.8"/>
<circle cx="548.06" cy="507.91" r="1.9" fill="none" stroke="#00ff00" stroke-width="0.8"/>
<circle cx="547.73" cy="508.42" r="1.9" fill="none" stroke="#00ff00" stroke-width="0.8"/>
<circle cx="547.85" cy="508.93" r="1.9" fill="none" stroke="#00ff00" stroke-width="0.8"/>
<circle cx="547.77" cy="509.44" r="1.9" fill="none" stroke="#00ff00" stroke-width="0.8"/>
<circle cx="548.17" cy="509.95" r="1.9" fill="none" stroke="#00ff00" stroke-width="0.8"/>
<circle cx="547.83" cy="510.46" r="1.9" fill="none" stroke="#00ff00" stroke-width="0.8"/>
<circle cx="548.25" cy="510.96" r="1.9" fill="none" stroke="#00ff00" stroke-width="0.8"/>
<circle cx="548.15" cy="511.47" r="1.9" fill="none" stroke="#00ff00" stroke-width="0.8"/>
<circle cx="547.75" cy="511.98" r="1.9" fill="none" stroke="#00ff00" stroke-width="0.8"/>
<circle cx="548.12" cy="512.49" r="1.9" fill="none" stroke="#00ff00" stroke-width="0.8"/>
<circle cx="547.94" cy="513.00" r="1.9" fill="none" stroke="#00ff00" stroke-width="0.8"/>
<circle cx="572.55" cy="517.70" r="1.9" fill="none" stroke="#0000ff" stroke-width="0.8"/>
<circle cx="572.60" cy="518.22" r="1.9" fill="none" stroke="#0000ff" stroke-width="0.8"/>
<circle cx="572.27" cy="518.73" r="1.9" fill="none" stroke="#0000ff" stroke-width="0.8"/>
<circle cx="572.15" cy="519.25" r="1.9" fill="none" stroke="#0000ff" stroke-width="0.8"/>
<circle cx="572.67" cy="519.77" r="1.9" fill="none" stroke="#0000ff" stroke-width="0.8"/>
<circle cx="572.35" cy="520.28" r="1.9" fill="none" stroke="#0000ff" stroke-width="0.8"/>
<circle cx="572.66" cy="520.80" r="1.9" fill="none" stroke="#0000ff" stroke-width="0.8"/>
<circle cx="572.51" cy="521.32" r="1.9" fill="none" stroke="#0000ff" stroke-width="0.8"/>
<circle cx="572.54" cy="521.84" r="1.9" fill="none" stroke="#0000ff" stroke-width="0.8"/>
<circle cx="572.60" cy="522.35" r="1.9" fill="none" stroke="#0000ff" stroke-width="0.8"/>
<circle cx="572.48" cy="522.87" r="1.9" fill="none" stroke="#0000ff" stroke-width="0.8"/>
<circle cx="572.37" cy="523.39" r="1.9" fill="none" stroke="#0000ff" stroke-width="0.8"/>
<circle cx="572.13" cy="523.90" r="1.9" fill="none" stroke="#0000ff" stroke-width="0.8"/>
<circle cx="572.52" cy="524.42" r="1.9" fill="none" stroke="#0000ff" stroke-width="0.8"/>
<circle cx="572.36" cy="524.94" r="1.9" fill="none" stroke="#0000ff" stroke-width="0.8"/>
<circle cx="572.41" cy="525.45" r="1.9" fill="none" stroke="#0000ff" stroke-width="0.8"/>
<circle cx="572.66" cy="525.97" r="1.9" fill="none" stroke="#0000ff" stroke-width="0.8"/>
<circle cx="572.18" cy="526.49" r="1.9" fill="none" stroke="#0000ff" stroke-width="0.8"/>
<circle cx="572.56" cy="527.01" r="1.9" fill="none" stroke="#0000ff" stroke-width="0.8"/>
<circle cx="572.13" cy="527.52" r="1.9" fill="none" stroke="#0000ff" stroke-width="0.8"/>
<circle cx="572.52" cy="528.04" r="1.9" fill="none" stroke="#0000ff" stroke-width="0.8"/>
<circle cx="572.58" cy="528.56" r="1.9" fill="none" stroke="#0000ff" stroke-width="0.8"/>
<circle cx="572.26" cy="529.07" r="1.9" fill="none" stroke="#0000ff" stroke-width="0.8"/>
<circle cx="572.43" cy="529.59" r="1.9" fill="none" stroke="#0000ff" stroke-width="0.8"/>
<circle cx="572.68" cy="530.11" r="1.9" fill="none" stroke="#0000ff" stroke-width="0.8"/>
<circle cx="572.48" cy="530.62" r="1.9" fill="none" stroke="#0000ff" stroke-width="0.8"/>
<circle cx="572.43" cy="531.14" r="1.9" fill="none" stroke="#0000ff" stroke-width="0.8"/>
<circle cx="572.25" cy="531.66" r="1.9" fill="none" stroke="#0000ff" stroke-width="0.8"/>
<circle cx="572.14" cy="532.18" r="1.9" fill="none" stroke="#0000ff" stroke-width="0.8"/>
<circle cx="572.31" cy="532.69" r="1.9" fill="none" stroke="#0000ff" stroke-width="0.8"/>
<circle cx="572.35" cy="533.21" r="1.9" fill="none" stroke="#0000ff" stroke-width="0.8"/>
<circle cx="572.22" cy="533.73" r="1.9" fill="none" stroke="#0000ff" stroke-width="0.8"/>
<circle cx="572.29" cy="534.24" r="1.9" fill="none" stroke="#0000ff" stroke-width="0.8"/>
<circle cx="572.18" cy="534.76" r="1.9" fill="none" stroke="#0000ff" stroke-width="0.8"/>
<circle cx="572.52" cy="535.28" r="1.9" fill="none" stroke="#0000ff" stroke-width="0.8"/>
<circle cx="572.50" cy="535.79" r="1.9" fill="none" stroke="#0000ff" stroke-width="0.8"/>
<circle cx="572.24" cy="536.31" r="1.9" fill="none" stroke="#0000ff" stroke-width="0.8"/>
<circle cx="572.25" cy="536.83" r="1.9" fill="none" stroke="#0000ff" stroke-width="0.8"/>
<circle cx="572.41" cy="537.35" r="1.9" fill="none" stroke="#0000ff" stroke-width="0.8"/>
<circle cx="572.37" cy="537.86" r="1.9" fill="none" stroke="#0000ff" stroke-width="0.8"/>
<circle cx="572.66" cy="538.38" r="1.9" fill="none" stroke="#0000ff" stroke-width="0.8"/>
<circle cx="572.31" cy="538.90" r="1.9" fill="none" stroke="#0000ff" stroke-width="0.8"/>
<circle cx="572.28" cy="539.41" r="1.9" fill="none" stroke="#0000ff" stroke-width="0.8"/>
<circle cx="572.63" cy="539.93" r="1.9" fill="none" stroke="#0000ff" stroke-width="0.8"/>
<circle cx="572.19" cy="540.45" r="1.9" fill="none" stroke="#0000ff" stroke-width="0.8"/>
<circle cx="572.44" cy="540.96" r="1.9" fill="none" stroke="#0000ff" stroke-width="0.8"/>
<circle cx="572.30" cy="541.48" r="1.9" fill="none" stroke="#0000ff" stroke-width="0.8"/>
<circle cx="572.59" cy="542.00" r="1.9" fill="none" stroke="#0000ff" stroke-width="0.8"/>
<circle cx="572.43" cy="542.52" r="1.9" fill="none" stroke="#0000ff" stroke-width="0.8"/>
<circle cx="572.56" cy="543.03" r="1.9" fill="none" stroke="#0000ff" stroke-width="0.8"/>
<circle cx="572.20" cy="543.55" r="1.9" fill="none" stroke="#0000ff" stroke-width="0.8"/>
<circle cx="572.50" cy="544.07" r="1.9" fill="none" stroke="#0000ff" stroke-width="0.8"/>
<circle cx="572.46" cy="544.58" r="1.9" fill="none" stroke="#0000ff" stroke-width="0.8"/>
<circle cx="572.38" cy="545.10" r="1.9" fill="none" stroke="#0000ff" stroke-width="0.8"/>
<circle cx="575.26" cy="485.50" r="1.9" fill="none" stroke="#00ff00" stroke-width="0.8"/>
<circle cx="575.30" cy="486.01" r="1.9" fill="none" stroke="#00ff00" stroke-width="0.8"/>
<circle cx="574.87" cy="486.52" r="1.9" fill="none" stroke="#00ff00" stroke-width="0.8"/>
<circle cx="574.97" cy="487.03" r="1.9" fill="none" stroke="#00ff00" stroke-width="0.8"/>
<circle cx="575.02" cy="487.54" r="1.9" fill="none" stroke="#00ff00" stroke-width="0.8"/>
<circle cx="574.92" cy="488.05" r="1.9" fill="none" stroke="#00ff00" stroke-width="0.8"/>
<circle cx="574.84" cy="488.56" r="1.9" fill="none" stroke="#00ff00" stroke-width="0.8"/>
<circle cx="574.97" cy="489.07" r="1.9" fill="none" stroke="#00ff00" stroke-width="0.8"/>
<circle cx="574.92" cy="489.58" r="1.9" fill="none" stroke="#00ff00" stroke-width="0.8"/>
<circle cx="575.22" cy="490.09" r="1.9" fill="none" stroke="#00ff00" stroke-width="0.8"/>
<circle cx="575.07" cy="490.60" r="1.9" fill="none" stroke="#00ff00" stroke-width="0.8"/>
<circle cx="574.87" cy="491.11" r="1.9" fill="none" stroke="#00ff00" stroke-width="0.8"/>
<circle cx="574.99" cy="491.62" r="1.9" fill="none" stroke="#00ff00" stroke-width="0.8"/>
<circle cx="575.08" cy="492.13" r="1.9" fill="none" stroke="#00ff00" stroke-width="0.8"/>
<circle cx="575.02" cy="492.64" r="1.9" fill="none" stroke="#00ff00" stroke-width="0.8"/>
<circle cx="574.90" cy="493.15" r="1.9" fill="none" stroke="#00ff00" stroke-width="0.8"/>
<circle cx="574.84" cy="493.66" r="1.9" fill="none" stroke="#00ff00" stroke-width="0.8"/>
<circle cx="574.81" cy="494.17" r="1.9" fill="none" stroke="#00ff00" stroke-width="0.8"/>
<circle cx="575.40" cy="494.68" r="1.9" fill="none" stroke="#00ff00" stroke-width="0.8"/>
<circle cx="575.25" cy="495.19" r="1.9" fill="none" stroke="#00ff00" stroke-width="0.8"/>
<circle cx="574.85" cy="495.70" r="1.9" fill="none" stroke="#00ff00" stroke-width="0.8"/>
<circle cx="575.23" cy="496.21" r="1.9" fill="none" stroke="#00ff00" stroke-width="0.8"/>
<circle cx="575.39" cy="496.72" r="1.9" fill="none" stroke="#00ff00" stroke-width="0.8"/>
<circle cx="575.14" cy="497.23" r="1.9" fill="none" stroke="#00ff00" stroke-width="0.8"/>
<circle cx="574.87" cy="497.74" r="1.9" fill="none" stroke="#00ff00" stroke-width="0.8"/>
<circle cx="575.09" cy="498.25" r="1.9" fill="none" stroke="#00ff00" stroke-width="0.8"/>
<circle cx="575.06" cy="498.76" r="1.9" fill="none" stroke="#00ff00" stroke-width="0.8"/>
<circle cx="574.91" cy="499.27" r="1.9" fill="none" stroke="#00ff00" stroke-width="0.8"/>
<circle cx="575.13" cy="499.78" r="1.9" fill="none" stroke="#00ff00" stroke-width="0.8"/>
<circle cx="574.80" cy="500.29" r="1.9" fill="none" stroke="#00ff00" stroke-width="0.8"/>
<circle cx="575.35" cy="500.80" r="1.9" fill="none" stroke="#00ff00" stroke-width="0.8"/>
<circle cx="575.19" cy="501.30" r="1.9" fill="none" stroke="#00ff00" stroke-width="0.8"/>
<circle cx="575.18" cy="501.81" r="1.9" fill="none" stroke="#00ff00" stroke-width="0.8"/>
<circle cx="575.36" cy="502.32" r="1.9" fill="none" stroke="#00ff00" stroke-width="0.8"/>
<circle cx="575.19" cy="502.83" r="1.9" fill="none" stroke="#00ff00" stroke-width="0.8"/>
<circle cx="574.95" cy="503.34" r="1.9" fill="none" stroke="#00ff00" stroke-width="0.8"/>
<circle cx="574.95" cy="503.85" r="1.9" fill="none" stroke="#00ff00" stroke-width="0.8"/>
<circle cx="574.88" cy="504.36" r="1.9" fill="none" stroke="#00ff00" stroke-width="0.8"/>
<circle cx="574.82" cy="504.87" r="1.9" fill="none" stroke="#00ff00" stroke-width="0.8"/>
<circle cx="575.26" cy="505.38" r="1.9" fill="none" stroke="#00ff00" stroke-width="0.8"/>
<circle cx="575.30" cy="505.89" r="1.9" fill="none" stroke="#00ff00" stroke-width="0.8"/>
<circle cx="574.98" cy="506.40" r="1.9" fill="none" stroke="#00ff00" stroke-width="0.8"/>
<circle cx="574.91" cy="506.91" r="1.9" fill="none" stroke="#00ff00" stroke-width="0.8"/>
<circle cx="575.18" cy="507.42" r="1.9" fill="none" stroke="#00ff00" stroke-width="0.8"/>
<circle cx="575.31" cy="507.93" r="1.9" fill="none" stroke="#00ff00" stroke-width="0.8"/>
<circle cx="575.36" cy="508.44" r="1.9" fill="none" stroke="#00ff00" stroke-width="0.8"/>
<circle cx="574.90" cy="508.95" r="1.9" fill="none" stroke="#00ff00" stroke-width="0.8"/>
<circle cx="575.27" cy="509.46" r="1.9" fill="none" stroke="#00ff00" stroke-width="0.8"/>
<circle cx="575.30" cy="509.97" r="1.9" fill="none" stroke="#00ff00" stroke-width="0.8"/>
<circle cx="575.25" cy="510.48" r="1.9" fill="none" stroke="#00ff00" stroke-width="0.8"/>
<circle cx="575.00" cy="510.99" r="1.9" fill="none" stroke="#00ff00" stroke-width="0.8"/>
<circle cx="574.91" cy="511.50" r="1.9" fill="none" stroke="#00ff00" stroke-width="0.8"/>
<circle cx="575.30" cy="512.01" r="1.9" fill="none" stroke="#00ff00" stroke-width="0.8"/>
<circle cx="574.99" cy="512.52" r="1.9" fill="none" stroke="#00ff00" stroke-width="0.8"/>
<circle cx="575.02" cy="513.03" r="1.9" fill="none" stroke="#00ff00" stroke-width="0.8"/>
<circle cx="575.13" cy="513.54" r="1.9" fill="none" stroke="#00ff00" stroke-width="0.8"/>
<circle cx="575.02" cy="514.05" r="1.9" fill="none" stroke="#00ff00" stroke-width="0.8"/>
<circle cx="575.30" cy="514.56" r="1.9" fill="none" stroke="#00ff00" stroke-width="0.8"/>
<circle cx="574.94" cy="515.07" r="1.9" fill="none" stroke="#00ff00" stroke-width="0.8"/>
<circle cx="574.82" cy="515.58" r="1.9" fill="none" stroke="#00ff00" stroke-width="0.8"/>
<circle cx="575.14" cy="516.09" r="1.9" fill="none" stroke="#00ff00" stroke-width="0.8"/>
<circle cx="575.18" cy="516.60" r="1.9" fill="none" stroke="#00ff00" stroke-width="0.8"/>
<circle cx="599.69" cy="564.50" r="1.9" fill="none" stroke="#0000ff" stroke-width="0.8"/>
<circle cx="599.62" cy="564.50" r="1.9" fill="none" stroke="#0000ff" stroke-width="0.8"/>
<circle cx="602.44" cy="559.70" r="1.9" fill="none" stroke="#00ff00" stroke-width="0.8"/>
<circle cx="602.47" cy="560.28" r="1.9" fill="none" stroke="#00ff00" stroke-width="0.8"/>
<circle cx="602.20" cy="560.87" r="1.9" fill="none" stroke="#00ff00" stroke-width="0.8"/>
<circle cx="602.20" cy="561.45" r="1.9" fill="none" stroke="#00ff00" stroke-width="0.8"/>
<circle cx="601.99" cy="562.03" r="1.9" fill="none" stroke="#00ff00" stroke-width="0.8"/>
<circle cx="602.08" cy="562.62" r="1.9" fill="none" stroke="#00ff00" stroke-width="0.8"/>
<circle cx="602.25" cy="563.20" r="1.9" fill="none" stroke="#00ff00" stroke-width="0.8"/>
<rect x="569.8" y="444.5" width="51.9" height="22.1" fill="#fff" stroke="#999" stroke-width="0.8"/>
<circle cx="581.60" cy="450.40" r="1.8" fill="none" stroke="#0000ff" stroke-width="0.7"/>
<circle cx="581.60" cy="461.00" r="1.8" fill="none" stroke="#00ff00" stroke-width="0.7"/>
<text x="593.80" y="453.80" font-size="8.1" fill="#222" text-anchor="start">Young</text>
<text x="593.80" y="464.40" font-size="8.1" fill="#222" text-anchor="start">Mature</text>
<path d="M 32.30 834.16 A 30.94 30.94 0 0 1 63.24 865.10" fill="none" stroke="#e8e8e8" stroke-width="0.8"/>
<path d="M 32.30 803.22 A 61.88 61.88 0 0 1 94.18 865.10" fill="none" stroke="#e8e8e8" stroke-width="0.8"/>
<path d="M 32.30 772.28 A 92.82 92.82 0 0 1 125.12 865.10" fill="none" stroke="#e8e8e8" stroke-width="0.8"/>
<path d="M 32.30 741.34 A 123.76 123.76 0 0 1 156.06 865.10" fill="none" stroke="#e8e8e8" stroke-width="0.8"/>
<path d="M 32.30 710.40 A 154.70 154.70 0 0 1 187.00 865.10" fill="none" stroke="#e8e8e8" stroke-width="0.8"/>
<line x1="32.30" y1="865.10" x2="109.65" y2="731.13" stroke="#e8e8e8" stroke-width="0.8"/>
<line x1="32.30" y1="865.10" x2="166.27" y2="787.75" stroke="#e8e8e8" stroke-width="0.8"/>
<line x1="32.30" y1="865.10" x2="187.00" y2="865.10" stroke="#e8e8e8" stroke-width="0.9"/>
<line x1="32.30" y1="865.10" x2="61.29" y2="713.14" stroke="#ff0000" stroke-width="1.1"/>
<line x1="32.30" y1="865.10" x2="185.91" y2="846.78" stroke="#ff9900" stroke-width="1.1"/>
<line x1="32.30" y1="865.10" x2="186.01" y2="847.59" stroke="#ccff00" stroke-width="1.1"/>
<line x1="32.30" y1="865.10" x2="138.40" y2="752.51" stroke="#33ff00" stroke-width="1.1"/>
<line x1="32.30" y1="865.10" x2="147.80" y2="762.19" stroke="#00ff66" stroke-width="1.1"/>
<line x1="32.30" y1="865.10" x2="130.70" y2="745.73" stroke="#00ffff" stroke-width="1.1"/>
<line x1="32.30" y1="865.10" x2="154.54" y2="770.28" stroke="#0066ff" stroke-width="1.1"/>
<line x1="32.30" y1="865.10" x2="81.13" y2="718.31" stroke="#3300ff" stroke-width="1.1"/>
<line x1="32.30" y1="865.10" x2="186.18" y2="849.20" stroke="#cc00ff" stroke-width="1.1"/>
<line x1="32.30" y1="865.10" x2="185.64" y2="844.64" stroke="#ff0099" stroke-width="1.1"/>
<line x1="32.30" y1="710.40" x2="32.30" y2="865.10" stroke="#111" stroke-width="1.0"/>
<text x="32.30" y="705.80" font-size="7.5" fill="#333" text-anchor="middle">0</text>
<text x="115.77" y="726.91" font-size="7.5" fill="#333" text-anchor="middle">30</text>
<text x="173.18" y="784.52" font-size="7.5" fill="#333" text-anchor="middle">60</text>
<text x="195.80" y="867.50" font-size="7.5" fill="#333" text-anchor="middle">90</text>
<text x="26.80" y="791.90" font-size="9.3" fill="#1a1a1a" text-anchor="middle" transform="rotate(-90 26.80 791.90)">Mean vector humans</text>
<path d="M 228.40 834.06 A 30.94 30.94 0 0 1 259.34 865.00" fill="none" stroke="#e8e8e8" stroke-width="0.8"/>
<path d="M 228.40 803.12 A 61.88 61.88 0 0 1 290.28 865.00" fill="none" stroke="#e8e8e8" stroke-width="0.8"/>
<path d="M 228.40 772.18 A 92.82 92.82 0 0 1 321.22 865.00" fill="none" stroke="#e8e8e8" stroke-width="0.8"/>
<path d="M 228.40 741.24 A 123.76 123.76 0 0 1 352.16 865.00" fill="none" stroke="#e8e8e8" stroke-width="0.8"/>
<path d="M 228.40 710.30 A 154.70 154.70 0 0 1 383.10 865.00" fill="none" stroke="#e8e8e8" stroke-width="0.8"/>
<line x1="228.40" y1="865.00" x2="305.75" y2="731.03" stroke="#e8e8e8" stroke-width="0.8"/>
<line x1="228.40" y1="865.00" x2="362.37" y2="787.65" stroke="#e8e8e8" stroke-width="0.8"/>
<line x1="228.40" y1="865.00" x2="383.10" y2="865.00" stroke="#e8e8e8" stroke-width="0.9"/>
<line x1="228.40" y1="865.00" x2="270.26" y2="716.07" stroke="#ff0000" stroke-width="1.1"/>
<line x1="228.40" y1="865.00" x2="379.99" y2="834.16" stroke="#ff9900" stroke-width="1.1"/>
<line x1="228.40" y1="865.00" x2="381.02" y2="839.73" stroke="#ccff00" stroke-width="1.1"/>
<line x1="228.40" y1="865.00" x2="316.25" y2="737.66" stroke="#33ff00" stroke-width="1.1"/>
<line x1="228.40" y1="865.00" x2="359.45" y2="782.79" stroke="#00ff66" stroke-width="1.1"/>
<line x1="228.40" y1="865.00" x2="321.07" y2="741.13" stroke="#00ffff" stroke-width="1.1"/>
<line x1="228.40" y1="865.00" x2="356.80" y2="778.72" stroke="#0066ff" stroke-width="1.1"/>
<line x1="228.40" y1="865.00" x2="260.04" y2="713.57" stroke="#3300ff" stroke-width="1.1"/>
<line x1="228.40" y1="865.00" x2="382.90" y2="857.17" stroke="#cc00ff" stroke-width="1.1"/>
<line x1="228.40" y1="865.00" x2="377.83" y2="824.96" stroke="#ff0099" stroke-width="1.1"/>
<line x1="228.40" y1="710.30" x2="228.40" y2="865.00" stroke="#111" stroke-width="1.0"/>
<text x="228.40" y="705.70" font-size="7.5" fill="#333" text-anchor="middle">0</text>
<text x="311.87" y="726.81" font-size="7.5" fill="#333" text-anchor="middle">30</text>
<text x="369.28" y="784.42" font-size="7.5" fill="#333" text-anchor="middle">60</text>
<text x="391.90" y="867.40" font-size="7.5" fill="#333" text-anchor="middle">90</text>
<text x="222.90" y="784.60" font-size="9.3" fill="#1a1a1a" text-anchor="middle" transform="rotate(-90 222.90 784.60)">Mean vector Young Networks</text>
<path d="M 425.10 834.06 A 30.94 30.94 0 0 1 456.04 865.00" fill="none" stroke="#e8e8e8" stroke-width="0.8"/>
<path d="M 425.10 803.12 A 61.88 61.88 0 0 1 486.98 865.00" fill="none" stroke="#e8e8e8" stroke-width="0.8"/>
<path d="M 425.10 772.18 A 92.82 92.82 0 0 1 517.92 865.00" fill="none" stroke="#e8e8e8" stroke-width="0.8"/>
<path d="M 425.10 741.24 A 123.76 123.76 0 0 1 548.86 865.00" fill="none" stroke="#e8e8e8" stroke-width="0.8"/>
<path d="M 425.10 710.30 A 154.70 154.70 0 0 1 579.80 865.00" fill="none" stroke="#e8e8e8" stroke-width="0.8"/>
<line x1="425.10" y1="865.00" x2="502.45" y2="731.03" stroke="#e8e8e8" stroke-width="0.8"/>
<line x1="425.10" y1="865.00" x2="559.07" y2="787.65" stroke="#e8e8e8" stroke-width="0.8"/>
<line x1="425.10" y1="865.00" x2="579.80" y2="865.00" stroke="#e8e8e8" stroke-width="0.9"/>
<line x1="425.10" y1="865.00" x2="437.51" y2="710.80" stroke="#ff0000" stroke-width="1.1"/>
<line x1="425.10" y1="865.00" x2="579.53" y2="855.83" stroke="#ff9900" stroke-width="1.1"/>
<line x1="425.10" y1="865.00" x2="579.59" y2="856.90" stroke="#ccff00" stroke-width="1.1"/>
<line x1="425.10" y1="865.00" x2="529.02" y2="750.40" stroke="#33ff00" stroke-width="1.1"/>
<line x1="425.10" y1="865.00" x2="540.60" y2="762.09" stroke="#00ff66" stroke-width="1.1"/>
<line x1="425.10" y1="865.00" x2="530.21" y2="751.49" stroke="#00ffff" stroke-width="1.1"/>
<line x1="425.10" y1="865.00" x2="541.50" y2="763.10" stroke="#0066ff" stroke-width="1.1"/>
<line x1="425.10" y1="865.00" x2="468.52" y2="716.52" stroke="#3300ff" stroke-width="1.1"/>
<line x1="425.10" y1="865.00" x2="579.79" y2="863.65" stroke="#cc00ff" stroke-width="1.1"/>
<line x1="425.10" y1="865.00" x2="579.38" y2="853.67" stroke="#ff0099" stroke-width="1.1"/>
<line x1="425.10" y1="710.30" x2="425.10" y2="865.00" stroke="#111" stroke-width="1.0"/>
<text x="425.10" y="705.70" font-size="7.5" fill="#333" text-anchor="middle">0</text>
<text x="508.57" y="726.81" font-size="7.5" fill="#333" text-anchor="middle">30</text>
<text x="565.98" y="784.42" font-size="7.5" fill="#333" text-anchor="middle">60</text>
<text x="588.60" y="867.40" font-size="7.5" fill="#333" text-anchor="middle">90</text>
<text x="419.60" y="786.20" font-size="9.3" fill="#1a1a1a" text-anchor="middle" transform="rotate(-90 419.60 786.20)">Mean vector Mature networks</text>
<rect x="566" y="684.1" width="90.4" height="86.5" fill="#fff" stroke="#888" stroke-width="0.8"/>
<line x1="568.30" y1="690.30" x2="583.20" y2="690.30" stroke="#ff0000" stroke-width="1.2"/>
<text x="584.50" y="692.60" font-size="6.5" fill="#222" text-anchor="start">Numerosity</text>
<line x1="568.30" y1="698.75" x2="583.20" y2="698.75" stroke="#ff9900" stroke-width="1.2"/>
<text x="584.50" y="701.05" font-size="6.5" fill="#222" text-anchor="start">Size</text>
<line x1="568.30" y1="707.20" x2="583.20" y2="707.20" stroke="#ccff00" stroke-width="1.2"/>
<text x="584.50" y="709.50" font-size="6.5" fill="#222" text-anchor="start">Spacing</text>
<line x1="568.30" y1="715.65" x2="583.20" y2="715.65" stroke="#33ff00" stroke-width="1.2"/>
<text x="584.50" y="717.95" font-size="6.5" fill="#222" text-anchor="start">Total surf area</text>
<line x1="568.30" y1="724.10" x2="583.20" y2="724.10" stroke="#00ff66" stroke-width="1.2"/>
<text x="584.50" y="726.40" font-size="6.5" fill="#222" text-anchor="start">Item surf area/perimeter</text>
<line x1="568.30" y1="732.55" x2="583.20" y2="732.55" stroke="#00ffff" stroke-width="1.2"/>
<text x="584.50" y="734.85" font-size="6.5" fill="#222" text-anchor="start">Field area</text>
<line x1="568.30" y1="741.00" x2="583.20" y2="741.00" stroke="#0066ff" stroke-width="1.2"/>
<text x="584.50" y="743.30" font-size="6.5" fill="#222" text-anchor="start">Sparsity</text>
<line x1="568.30" y1="749.45" x2="583.20" y2="749.45" stroke="#3300ff" stroke-width="1.2"/>
<text x="584.50" y="751.75" font-size="6.5" fill="#222" text-anchor="start">Total Perimeter</text>
<line x1="568.30" y1="757.90" x2="583.20" y2="757.90" stroke="#cc00ff" stroke-width="1.2"/>
<text x="584.50" y="760.20" font-size="6.5" fill="#222" text-anchor="start">Coverage</text>
<line x1="568.30" y1="766.35" x2="583.20" y2="766.35" stroke="#ff0099" stroke-width="1.2"/>
<text x="584.50" y="768.65" font-size="6.5" fill="#222" text-anchor="start">Apparent closeness</text>
</svg>
</body></html>
